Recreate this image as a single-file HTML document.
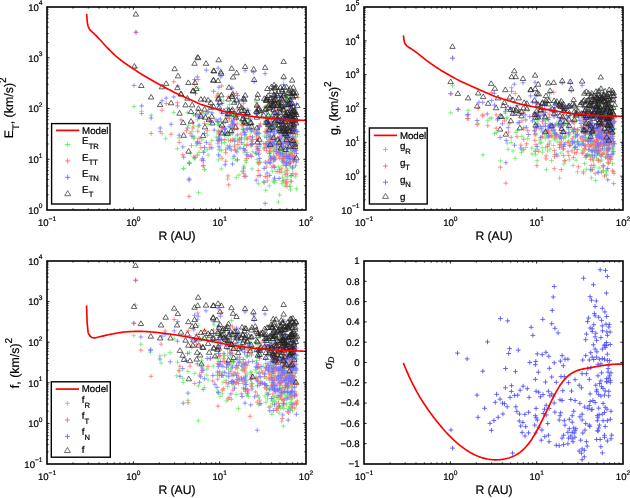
<!DOCTYPE html><html><head><meta charset="utf-8"><style>html,body{margin:0;padding:0;background:#fff;width:630px;height:498px;overflow:hidden}svg{display:block;will-change:transform}text{font-family:"Liberation Sans", sans-serif;fill:#000;stroke:#000;stroke-width:0.22px;text-rendering:geometricPrecision}</style></head><body>
<svg width="630" height="498" viewBox="0 0 630 498">
<path d="M133.2 67.4h4.7M135.5 65.1v4.7M195.8 88.5h4.7M198.2 86.2v4.7M131.7 106.6h4.7M134.0 104.2v4.7M139.2 111.3h4.7M141.6 109.0v4.7M148.8 115.3h4.7M151.2 113.0v4.7M171.5 112.6h4.7M173.8 110.2v4.7M159.7 133.4h4.7M162.0 131.1v4.7M163.3 138.8h4.7M165.7 136.5v4.7M175.1 148.7h4.7M177.4 146.3v4.7M176.8 137.9h4.7M179.2 135.6v4.7M186.8 163.2h4.7M189.2 160.8v4.7M181.3 168.6h4.7M183.7 166.2v4.7M192.2 158.7h4.7M194.6 156.3v4.7M187.8 153.3h4.7M190.1 151.0v4.7M202.2 169.5h4.7M204.5 167.2v4.7M191.3 126.1h4.7M193.7 123.8v4.7M205.8 124.3h4.7M208.1 122.0v4.7M195.0 119.8h4.7M197.3 117.5v4.7M185.1 112.6h4.7M187.4 110.2v4.7M191.3 138.4h4.7M193.7 136.1v4.7M199.5 139.7h4.7M201.8 137.3v4.7M209.5 140.6h4.7M211.8 138.2v4.7M204.8 149.6h4.7M207.2 147.2v4.7M194.1 145.1h4.7M196.4 142.8v4.7M189.6 131.6h4.7M191.9 129.2v4.7M204.8 135.2h4.7M207.2 132.8v4.7M196.8 152.4h4.7M199.1 150.1v4.7M205.8 155.1h4.7M208.1 152.8v4.7M186.7 162.6h4.7M189.0 160.2v4.7M181.2 168.6h4.7M183.6 166.2v4.7M202.3 169.7h4.7M204.7 167.3v4.7M196.2 192.6h4.7M198.6 190.2v4.7M215.8 93.5h4.7M218.1 91.2v4.7M229.3 87.2h4.7M231.7 84.9v4.7M281.3 79.4h4.7M283.7 77.1v4.7M190.9 136.5h4.7M193.2 134.2v4.7M205.7 112.4h4.7M208.1 110.1v4.7M200.4 113.1h4.7M202.8 110.8v4.7M191.3 114.4h4.7M193.7 112.0v4.7M201.9 151.1h4.7M204.2 148.7v4.7M192.1 137.7h4.7M194.4 135.3v4.7M195.9 126.8h4.7M198.2 124.4v4.7M186.2 125.1h4.7M188.6 122.7v4.7M233.9 177.6h4.7M236.3 175.3v4.7M233.3 116.6h4.7M235.6 114.2v4.7M232.8 138.3h4.7M235.1 135.9v4.7M223.5 121.0h4.7M225.9 118.6v4.7M231.7 115.3h4.7M234.0 112.9v4.7M235.5 149.0h4.7M237.8 146.6v4.7M239.4 122.5h4.7M241.7 120.2v4.7M213.9 137.1h4.7M216.3 134.8v4.7M217.4 156.1h4.7M219.8 153.7v4.7M221.9 134.7h4.7M224.3 132.3v4.7M226.6 112.3h4.7M228.9 110.0v4.7M230.0 128.2h4.7M232.4 125.9v4.7M242.6 110.5h4.7M244.9 108.1v4.7M246.1 119.4h4.7M248.5 117.1v4.7M248.7 125.2h4.7M251.1 122.9v4.7M216.9 149.8h4.7M219.2 147.5v4.7M215.3 143.6h4.7M217.7 141.2v4.7M235.2 116.3h4.7M237.6 114.0v4.7M241.7 144.5h4.7M244.1 142.2v4.7M243.5 115.8h4.7M245.8 113.4v4.7M219.1 150.3h4.7M221.4 147.9v4.7M232.5 149.4h4.7M234.9 147.1v4.7M241.8 131.8h4.7M244.2 129.5v4.7M244.2 137.5h4.7M246.6 135.1v4.7M216.1 159.9h4.7M218.4 157.6v4.7M225.3 145.8h4.7M227.7 143.5v4.7M236.6 175.1h4.7M238.9 172.8v4.7M248.7 145.8h4.7M251.1 143.5v4.7M256.9 153.1h4.7M259.3 150.8v4.7M216.2 133.9h4.7M218.5 131.5v4.7M219.2 143.2h4.7M221.5 140.9v4.7M229.9 114.7h4.7M232.2 112.3v4.7M243.3 160.4h4.7M245.7 158.1v4.7M253.9 134.3h4.7M256.3 131.9v4.7M223.7 135.4h4.7M226.1 133.0v4.7M232.3 145.0h4.7M234.7 142.7v4.7M221.3 100.7h4.7M223.7 98.4v4.7M230.3 129.9h4.7M232.7 127.5v4.7M233.6 160.2h4.7M236.0 157.8v4.7M241.0 128.2h4.7M243.3 125.9v4.7M242.1 135.3h4.7M244.5 132.9v4.7M254.5 147.0h4.7M256.9 144.7v4.7M257.7 146.2h4.7M260.1 143.9v4.7M226.1 134.5h4.7M228.5 132.2v4.7M236.5 101.6h4.7M238.9 99.2v4.7M216.1 124.4h4.7M218.4 122.0v4.7M230.6 158.2h4.7M233.0 155.9v4.7M225.3 179.0h4.7M227.6 176.7v4.7M226.1 140.3h4.7M228.5 137.9v4.7M235.1 141.0h4.7M237.5 138.6v4.7M241.6 166.1h4.7M244.0 163.7v4.7M241.6 152.2h4.7M244.0 149.8v4.7M256.3 163.9h4.7M258.7 161.5v4.7M215.8 122.5h4.7M218.2 120.1v4.7M217.4 149.8h4.7M219.8 147.4v4.7M254.1 153.5h4.7M256.4 151.1v4.7M218.9 168.9h4.7M221.3 166.5v4.7M239.8 171.4h4.7M242.1 169.0v4.7M244.8 155.9h4.7M247.2 153.6v4.7M249.6 141.3h4.7M252.0 138.9v4.7M229.0 116.5h4.7M231.4 114.1v4.7M255.0 139.2h4.7M257.4 136.9v4.7M216.2 131.2h4.7M218.6 128.8v4.7M244.8 152.6h4.7M247.1 150.3v4.7M250.5 151.8h4.7M252.9 149.4v4.7M255.5 162.4h4.7M257.9 160.1v4.7M259.1 116.0h4.7M261.5 113.6v4.7M223.3 116.1h4.7M225.7 113.8v4.7M248.6 132.0h4.7M250.9 129.6v4.7M254.8 159.6h4.7M257.1 157.2v4.7M257.2 133.0h4.7M259.6 130.7v4.7M216.1 132.8h4.7M218.4 130.5v4.7M243.9 162.2h4.7M246.3 159.8v4.7M253.9 102.2h4.7M256.2 99.8v4.7M224.9 147.8h4.7M227.3 145.5v4.7M227.3 104.6h4.7M229.7 102.2v4.7M242.2 139.3h4.7M244.6 136.9v4.7M249.7 168.9h4.7M252.1 166.5v4.7M254.5 133.4h4.7M256.9 131.1v4.7M222.0 142.4h4.7M224.3 140.0v4.7M229.8 133.8h4.7M232.2 131.5v4.7M254.9 114.0h4.7M257.2 111.7v4.7M236.8 138.4h4.7M239.1 136.1v4.7M240.1 129.2h4.7M242.5 126.9v4.7M244.6 139.2h4.7M247.0 136.9v4.7M248.9 141.2h4.7M251.2 138.8v4.7M283.2 154.4h4.7M285.5 152.0v4.7M288.0 129.7h4.7M290.3 127.4v4.7M290.4 158.9h4.7M292.8 156.5v4.7M266.0 139.1h4.7M268.4 136.8v4.7M276.5 144.5h4.7M278.9 142.1v4.7M289.5 128.3h4.7M291.9 125.9v4.7M272.7 139.2h4.7M275.1 136.8v4.7M279.5 138.7h4.7M281.8 136.3v4.7M276.7 153.0h4.7M279.1 150.7v4.7M284.5 135.3h4.7M286.8 132.9v4.7M286.4 144.8h4.7M288.8 142.5v4.7M276.8 103.2h4.7M279.1 100.8v4.7M277.4 148.8h4.7M279.8 146.4v4.7M280.9 146.3h4.7M283.3 144.0v4.7M290.2 168.6h4.7M292.6 166.3v4.7M271.8 124.3h4.7M274.1 122.0v4.7M271.4 160.9h4.7M273.7 158.5v4.7M284.9 133.9h4.7M287.2 131.5v4.7M277.4 150.6h4.7M279.8 148.2v4.7M286.6 105.8h4.7M288.9 103.5v4.7M288.3 175.7h4.7M290.6 173.3v4.7M292.1 125.8h4.7M294.4 123.5v4.7M274.9 122.6h4.7M277.2 120.2v4.7M274.8 124.4h4.7M277.2 122.0v4.7M274.1 114.5h4.7M276.4 112.2v4.7M268.0 116.5h4.7M270.4 114.2v4.7M277.3 194.9h4.7M279.6 192.6v4.7M290.1 140.0h4.7M292.4 137.7v4.7M277.7 148.8h4.7M280.0 146.4v4.7M282.6 171.9h4.7M284.9 169.5v4.7M269.3 129.7h4.7M271.6 127.3v4.7M280.5 161.8h4.7M282.9 159.4v4.7M276.4 166.8h4.7M278.7 164.4v4.7M288.0 152.2h4.7M290.4 149.8v4.7M292.8 137.0h4.7M295.2 134.7v4.7M278.6 133.1h4.7M281.0 130.7v4.7M284.3 131.0h4.7M286.7 128.7v4.7M286.8 149.0h4.7M289.2 146.6v4.7M272.8 159.7h4.7M275.1 157.4v4.7M289.8 137.1h4.7M292.2 134.7v4.7M268.8 117.5h4.7M271.1 115.2v4.7M275.9 148.3h4.7M278.3 145.9v4.7M279.3 172.1h4.7M281.7 169.8v4.7M265.7 145.9h4.7M268.0 143.5v4.7M272.2 182.4h4.7M274.5 180.1v4.7M276.0 202.1h4.7M278.4 199.7v4.7M282.6 186.0h4.7M285.0 183.6v4.7M286.1 109.1h4.7M288.4 106.7v4.7M290.9 126.1h4.7M293.3 123.7v4.7M291.9 143.1h4.7M294.3 140.7v4.7M280.5 149.0h4.7M282.9 146.7v4.7M283.9 161.2h4.7M286.2 158.9v4.7M290.7 149.6h4.7M293.1 147.3v4.7M273.8 147.7h4.7M276.1 145.3v4.7M270.9 142.7h4.7M273.3 140.3v4.7M290.8 142.4h4.7M293.1 140.1v4.7M264.8 163.6h4.7M267.2 161.2v4.7M269.7 124.2h4.7M272.1 121.9v4.7M283.4 183.9h4.7M285.7 181.5v4.7M290.6 151.1h4.7M293.0 148.8v4.7M294.1 188.8h4.7M296.4 186.5v4.7M292.3 146.2h4.7M294.7 143.9v4.7M280.1 177.4h4.7M282.5 175.0v4.7M269.7 148.0h4.7M272.1 145.6v4.7M288.2 189.9h4.7M290.6 187.5v4.7M283.0 145.9h4.7M285.4 143.5v4.7M290.4 159.8h4.7M292.7 157.5v4.7M292.9 176.8h4.7M295.3 174.5v4.7M263.2 190.3h4.7M265.6 188.0v4.7M279.5 183.7h4.7M281.9 181.3v4.7M263.6 124.7h4.7M265.9 122.4v4.7M284.6 168.8h4.7M286.9 166.5v4.7M287.9 148.2h4.7M290.2 145.9v4.7M291.2 111.4h4.7M293.6 109.0v4.7M280.9 161.2h4.7M283.2 158.8v4.7M271.3 180.1h4.7M273.6 177.7v4.7M279.5 133.6h4.7M281.9 131.3v4.7M284.2 96.5h4.7M286.6 94.1v4.7M261.9 182.6h4.7M264.3 180.3v4.7M273.0 120.5h4.7M275.3 118.2v4.7M276.1 142.7h4.7M278.5 140.3v4.7M277.3 126.2h4.7M279.6 123.8v4.7M286.4 129.5h4.7M288.8 127.1v4.7M271.7 147.6h4.7M274.0 145.3v4.7M267.4 137.1h4.7M269.7 134.7v4.7M270.0 171.1h4.7M272.3 168.7v4.7M280.2 180.9h4.7M282.6 178.6v4.7M287.9 166.1h4.7M290.3 163.7v4.7M293.4 137.1h4.7M295.8 134.7v4.7M286.7 136.3h4.7M289.1 133.9v4.7M283.9 134.7h4.7M286.2 132.3v4.7M263.8 110.5h4.7M266.1 108.1v4.7M262.3 107.3h4.7M264.6 105.0v4.7M280.4 159.1h4.7M282.8 156.7v4.7M280.7 165.6h4.7M283.0 163.3v4.7M292.5 140.2h4.7M294.9 137.9v4.7M264.4 143.6h4.7M266.8 141.3v4.7M278.5 152.9h4.7M280.8 150.5v4.7M285.8 143.9h4.7M288.2 141.6v4.7M290.4 167.9h4.7M292.8 165.5v4.7M267.8 152.7h4.7M270.2 150.4v4.7M272.2 131.4h4.7M274.5 129.0v4.7M280.9 148.8h4.7M283.3 146.5v4.7M289.2 142.4h4.7M291.5 140.0v4.7M281.2 128.0h4.7M283.6 125.7v4.7M281.3 116.4h4.7M283.7 114.1v4.7M268.0 136.5h4.7M270.3 134.1v4.7M265.9 135.2h4.7M268.3 132.9v4.7M255.9 183.7h4.7M258.3 181.3v4.7M287.6 137.1h4.7M290.0 134.8v4.7M293.9 143.6h4.7M296.2 141.2v4.7M257.8 162.1h4.7M260.1 159.8v4.7M279.7 123.5h4.7M282.0 121.1v4.7M283.6 136.3h4.7M285.9 134.0v4.7M286.7 114.4h4.7M289.1 112.0v4.7M290.5 115.2h4.7M292.8 112.9v4.7M294.7 143.0h4.7M297.1 140.6v4.7M263.7 120.5h4.7M266.0 118.2v4.7M269.3 167.3h4.7M271.7 164.9v4.7M271.5 138.8h4.7M273.8 136.4v4.7M284.3 132.9h4.7M286.6 130.6v4.7M266.1 127.4h4.7M268.4 125.0v4.7M261.4 148.9h4.7M263.7 146.5v4.7M268.0 128.3h4.7M270.3 126.0v4.7M264.1 106.1h4.7M266.5 103.7v4.7M284.6 179.4h4.7M287.0 177.0v4.7M267.6 151.0h4.7M269.9 148.6v4.7M264.8 141.8h4.7M267.1 139.4v4.7M283.0 153.0h4.7M285.3 150.7v4.7M287.4 186.5h4.7M289.7 184.1v4.7M289.8 119.2h4.7M292.1 116.8v4.7M279.4 113.8h4.7M281.7 111.4v4.7M276.6 113.2h4.7M278.9 110.8v4.7M292.6 131.6h4.7M294.9 129.3v4.7M269.1 159.3h4.7M271.4 156.9v4.7M287.4 100.4h4.7M289.7 98.0v4.7M267.4 139.2h4.7M269.8 136.9v4.7M276.8 144.4h4.7M279.2 142.1v4.7M288.2 181.3h4.7M290.6 178.9v4.7M292.9 143.9h4.7M295.2 141.6v4.7M267.6 124.9h4.7M269.9 122.5v4.7M292.3 145.0h4.7M294.6 142.7v4.7M282.8 108.2h4.7M285.1 105.8v4.7M281.4 125.9h4.7M283.7 123.6v4.7M289.4 110.6h4.7M291.8 108.3v4.7M281.0 150.4h4.7M283.3 148.0v4.7M284.2 152.1h4.7M286.6 149.7v4.7M290.6 151.9h4.7M292.9 149.6v4.7M273.0 180.5h4.7M275.4 178.1v4.7M271.3 143.2h4.7M273.7 140.9v4.7M277.7 157.0h4.7M280.0 154.6v4.7M288.1 133.8h4.7M290.5 131.5v4.7M277.5 128.3h4.7M279.9 126.0v4.7M292.1 121.9h4.7M294.5 119.5v4.7M269.9 126.5h4.7M272.2 124.2v4.7M266.9 185.9h4.7M269.3 183.5v4.7M287.9 186.1h4.7M290.3 183.7v4.7M290.5 151.0h4.7M292.9 148.7v4.7M271.6 150.4h4.7M274.0 148.1v4.7M284.2 121.8h4.7M286.5 119.4v4.7M289.2 124.5h4.7M291.5 122.2v4.7M283.7 138.4h4.7M286.0 136.0v4.7M295.0 134.4h4.7M297.3 132.1v4.7M271.3 181.6h4.7M273.6 179.3v4.7M279.4 151.0h4.7M281.8 148.6v4.7M271.1 146.1h4.7M273.4 143.7v4.7M285.7 134.5h4.7M288.0 132.2v4.7M267.7 156.1h4.7M270.1 153.7v4.7M287.9 136.6h4.7M290.2 134.2v4.7M286.3 155.6h4.7M288.7 153.3v4.7M282.2 157.2h4.7M284.6 154.8v4.7M291.2 158.0h4.7M293.6 155.6v4.7M285.0 176.4h4.7M287.4 174.1v4.7M266.7 137.1h4.7M269.0 134.7v4.7M287.8 161.7h4.7M290.1 159.4v4.7M273.5 171.5h4.7M275.9 169.1v4.7M262.3 136.1h4.7M264.7 133.7v4.7M293.7 142.9h4.7M296.1 140.5v4.7M282.2 118.7h4.7M284.6 116.4v4.7M288.8 160.0h4.7M291.1 157.7v4.7M265.7 114.6h4.7M268.1 112.2v4.7M282.8 179.9h4.7M285.2 177.6v4.7" stroke="#6ae86a" stroke-width="0.78" fill="none"/>
<path d="M133.8 32.5h4.7M136.2 30.1v4.7M195.8 79.5h4.7M198.2 77.2v4.7M192.2 84.2h4.7M194.6 81.9v4.7M171.5 81.8h4.7M173.8 79.5v4.7M139.2 113.5h4.7M141.6 111.2v4.7M159.7 110.2h4.7M162.0 107.9v4.7M163.8 103.6h4.7M166.2 101.2v4.7M175.1 102.7h4.7M177.4 100.4v4.7M157.8 131.6h4.7M160.2 129.2v4.7M148.8 133.4h4.7M151.2 131.1v4.7M168.8 134.3h4.7M171.1 132.0v4.7M176.8 142.4h4.7M179.2 140.1v4.7M180.5 154.7h4.7M182.8 152.3v4.7M191.3 156.9h4.7M193.7 154.6v4.7M200.8 165.5h4.7M203.1 163.2v4.7M190.5 128.0h4.7M192.8 125.7v4.7M202.2 123.4h4.7M204.5 121.1v4.7M207.6 119.8h4.7M209.9 117.5v4.7M178.7 119.8h4.7M181.0 117.5v4.7M187.8 133.4h4.7M190.1 131.1v4.7M196.8 138.4h4.7M199.1 136.1v4.7M207.6 144.2h4.7M209.9 141.8v4.7M198.6 147.8h4.7M200.9 145.5v4.7M207.6 147.8h4.7M209.9 145.5v4.7M184.1 130.7h4.7M186.4 128.3v4.7M204.8 130.7h4.7M207.2 128.3v4.7M195.0 155.1h4.7M197.3 152.8v4.7M201.0 166.0h4.7M203.3 163.7v4.7M186.7 196.4h4.7M189.0 194.1v4.7M219.3 85.9h4.7M221.7 83.6v4.7M231.2 93.1h4.7M233.5 90.8v4.7M234.3 93.5h4.7M236.7 91.2v4.7M195.1 141.5h4.7M197.5 139.1v4.7M195.5 131.3h4.7M197.8 128.9v4.7M190.7 122.7h4.7M193.0 120.3v4.7M189.1 145.6h4.7M191.5 143.2v4.7M195.2 142.7h4.7M197.6 140.4v4.7M199.2 112.6h4.7M201.6 110.3v4.7M207.2 120.5h4.7M209.6 118.1v4.7M199.4 160.1h4.7M201.7 157.8v4.7M234.8 124.0h4.7M237.1 121.6v4.7M232.9 113.5h4.7M235.2 111.1v4.7M233.2 150.5h4.7M235.6 148.1v4.7M223.0 133.7h4.7M225.4 131.4v4.7M231.2 124.1h4.7M233.6 121.8v4.7M235.6 144.4h4.7M238.0 142.1v4.7M239.6 124.7h4.7M242.0 122.4v4.7M214.0 97.2h4.7M216.3 94.8v4.7M217.7 110.5h4.7M220.0 108.2v4.7M223.4 149.7h4.7M225.8 147.4v4.7M226.6 118.2h4.7M228.9 115.9v4.7M230.7 121.8h4.7M233.1 119.4v4.7M242.8 132.7h4.7M245.2 130.4v4.7M246.4 156.6h4.7M248.8 154.2v4.7M249.8 139.9h4.7M252.1 137.6v4.7M216.7 134.2h4.7M219.0 131.9v4.7M215.2 121.5h4.7M217.6 119.2v4.7M234.2 118.9h4.7M236.6 116.6v4.7M241.1 108.4h4.7M243.5 106.0v4.7M244.0 145.6h4.7M246.4 143.3v4.7M228.1 140.6h4.7M230.5 138.2v4.7M220.4 128.1h4.7M222.7 125.8v4.7M232.1 146.9h4.7M234.5 144.6v4.7M241.5 173.7h4.7M243.9 171.4v4.7M245.5 144.4h4.7M247.8 142.0v4.7M215.5 95.0h4.7M217.8 92.7v4.7M225.7 96.7h4.7M228.1 94.4v4.7M237.5 139.4h4.7M239.8 137.1v4.7M249.4 144.3h4.7M251.8 141.9v4.7M257.1 127.0h4.7M259.5 124.6v4.7M216.4 140.9h4.7M218.8 138.6v4.7M219.5 127.8h4.7M221.9 125.4v4.7M229.3 121.5h4.7M231.6 119.1v4.7M242.7 150.6h4.7M245.0 148.2v4.7M254.8 149.3h4.7M257.2 146.9v4.7M223.4 161.2h4.7M225.8 158.9v4.7M232.3 128.8h4.7M234.6 126.5v4.7M221.4 123.1h4.7M223.7 120.8v4.7M230.8 139.8h4.7M233.1 137.4v4.7M234.8 108.9h4.7M237.2 106.5v4.7M241.5 124.6h4.7M243.9 122.2v4.7M242.6 117.3h4.7M244.9 115.0v4.7M254.0 139.4h4.7M256.3 137.1v4.7M256.7 150.7h4.7M259.1 148.4v4.7M227.0 118.3h4.7M229.4 116.0v4.7M216.6 139.3h4.7M219.0 136.9v4.7M224.5 118.0h4.7M226.8 115.6v4.7M229.9 140.1h4.7M232.2 137.8v4.7M225.0 132.7h4.7M227.4 130.4v4.7M226.3 184.8h4.7M228.7 182.5v4.7M234.8 128.4h4.7M237.1 126.0v4.7M241.1 171.2h4.7M243.4 168.8v4.7M241.3 103.2h4.7M243.7 100.9v4.7M256.4 163.0h4.7M258.8 160.6v4.7M216.1 140.0h4.7M218.4 137.7v4.7M217.3 132.0h4.7M219.7 129.7v4.7M254.4 136.0h4.7M256.7 133.6v4.7M219.2 121.8h4.7M221.6 119.4v4.7M238.7 134.0h4.7M241.0 131.6v4.7M245.0 109.3h4.7M247.3 107.0v4.7M249.7 139.6h4.7M252.1 137.2v4.7M229.6 124.5h4.7M232.0 122.2v4.7M255.7 150.0h4.7M258.1 147.6v4.7M217.2 140.0h4.7M219.5 137.7v4.7M245.4 138.6h4.7M247.7 136.2v4.7M219.6 158.3h4.7M222.0 156.0v4.7M251.6 131.7h4.7M254.0 129.4v4.7M256.2 138.7h4.7M258.6 136.3v4.7M258.2 123.9h4.7M260.5 121.6v4.7M223.4 152.7h4.7M225.7 150.4v4.7M247.7 136.6h4.7M250.1 134.2v4.7M254.6 106.4h4.7M256.9 104.0v4.7M256.9 125.5h4.7M259.2 123.2v4.7M215.8 131.0h4.7M218.2 128.6v4.7M243.2 112.4h4.7M245.6 110.1v4.7M254.4 107.2h4.7M256.8 104.8v4.7M225.6 175.9h4.7M228.0 173.6v4.7M227.2 133.2h4.7M229.6 130.8v4.7M242.0 176.5h4.7M244.3 174.2v4.7M249.3 156.5h4.7M251.7 154.2v4.7M254.8 146.4h4.7M257.1 144.0v4.7M222.4 139.5h4.7M224.8 137.2v4.7M255.8 170.6h4.7M258.2 168.2v4.7M237.0 140.1h4.7M239.3 137.7v4.7M239.6 125.0h4.7M242.0 122.6v4.7M244.3 158.6h4.7M246.7 156.2v4.7M248.3 145.0h4.7M250.7 142.7v4.7M283.1 105.3h4.7M285.4 103.0v4.7M288.1 162.7h4.7M290.5 160.4v4.7M290.8 122.4h4.7M293.1 120.0v4.7M265.9 124.2h4.7M268.2 121.8v4.7M276.8 138.5h4.7M279.1 136.1v4.7M288.9 181.3h4.7M291.3 179.0v4.7M272.1 137.2h4.7M274.4 134.8v4.7M273.8 121.1h4.7M276.1 118.7v4.7M279.4 144.2h4.7M281.7 141.9v4.7M277.1 136.2h4.7M279.4 133.8v4.7M284.5 182.9h4.7M286.9 180.5v4.7M287.4 129.4h4.7M289.7 127.0v4.7M276.1 131.0h4.7M278.5 128.6v4.7M281.1 146.4h4.7M283.4 144.0v4.7M291.0 118.4h4.7M293.4 116.0v4.7M271.5 102.0h4.7M273.9 99.6v4.7M271.6 159.1h4.7M273.9 156.7v4.7M285.4 128.5h4.7M287.8 126.1v4.7M277.3 158.4h4.7M279.7 156.0v4.7M286.1 117.5h4.7M288.5 115.2v4.7M288.6 137.7h4.7M291.0 135.3v4.7M291.4 147.1h4.7M293.8 144.7v4.7M275.4 171.5h4.7M277.8 169.1v4.7M274.6 111.0h4.7M277.0 108.6v4.7M290.7 158.3h4.7M293.0 155.9v4.7M274.4 153.7h4.7M276.7 151.4v4.7M267.9 148.6h4.7M270.2 146.2v4.7M277.6 172.0h4.7M279.9 169.6v4.7M290.2 127.3h4.7M292.5 125.0v4.7M277.6 140.3h4.7M279.9 137.9v4.7M283.9 156.2h4.7M286.3 153.9v4.7M268.1 139.3h4.7M270.5 136.9v4.7M279.3 158.9h4.7M281.6 156.5v4.7M275.7 117.5h4.7M278.0 115.2v4.7M288.3 143.7h4.7M290.6 141.4v4.7M292.7 114.4h4.7M295.0 112.1v4.7M277.3 101.3h4.7M279.7 98.9v4.7M284.3 139.3h4.7M286.6 137.0v4.7M287.4 115.9h4.7M289.7 113.6v4.7M273.0 121.7h4.7M275.3 119.4v4.7M290.0 121.0h4.7M292.4 118.7v4.7M268.3 141.8h4.7M270.6 139.5v4.7M275.7 143.6h4.7M278.1 141.3v4.7M279.1 143.9h4.7M281.5 141.5v4.7M266.0 161.0h4.7M268.4 158.7v4.7M273.1 158.9h4.7M275.4 156.5v4.7M276.5 155.8h4.7M278.8 153.5v4.7M282.6 158.9h4.7M285.0 156.5v4.7M287.7 112.1h4.7M290.0 109.7v4.7M290.5 173.7h4.7M292.8 171.3v4.7M292.4 160.0h4.7M294.8 157.6v4.7M280.7 122.2h4.7M283.1 119.9v4.7M290.1 155.6h4.7M292.4 153.3v4.7M274.7 153.9h4.7M277.0 151.6v4.7M271.6 158.1h4.7M274.0 155.7v4.7M291.5 145.6h4.7M293.8 143.2v4.7M265.0 118.3h4.7M267.4 116.0v4.7M268.7 145.6h4.7M271.1 143.3v4.7M283.2 165.3h4.7M285.5 163.0v4.7M290.5 130.8h4.7M292.9 128.5v4.7M293.1 134.6h4.7M295.5 132.3v4.7M293.6 174.1h4.7M296.0 171.7v4.7M280.4 155.9h4.7M282.7 153.6v4.7M269.6 131.1h4.7M271.9 128.7v4.7M288.1 148.0h4.7M290.5 145.7v4.7M283.1 139.5h4.7M285.4 137.1v4.7M290.2 139.4h4.7M292.5 137.0v4.7M292.2 127.3h4.7M294.5 125.0v4.7M262.9 176.5h4.7M265.3 174.1v4.7M278.4 137.7h4.7M280.8 135.4v4.7M263.8 167.1h4.7M266.2 164.7v4.7M284.8 173.8h4.7M287.2 171.5v4.7M287.8 133.1h4.7M290.2 130.7v4.7M290.8 146.7h4.7M293.1 144.3v4.7M279.6 136.0h4.7M281.9 133.6v4.7M271.4 151.2h4.7M273.8 148.9v4.7M281.2 116.5h4.7M283.6 114.2v4.7M284.2 105.3h4.7M286.6 103.0v4.7M262.1 147.9h4.7M264.4 145.6v4.7M272.3 116.3h4.7M274.7 114.0v4.7M274.4 146.0h4.7M276.8 143.7v4.7M277.3 169.4h4.7M279.6 167.0v4.7M285.8 139.6h4.7M288.2 137.2v4.7M271.1 156.1h4.7M273.4 153.7v4.7M267.5 109.1h4.7M269.9 106.7v4.7M270.8 166.1h4.7M273.1 163.7v4.7M280.7 124.1h4.7M283.1 121.8v4.7M287.5 153.8h4.7M289.9 151.4v4.7M293.1 165.7h4.7M295.5 163.4v4.7M287.0 133.8h4.7M289.3 131.5v4.7M283.7 120.5h4.7M286.1 118.2v4.7M264.0 150.7h4.7M266.4 148.4v4.7M263.1 144.7h4.7M265.4 142.4v4.7M281.0 163.0h4.7M283.4 160.6v4.7M281.0 116.2h4.7M283.3 113.8v4.7M293.6 140.9h4.7M295.9 138.6v4.7M264.2 131.3h4.7M266.6 129.0v4.7M279.1 147.1h4.7M281.5 144.8v4.7M286.0 140.9h4.7M288.3 138.6v4.7M290.7 156.9h4.7M293.1 154.6v4.7M268.3 141.4h4.7M270.7 139.0v4.7M272.0 108.6h4.7M274.4 106.3v4.7M281.9 153.3h4.7M284.2 151.0v4.7M289.3 154.3h4.7M291.6 151.9v4.7M280.9 158.4h4.7M283.2 156.0v4.7M281.2 180.9h4.7M283.5 178.5v4.7M267.5 151.1h4.7M269.9 148.8v4.7M265.7 141.7h4.7M268.1 139.4v4.7M255.6 175.8h4.7M258.0 173.5v4.7M286.7 128.2h4.7M289.1 125.8v4.7M293.7 123.7h4.7M296.1 121.3v4.7M257.2 162.2h4.7M259.6 159.9v4.7M278.9 147.3h4.7M281.2 144.9v4.7M282.8 135.4h4.7M285.1 133.0v4.7M286.4 110.2h4.7M288.8 107.9v4.7M290.4 119.4h4.7M292.7 117.0v4.7M294.4 121.1h4.7M296.7 118.8v4.7M263.2 106.8h4.7M265.6 104.5v4.7M269.1 137.8h4.7M271.4 135.5v4.7M271.7 166.2h4.7M274.1 163.8v4.7M283.9 182.0h4.7M286.3 179.6v4.7M264.8 176.8h4.7M267.2 174.5v4.7M261.5 143.6h4.7M263.9 141.3v4.7M268.2 159.3h4.7M270.6 156.9v4.7M263.6 132.4h4.7M265.9 130.0v4.7M285.2 143.3h4.7M287.5 141.0v4.7M266.4 145.7h4.7M268.8 143.4v4.7M264.9 180.9h4.7M267.3 178.5v4.7M282.8 174.7h4.7M285.2 172.4v4.7M287.4 154.6h4.7M289.7 152.2v4.7M290.1 123.8h4.7M292.5 121.4v4.7M278.8 144.3h4.7M281.2 141.9v4.7M276.5 151.8h4.7M278.8 149.5v4.7M292.7 121.1h4.7M295.1 118.7v4.7M269.2 109.3h4.7M271.5 107.0v4.7M287.8 116.9h4.7M290.2 114.6v4.7M267.7 106.8h4.7M270.0 104.4v4.7M276.9 150.0h4.7M279.2 147.6v4.7M287.6 123.6h4.7M290.0 121.2v4.7M264.3 128.9h4.7M266.7 126.5v4.7M291.9 151.4h4.7M294.3 149.1v4.7M267.8 105.0h4.7M270.2 102.7v4.7M293.1 145.8h4.7M295.5 143.4v4.7M284.0 142.6h4.7M286.3 140.3v4.7M282.0 162.1h4.7M284.3 159.8v4.7M288.9 132.2h4.7M291.3 129.9v4.7M281.4 124.0h4.7M283.8 121.7v4.7M284.0 165.2h4.7M286.3 162.8v4.7M291.7 139.0h4.7M294.1 136.6v4.7M273.1 96.1h4.7M275.4 93.8v4.7M271.6 144.5h4.7M273.9 142.1v4.7M277.3 121.7h4.7M279.6 119.4v4.7M288.4 107.4h4.7M290.7 105.0v4.7M277.7 123.9h4.7M280.0 121.6v4.7M292.1 156.2h4.7M294.5 153.9v4.7M270.5 139.2h4.7M272.8 136.8v4.7M267.2 135.6h4.7M269.5 133.2v4.7M288.4 147.0h4.7M290.8 144.6v4.7M289.7 143.4h4.7M292.0 141.1v4.7M271.4 125.9h4.7M273.8 123.5v4.7M285.0 130.4h4.7M287.4 128.0v4.7M289.0 127.4h4.7M291.3 125.1v4.7M284.8 170.5h4.7M287.1 168.2v4.7M295.7 97.3h4.7M298.1 94.9v4.7M271.5 159.7h4.7M273.9 157.4v4.7M278.9 168.9h4.7M281.3 166.6v4.7M271.5 143.4h4.7M273.9 141.1v4.7M284.6 122.1h4.7M286.9 119.8v4.7M267.6 140.2h4.7M270.0 137.8v4.7M288.0 105.1h4.7M290.4 102.7v4.7M286.4 158.3h4.7M288.8 155.9v4.7M282.8 110.6h4.7M285.1 108.2v4.7M291.6 120.9h4.7M293.9 118.5v4.7M284.7 186.3h4.7M287.0 184.0v4.7M265.7 132.8h4.7M268.0 130.4v4.7M287.8 121.0h4.7M290.2 118.6v4.7M273.1 106.4h4.7M275.5 104.0v4.7M262.8 131.5h4.7M265.2 129.2v4.7M293.8 144.6h4.7M296.2 142.2v4.7M283.0 105.4h4.7M285.4 103.1v4.7M289.3 142.1h4.7M291.7 139.8v4.7M266.0 120.4h4.7M268.4 118.1v4.7" stroke="#ff7070" stroke-width="0.78" fill="none"/>
<path d="M133.5 32.1h4.7M135.8 29.8v4.7M131.7 85.4h4.7M134.0 83.1v4.7M204.0 70.1h4.7M206.3 67.8v4.7M195.0 76.9h4.7M197.3 74.6v4.7M192.2 79.5h4.7M194.6 77.2v4.7M175.5 86.0h4.7M177.8 83.7v4.7M193.2 93.6h4.7M195.5 91.2v4.7M139.2 105.9h4.7M141.6 103.6v4.7M148.8 118.0h4.7M151.2 115.7v4.7M163.8 98.1h4.7M166.2 95.8v4.7M159.7 100.8h4.7M162.0 98.5v4.7M171.5 96.9h4.7M173.8 94.6v4.7M175.1 105.9h4.7M177.4 103.6v4.7M168.8 124.3h4.7M171.1 122.0v4.7M157.8 128.0h4.7M160.2 125.7v4.7M180.5 146.9h4.7M182.8 144.6v4.7M176.8 135.2h4.7M179.2 132.8v4.7M181.3 157.2h4.7M183.7 154.8v4.7M186.8 178.9h4.7M189.2 176.6v4.7M200.3 158.7h4.7M202.7 156.3v4.7M185.1 128.0h4.7M187.4 125.7v4.7M196.8 125.2h4.7M199.1 122.9v4.7M209.5 122.5h4.7M211.8 120.2v4.7M200.3 117.1h4.7M202.7 114.8v4.7M193.2 115.3h4.7M195.5 113.0v4.7M205.8 111.7h4.7M208.1 109.4v4.7M189.6 136.1h4.7M191.9 133.8v4.7M204.0 142.4h4.7M206.3 140.1v4.7M197.7 143.3h4.7M200.0 141.0v4.7M202.2 147.5h4.7M204.5 145.2v4.7M209.5 147.8h4.7M211.8 145.5v4.7M202.2 133.4h4.7M204.5 131.1v4.7M201.2 152.4h4.7M203.6 150.1v4.7M201.0 160.7h4.7M203.3 158.3v4.7M186.7 180.0h4.7M189.0 177.7v4.7M215.8 68.2h4.7M218.1 65.9v4.7M218.5 76.9h4.7M220.8 74.6v4.7M216.7 87.2h4.7M219.0 84.9v4.7M211.2 91.3h4.7M213.6 89.0v4.7M229.7 88.4h4.7M232.0 86.1v4.7M242.8 70.4h4.7M245.2 68.1v4.7M251.0 72.2h4.7M253.3 69.9v4.7M251.8 81.8h4.7M254.2 79.5v4.7M262.8 73.6h4.7M265.1 71.2v4.7M281.3 84.5h4.7M283.7 82.2v4.7M211.9 130.1h4.7M214.2 127.8v4.7M203.5 113.9h4.7M205.8 111.6v4.7M192.7 157.4h4.7M195.1 155.1v4.7M197.0 116.9h4.7M199.4 114.6v4.7M187.2 163.3h4.7M189.5 160.9v4.7M209.7 112.8h4.7M212.0 110.4v4.7M196.1 116.9h4.7M198.4 114.5v4.7M194.7 143.1h4.7M197.0 140.7v4.7M232.4 141.0h4.7M234.8 138.7v4.7M222.2 128.1h4.7M224.5 125.7v4.7M231.7 156.2h4.7M234.0 153.9v4.7M235.3 95.6h4.7M237.6 93.2v4.7M239.2 142.7h4.7M241.6 140.3v4.7M213.7 119.9h4.7M216.1 117.5v4.7M217.9 119.0h4.7M220.3 116.6v4.7M222.6 132.4h4.7M224.9 130.1v4.7M226.8 148.2h4.7M229.1 145.8v4.7M230.8 120.4h4.7M233.1 118.1v4.7M242.0 132.4h4.7M244.3 130.1v4.7M246.0 110.7h4.7M248.3 108.4v4.7M250.1 137.1h4.7M252.5 134.8v4.7M216.9 125.8h4.7M219.3 123.4v4.7M215.7 121.5h4.7M218.0 119.1v4.7M235.1 159.8h4.7M237.5 157.4v4.7M241.2 129.8h4.7M243.5 127.5v4.7M243.5 176.2h4.7M245.8 173.9v4.7M228.4 127.4h4.7M230.7 125.0v4.7M219.6 113.4h4.7M222.0 111.0v4.7M232.5 101.7h4.7M234.9 99.4v4.7M241.0 99.4h4.7M243.3 97.1v4.7M245.5 125.5h4.7M247.9 123.1v4.7M215.7 140.7h4.7M218.0 138.4v4.7M225.5 116.0h4.7M227.8 113.6v4.7M237.6 148.0h4.7M240.0 145.6v4.7M248.6 129.5h4.7M251.0 127.1v4.7M257.5 126.2h4.7M259.8 123.8v4.7M216.0 104.6h4.7M218.4 102.3v4.7M219.5 103.5h4.7M221.9 101.1v4.7M229.7 132.3h4.7M232.1 130.0v4.7M242.7 134.6h4.7M245.0 132.2v4.7M254.5 111.1h4.7M256.8 108.7v4.7M222.7 164.7h4.7M225.1 162.3v4.7M231.8 124.1h4.7M234.2 121.8v4.7M222.1 129.4h4.7M224.5 127.1v4.7M230.4 125.1h4.7M232.8 122.8v4.7M234.5 151.9h4.7M236.8 149.6v4.7M241.3 148.5h4.7M243.6 146.1v4.7M253.9 180.2h4.7M256.2 177.8v4.7M257.7 175.4h4.7M260.1 173.0v4.7M226.8 126.4h4.7M229.1 124.0v4.7M236.5 114.6h4.7M238.8 112.2v4.7M216.7 138.8h4.7M219.1 136.5v4.7M230.0 123.0h4.7M232.4 120.7v4.7M224.8 114.8h4.7M227.2 112.5v4.7M227.1 109.8h4.7M229.4 107.4v4.7M235.0 135.0h4.7M237.3 132.6v4.7M242.4 149.8h4.7M244.8 147.5v4.7M241.4 168.1h4.7M243.7 165.8v4.7M256.0 154.4h4.7M258.4 152.0v4.7M216.6 136.9h4.7M219.0 134.5v4.7M216.9 108.9h4.7M219.3 106.6v4.7M254.6 133.8h4.7M257.0 131.4v4.7M218.8 131.3h4.7M221.2 128.9v4.7M239.2 115.8h4.7M241.5 113.5v4.7M244.4 154.7h4.7M246.8 152.4v4.7M249.8 144.5h4.7M252.2 142.2v4.7M228.9 150.0h4.7M231.2 147.6v4.7M255.6 148.4h4.7M257.9 146.1v4.7M216.1 154.8h4.7M218.4 152.4v4.7M245.3 129.5h4.7M247.6 127.2v4.7M219.3 140.0h4.7M221.7 137.6v4.7M249.7 143.6h4.7M252.1 141.3v4.7M256.5 133.7h4.7M258.9 131.4v4.7M259.3 112.8h4.7M261.7 110.4v4.7M223.2 128.9h4.7M225.6 126.5v4.7M248.0 119.2h4.7M250.4 116.9v4.7M255.5 105.7h4.7M257.9 103.4v4.7M257.4 144.5h4.7M259.8 142.1v4.7M216.7 146.8h4.7M219.0 144.5v4.7M243.9 113.8h4.7M246.2 111.4v4.7M253.4 153.0h4.7M255.8 150.6v4.7M225.1 108.3h4.7M227.4 105.9v4.7M227.6 146.3h4.7M229.9 143.9v4.7M241.5 114.3h4.7M243.9 112.0v4.7M249.2 130.2h4.7M251.6 127.8v4.7M254.3 114.2h4.7M256.7 111.8v4.7M222.1 133.9h4.7M224.5 131.6v4.7M230.2 164.0h4.7M232.5 161.7v4.7M255.5 128.8h4.7M257.8 126.4v4.7M236.7 100.1h4.7M239.0 97.8v4.7M239.1 137.9h4.7M241.5 135.5v4.7M244.3 128.7h4.7M246.7 126.3v4.7M248.4 155.2h4.7M250.7 152.9v4.7M287.5 142.1h4.7M289.9 139.7v4.7M290.4 143.3h4.7M292.7 141.0v4.7M265.7 131.1h4.7M268.0 128.8v4.7M276.7 178.5h4.7M279.1 176.1v4.7M289.5 125.8h4.7M291.8 123.5v4.7M272.4 167.6h4.7M274.7 165.2v4.7M273.8 151.6h4.7M276.1 149.3v4.7M279.4 128.5h4.7M281.7 126.1v4.7M277.8 96.4h4.7M280.1 94.1v4.7M285.1 137.4h4.7M287.4 135.0v4.7M287.0 127.5h4.7M289.3 125.1v4.7M275.6 112.6h4.7M277.9 110.3v4.7M277.7 130.4h4.7M280.1 128.1v4.7M280.4 121.0h4.7M282.8 118.7v4.7M290.1 104.9h4.7M292.5 102.6v4.7M271.5 112.3h4.7M273.9 109.9v4.7M271.9 129.8h4.7M274.3 127.4v4.7M286.0 137.4h4.7M288.3 135.0v4.7M277.1 120.7h4.7M279.5 118.3v4.7M285.8 155.8h4.7M288.1 153.5v4.7M288.5 104.4h4.7M290.9 102.0v4.7M291.3 161.6h4.7M293.6 159.3v4.7M274.1 120.2h4.7M276.5 117.9v4.7M274.9 118.4h4.7M277.3 116.1v4.7M292.1 130.2h4.7M294.5 127.8v4.7M274.1 149.1h4.7M276.4 146.7v4.7M268.1 136.6h4.7M270.4 134.2v4.7M278.5 120.5h4.7M280.9 118.2v4.7M290.1 167.1h4.7M292.4 164.8v4.7M277.0 138.6h4.7M279.4 136.3v4.7M283.8 139.2h4.7M286.1 136.9v4.7M269.0 129.9h4.7M271.3 127.5v4.7M280.8 118.2h4.7M283.1 115.8v4.7M276.8 152.5h4.7M279.1 150.1v4.7M287.9 159.3h4.7M290.2 156.9v4.7M293.2 149.6h4.7M295.6 147.3v4.7M277.4 146.1h4.7M279.8 143.8v4.7M283.5 132.2h4.7M285.9 129.9v4.7M287.3 156.7h4.7M289.6 154.4v4.7M273.3 127.0h4.7M275.6 124.7v4.7M290.3 143.2h4.7M292.6 140.8v4.7M267.6 124.2h4.7M270.0 121.8v4.7M275.7 131.1h4.7M278.0 128.8v4.7M279.2 124.3h4.7M281.5 122.0v4.7M266.1 145.9h4.7M268.5 143.6v4.7M272.2 178.1h4.7M274.5 175.7v4.7M276.0 113.3h4.7M278.3 111.0v4.7M283.5 102.9h4.7M285.8 100.5v4.7M287.1 142.7h4.7M289.4 140.3v4.7M290.6 150.2h4.7M292.9 147.8v4.7M292.2 125.0h4.7M294.6 122.6v4.7M280.6 161.1h4.7M282.9 158.7v4.7M284.3 149.6h4.7M286.6 147.2v4.7M290.7 113.3h4.7M293.1 111.0v4.7M274.2 145.0h4.7M276.6 142.6v4.7M271.5 135.1h4.7M273.9 132.7v4.7M290.7 111.3h4.7M293.0 109.0v4.7M264.7 173.1h4.7M267.0 170.8v4.7M269.6 126.0h4.7M271.9 123.7v4.7M284.0 165.1h4.7M286.4 162.8v4.7M290.7 126.4h4.7M293.0 124.1v4.7M294.3 161.9h4.7M296.6 159.6v4.7M292.8 109.1h4.7M295.2 106.7v4.7M280.1 118.3h4.7M282.4 116.0v4.7M269.7 123.8h4.7M272.1 121.4v4.7M288.5 147.8h4.7M290.8 145.5v4.7M290.5 129.3h4.7M292.9 127.0v4.7M292.8 150.4h4.7M295.2 148.0v4.7M262.9 203.4h4.7M265.2 201.1v4.7M278.5 154.3h4.7M280.8 151.9v4.7M264.5 121.5h4.7M266.9 119.1v4.7M285.3 116.2h4.7M287.6 113.8v4.7M287.3 163.7h4.7M289.6 161.4v4.7M290.7 121.8h4.7M293.0 119.4v4.7M279.5 131.1h4.7M281.9 128.8v4.7M271.7 96.3h4.7M274.1 94.0v4.7M280.8 146.3h4.7M283.2 144.0v4.7M284.0 133.0h4.7M286.4 130.6v4.7M261.8 168.4h4.7M264.2 166.0v4.7M272.4 157.3h4.7M274.7 154.9v4.7M275.4 115.3h4.7M277.7 113.0v4.7M276.8 132.1h4.7M279.2 129.7v4.7M285.8 144.2h4.7M288.1 141.8v4.7M272.6 125.0h4.7M275.0 122.6v4.7M267.7 163.0h4.7M270.0 160.7v4.7M270.4 108.0h4.7M272.8 105.7v4.7M280.4 142.9h4.7M282.8 140.6v4.7M288.2 144.4h4.7M290.5 142.0v4.7M294.2 131.7h4.7M296.5 129.3v4.7M286.8 139.4h4.7M289.1 137.0v4.7M283.9 156.7h4.7M286.3 154.4v4.7M264.1 111.7h4.7M266.4 109.3v4.7M263.0 162.3h4.7M265.3 159.9v4.7M280.9 148.8h4.7M283.3 146.4v4.7M280.7 135.9h4.7M283.1 133.5v4.7M292.4 157.8h4.7M294.8 155.4v4.7M264.7 132.9h4.7M267.1 130.6v4.7M280.0 153.6h4.7M282.4 151.3v4.7M285.7 163.0h4.7M288.1 160.6v4.7M290.9 133.6h4.7M293.2 131.3v4.7M268.2 132.5h4.7M270.6 130.2v4.7M272.1 141.2h4.7M274.5 138.9v4.7M281.3 156.2h4.7M283.6 153.8v4.7M289.7 128.0h4.7M292.1 125.7v4.7M281.0 119.7h4.7M283.3 117.4v4.7M280.8 133.8h4.7M283.2 131.4v4.7M267.9 162.4h4.7M270.2 160.0v4.7M265.4 125.6h4.7M267.8 123.3v4.7M254.6 132.2h4.7M257.0 129.8v4.7M286.8 110.1h4.7M289.1 107.8v4.7M294.0 153.5h4.7M296.4 151.2v4.7M257.3 158.5h4.7M259.7 156.1v4.7M278.8 144.0h4.7M281.2 141.6v4.7M283.0 133.1h4.7M285.4 130.8v4.7M286.2 116.5h4.7M288.6 114.1v4.7M290.7 158.8h4.7M293.0 156.4v4.7M294.1 104.0h4.7M296.4 101.7v4.7M263.7 143.5h4.7M266.1 141.1v4.7M269.4 116.6h4.7M271.7 114.2v4.7M284.6 156.7h4.7M286.9 154.4v4.7M265.8 125.4h4.7M268.1 123.0v4.7M261.5 181.9h4.7M263.9 179.6v4.7M264.0 137.3h4.7M266.3 135.0v4.7M284.3 104.5h4.7M286.7 102.1v4.7M267.0 153.4h4.7M269.4 151.1v4.7M264.5 147.5h4.7M266.9 145.1v4.7M282.9 143.4h4.7M285.2 141.0v4.7M287.6 98.8h4.7M290.0 96.4v4.7M290.2 136.8h4.7M292.6 134.5v4.7M279.1 143.6h4.7M281.5 141.2v4.7M276.5 132.3h4.7M278.9 130.0v4.7M292.1 129.5h4.7M294.4 127.2v4.7M268.9 158.5h4.7M271.2 156.2v4.7M287.4 158.3h4.7M289.7 155.9v4.7M268.1 145.2h4.7M270.4 142.9v4.7M277.4 119.4h4.7M279.8 117.0v4.7M288.2 102.2h4.7M290.6 99.8v4.7M263.9 121.2h4.7M266.3 118.9v4.7M292.7 145.0h4.7M295.0 142.7v4.7M267.4 175.4h4.7M269.7 173.1v4.7M293.6 150.4h4.7M296.0 148.0v4.7M284.1 162.4h4.7M286.4 160.0v4.7M289.6 119.7h4.7M291.9 117.4v4.7M280.8 125.2h4.7M283.2 122.8v4.7M284.2 151.6h4.7M286.5 149.3v4.7M291.2 127.9h4.7M293.6 125.6v4.7M273.7 120.6h4.7M276.1 118.3v4.7M271.5 113.0h4.7M273.8 110.6v4.7M289.3 175.5h4.7M291.7 173.1v4.7M277.8 139.5h4.7M280.1 137.2v4.7M291.3 148.0h4.7M293.7 145.6v4.7M271.0 131.0h4.7M273.4 128.6v4.7M266.4 144.9h4.7M268.8 142.5v4.7M287.5 99.6h4.7M289.8 97.3v4.7M290.7 121.9h4.7M293.0 119.6v4.7M271.7 159.8h4.7M274.0 157.5v4.7M285.3 158.6h4.7M287.6 156.3v4.7M289.4 108.3h4.7M291.8 105.9v4.7M284.8 147.4h4.7M287.1 145.1v4.7M295.0 131.6h4.7M297.3 129.3v4.7M271.0 144.5h4.7M273.4 142.1v4.7M280.3 134.9h4.7M282.6 132.5v4.7M270.3 142.9h4.7M272.7 140.6v4.7M284.2 114.7h4.7M286.6 112.4v4.7M268.3 157.1h4.7M270.6 154.8v4.7M288.0 143.6h4.7M290.3 141.3v4.7M286.0 134.6h4.7M288.4 132.3v4.7M281.7 106.8h4.7M284.1 104.5v4.7M290.8 128.6h4.7M293.1 126.3v4.7M285.2 143.3h4.7M287.5 140.9v4.7M265.7 123.3h4.7M268.1 121.0v4.7M286.5 106.2h4.7M288.9 103.8v4.7M272.3 133.3h4.7M274.7 131.0v4.7M263.1 121.8h4.7M265.4 119.5v4.7M293.7 130.0h4.7M296.1 127.6v4.7M282.1 141.8h4.7M284.5 139.4v4.7M289.3 121.1h4.7M291.6 118.7v4.7M266.4 143.7h4.7M268.8 141.4v4.7M282.8 118.4h4.7M285.2 116.1v4.7" stroke="#7474ff" stroke-width="0.78" fill="none"/>
<path d="M133.1 16.1L135.8 11.4L138.6 16.1ZM131.7 68.2L134.4 63.5L137.2 68.2ZM138.6 87.5L141.3 82.9L144.1 87.5ZM194.9 59.1L197.7 54.5L200.4 59.1ZM195.4 59.7L198.2 55.1L200.9 59.7ZM191.8 65.3L194.6 60.7L197.3 65.3ZM203.2 65.3L206.0 60.7L208.8 65.3ZM171.9 70.7L174.7 66.0L177.4 70.7ZM175.2 77.9L178.0 73.2L180.8 77.9ZM210.8 72.5L213.6 67.9L216.3 72.5ZM210.8 82.1L213.6 77.5L216.3 82.1ZM185.6 84.5L188.3 79.9L191.1 84.5ZM192.3 84.5L195.1 79.9L197.8 84.5ZM163.4 85.4L166.2 80.8L168.9 85.4ZM159.2 88.8L162.0 84.2L164.8 88.8ZM174.7 89.7L177.4 85.0L180.2 89.7ZM190.6 92.4L193.3 87.8L196.1 92.4ZM193.7 90.6L196.4 86.0L199.2 90.6ZM178.2 95.7L181.0 91.0L183.8 95.7ZM148.4 99.0L151.2 94.4L153.9 99.0ZM157.4 106.6L160.2 102.0L162.9 106.6ZM168.3 104.8L171.1 100.2L173.8 104.8ZM178.2 96.1L181.0 91.5L183.8 96.1ZM184.7 100.2L187.4 95.5L190.2 100.2ZM190.1 93.0L192.8 88.4L195.6 93.0ZM182.8 106.9L185.5 102.2L188.2 106.9ZM189.4 106.9L192.2 102.2L194.9 106.9ZM176.8 115.2L179.6 110.5L182.3 115.2ZM188.2 113.4L191.0 108.8L193.8 113.4ZM195.4 114.1L198.2 109.5L200.9 114.1ZM201.8 111.1L204.5 106.5L207.2 111.1ZM198.2 101.1L200.9 96.5L203.7 101.1ZM201.8 101.1L204.5 96.5L207.2 101.1ZM205.3 102.0L208.1 97.4L210.8 102.0ZM208.1 104.4L210.8 99.8L213.6 104.4ZM210.8 108.4L213.6 103.8L216.3 108.4ZM180.4 124.6L183.2 120.0L185.9 124.6ZM188.2 123.2L191.0 118.5L193.8 123.2ZM198.2 118.3L200.9 113.7L203.7 118.3ZM202.7 119.2L205.4 114.5L208.2 119.2ZM209.1 118.3L211.8 113.7L214.6 118.3ZM180.9 137.3L183.7 132.6L186.4 137.3ZM200.3 137.6L203.1 132.9L205.8 137.6ZM185.8 153.2L188.6 148.5L191.3 153.2ZM215.9 61.8L218.7 57.2L221.4 61.8ZM211.2 73.0L214.0 68.4L216.8 73.0ZM218.1 73.9L220.8 69.2L223.6 73.9ZM218.4 75.4L221.2 70.8L223.9 75.4ZM210.6 82.1L213.3 77.5L216.1 82.1ZM215.3 82.6L218.1 78.0L220.8 82.6ZM228.9 70.3L231.7 65.7L234.4 70.3ZM233.9 74.8L236.7 70.2L239.4 74.8ZM230.3 79.0L233.1 74.4L235.8 79.0ZM226.2 89.3L229.0 84.7L231.8 89.3ZM242.4 68.5L245.2 63.9L247.9 68.5ZM250.9 71.2L253.7 66.5L256.4 71.2ZM251.4 81.5L254.2 76.9L256.9 81.5ZM262.4 69.4L265.1 64.8L267.9 69.4ZM280.9 63.4L283.7 58.8L286.4 63.4ZM280.9 78.4L283.7 73.8L286.4 78.4ZM289.4 82.1L292.2 77.5L294.9 82.1ZM264.6 90.5L267.4 85.9L270.1 90.5ZM268.6 88.7L271.4 84.0L274.1 88.7ZM271.4 86.9L274.1 82.2L276.9 86.9ZM275.9 93.4L278.6 88.8L281.4 93.4ZM279.4 91.6L282.2 87.0L284.9 91.6ZM281.2 89.3L284.0 84.7L286.8 89.3ZM287.6 90.2L290.4 85.5L293.1 90.2ZM290.6 89.3L293.4 84.7L296.1 89.3ZM281.2 95.6L284.0 91.0L286.8 95.6ZM288.6 95.6L291.3 91.0L294.1 95.6ZM274.1 95.6L276.8 91.0L279.6 95.6ZM208.4 109.3L211.2 104.6L213.9 109.3ZM209.6 125.0L212.3 120.3L215.1 125.0ZM202.2 128.9L204.9 124.3L207.7 128.9ZM195.7 110.3L198.4 105.7L201.2 110.3ZM206.0 121.4L208.7 116.8L211.5 121.4ZM233.9 102.0L236.7 97.4L239.4 102.0ZM232.8 129.2L235.5 124.5L238.3 129.2ZM232.4 117.0L235.2 112.4L237.9 117.0ZM239.0 112.7L241.8 108.1L244.5 112.7ZM217.1 104.0L219.8 99.4L222.6 104.0ZM226.2 115.7L229.0 111.0L231.7 115.7ZM242.1 123.9L244.9 119.3L247.6 123.9ZM240.7 120.7L243.5 116.1L246.2 120.7ZM243.4 125.1L246.1 120.5L248.9 125.1ZM228.3 132.7L231.0 128.0L233.8 132.7ZM219.2 127.0L222.0 122.4L224.7 127.0ZM241.5 112.4L244.2 107.8L247.0 112.4ZM244.8 114.5L247.5 109.8L250.3 114.5ZM215.4 101.1L218.1 96.4L220.9 101.1ZM236.8 107.4L239.5 102.7L242.3 107.4ZM248.5 124.7L251.3 120.0L254.0 124.7ZM256.6 110.8L259.4 106.2L262.1 110.8ZM228.9 98.2L231.7 93.6L234.4 98.2ZM242.5 97.1L245.2 92.5L248.0 97.1ZM254.1 129.9L256.9 125.3L259.6 129.9ZM222.7 122.3L225.5 117.6L228.2 122.3ZM231.5 104.3L234.3 99.7L237.0 104.3ZM221.1 113.1L223.9 108.5L226.6 113.1ZM229.8 96.2L232.6 91.5L235.3 96.2ZM233.3 119.2L236.1 114.6L238.8 119.2ZM240.8 100.3L243.6 95.7L246.3 100.3ZM253.5 113.2L256.3 108.6L259.0 113.2ZM256.7 141.3L259.5 136.6L262.2 141.3ZM225.9 101.0L228.7 96.4L231.4 101.0ZM235.8 113.9L238.6 109.2L241.3 113.9ZM216.4 109.2L219.2 104.6L221.9 109.2ZM229.8 111.5L232.6 106.8L235.3 111.5ZM224.9 135.4L227.6 130.8L230.4 135.4ZM226.0 112.2L228.8 107.6L231.5 112.2ZM241.6 101.3L244.3 96.7L247.1 101.3ZM255.6 111.3L258.3 106.7L261.1 111.3ZM254.1 119.2L256.8 114.5L259.6 119.2ZM218.6 96.9L221.3 92.3L224.1 96.9ZM238.7 109.3L241.5 104.7L244.2 109.3ZM228.8 112.4L231.6 107.8L234.3 112.4ZM254.4 100.1L257.2 95.4L259.9 100.1ZM216.0 100.1L218.8 95.5L221.5 100.1ZM244.7 114.6L247.5 109.9L250.2 114.6ZM219.2 135.1L222.0 130.5L224.7 135.1ZM247.5 124.3L250.3 119.6L253.0 124.3ZM254.3 113.7L257.1 109.0L259.8 113.7ZM225.0 115.3L227.8 110.7L230.5 115.3ZM241.7 123.2L244.4 118.6L247.2 123.2ZM254.1 107.1L256.9 102.5L259.6 107.1ZM229.5 98.6L232.2 93.9L235.0 98.6ZM254.7 143.9L257.4 139.3L260.2 143.9ZM239.6 120.9L242.3 116.3L245.1 120.9ZM244.0 118.4L246.8 113.8L249.5 118.4ZM248.8 128.3L251.6 123.6L254.3 128.3ZM287.5 132.8L290.3 128.1L293.0 132.8ZM276.2 118.7L278.9 114.0L281.7 118.7ZM288.8 118.2L291.6 113.6L294.3 118.2ZM271.8 97.3L274.5 92.7L277.3 97.3ZM273.9 107.4L276.7 102.8L279.4 107.4ZM278.9 100.8L281.6 96.1L284.4 100.8ZM277.2 132.8L280.0 128.2L282.7 132.8ZM284.6 114.4L287.3 109.7L290.1 114.4ZM286.4 92.2L289.1 87.5L291.9 92.2ZM276.0 127.7L278.7 123.1L281.5 127.7ZM277.2 114.4L280.0 109.7L282.7 114.4ZM290.2 130.9L292.9 126.2L295.7 130.9ZM271.4 101.8L274.2 97.1L276.9 101.8ZM271.2 96.5L273.9 91.9L276.7 96.5ZM285.0 102.2L287.7 97.5L290.5 102.2ZM276.8 110.5L279.5 105.9L282.3 110.5ZM285.4 94.8L288.1 90.2L290.9 94.8ZM291.1 126.3L293.8 121.6L296.6 126.3ZM274.1 102.3L276.8 97.7L279.6 102.3ZM274.7 97.5L277.5 92.9L280.2 97.5ZM291.1 95.2L293.9 90.6L296.6 95.2ZM273.7 88.9L276.5 84.3L279.2 88.9ZM267.5 146.5L270.3 141.8L273.0 146.5ZM277.8 89.4L280.5 84.7L283.3 89.4ZM289.6 133.3L292.4 128.7L295.1 133.3ZM283.0 127.4L285.7 122.8L288.5 127.4ZM268.3 129.0L271.0 124.4L273.8 129.0ZM279.6 93.2L282.4 88.6L285.1 93.2ZM276.0 122.5L278.8 117.8L281.5 122.5ZM288.0 126.9L290.8 122.2L293.5 126.9ZM292.3 146.2L295.0 141.5L297.8 146.2ZM277.3 107.5L280.1 102.8L282.8 107.5ZM283.9 89.0L286.6 84.3L289.4 89.0ZM272.4 89.9L275.2 85.2L277.9 89.9ZM289.7 98.2L292.5 93.6L295.2 98.2ZM267.9 99.8L270.7 95.1L273.4 99.8ZM275.0 141.2L277.8 136.6L280.5 141.2ZM278.8 99.9L281.6 95.3L284.3 99.9ZM265.3 97.5L268.1 92.9L270.8 97.5ZM271.8 104.2L274.6 99.5L277.3 104.2ZM276.1 126.7L278.9 122.1L281.6 126.7ZM282.5 133.4L285.2 128.8L288.0 133.4ZM286.3 132.7L289.0 128.0L291.8 132.7ZM290.2 120.1L293.0 115.4L295.7 120.1ZM291.5 113.6L294.3 108.9L297.0 113.6ZM283.6 116.3L286.4 111.7L289.1 116.3ZM290.4 142.4L293.2 137.8L295.9 142.4ZM273.7 117.8L276.5 113.1L279.2 117.8ZM271.0 107.5L273.8 102.9L276.5 107.5ZM290.8 128.1L293.5 123.4L296.3 128.1ZM264.8 123.8L267.5 119.2L270.3 123.8ZM269.0 93.3L271.7 88.6L274.5 93.3ZM290.1 94.5L292.9 89.9L295.6 94.5ZM293.4 125.0L296.2 120.3L298.9 125.0ZM292.4 120.0L295.2 115.3L297.9 120.0ZM279.7 102.1L282.5 97.5L285.2 102.1ZM269.8 129.2L272.6 124.6L275.3 129.2ZM282.8 117.2L285.6 112.5L288.3 117.2ZM289.7 105.4L292.5 100.7L295.2 105.4ZM292.3 97.5L295.1 92.8L297.8 97.5ZM278.1 150.0L280.8 145.4L283.6 150.0ZM263.3 124.4L266.0 119.7L268.8 124.4ZM284.3 137.8L287.0 133.1L289.8 137.8ZM287.2 117.8L290.0 113.2L292.7 117.8ZM290.5 99.1L293.3 94.4L296.0 99.1ZM279.5 108.5L282.2 103.9L285.0 108.5ZM271.2 102.3L273.9 97.7L276.7 102.3ZM280.4 97.9L283.2 93.3L285.9 97.9ZM283.6 141.6L286.3 137.0L289.1 141.6ZM261.6 100.5L264.3 95.8L267.1 100.5ZM272.2 118.2L274.9 113.6L277.7 118.2ZM275.4 105.1L278.1 100.5L280.9 105.1ZM276.6 130.6L279.4 126.0L282.1 130.6ZM285.9 106.6L288.6 102.0L291.4 106.6ZM271.7 124.2L274.4 119.5L277.2 124.2ZM267.2 122.0L270.0 117.4L272.7 122.0ZM269.9 107.5L272.7 102.8L275.4 107.5ZM280.0 130.4L282.8 125.7L285.5 130.4ZM287.1 148.3L289.8 143.6L292.6 148.3ZM293.0 114.4L295.8 109.7L298.5 114.4ZM283.4 135.9L286.1 131.3L288.9 135.9ZM263.6 102.2L266.4 97.5L269.1 102.2ZM262.4 111.4L265.1 106.7L267.9 111.4ZM280.3 111.5L283.1 106.9L285.8 111.5ZM292.3 118.9L295.0 114.2L297.8 118.9ZM264.0 101.6L266.8 96.9L269.5 101.6ZM279.1 123.5L281.8 118.9L284.6 123.5ZM285.4 106.5L288.2 101.9L290.9 106.5ZM290.2 108.3L293.0 103.6L295.7 108.3ZM267.7 101.1L270.5 96.5L273.2 101.1ZM271.6 114.3L274.4 109.7L277.1 114.3ZM280.8 96.9L283.6 92.3L286.3 96.9ZM280.9 132.4L283.6 127.7L286.4 132.4ZM280.5 119.1L283.2 114.5L286.0 119.1ZM265.6 117.2L268.3 112.5L271.1 117.2ZM255.1 96.4L257.8 91.8L260.6 96.4ZM286.7 123.8L289.4 119.2L292.2 123.8ZM293.7 116.5L296.4 111.8L299.2 116.5ZM257.5 112.5L260.2 107.9L263.0 112.5ZM278.4 107.1L281.1 102.5L283.9 107.1ZM282.8 151.5L285.5 146.8L288.3 151.5ZM286.1 116.4L288.8 111.8L291.6 116.4ZM289.9 113.2L292.6 108.6L295.4 113.2ZM293.7 159.9L296.4 155.2L299.2 159.9ZM263.2 102.4L265.9 97.8L268.7 102.4ZM268.6 107.0L271.4 102.3L274.1 107.0ZM271.3 89.9L274.0 85.2L276.8 89.9ZM283.7 131.1L286.5 126.4L289.2 131.1ZM261.0 117.0L263.7 112.3L266.5 117.0ZM267.4 105.9L270.1 101.2L272.9 105.9ZM263.4 110.7L266.2 106.1L268.9 110.7ZM266.4 110.1L269.2 105.5L271.9 110.1ZM282.4 123.9L285.2 119.2L287.9 123.9ZM287.4 105.3L290.1 100.7L292.9 105.3ZM289.3 122.6L292.0 117.9L294.8 122.6ZM278.6 104.7L281.4 100.1L284.1 104.7ZM275.7 107.5L278.5 102.8L281.2 107.5ZM292.1 122.2L294.8 117.5L297.6 122.2ZM268.8 103.3L271.6 98.6L274.3 103.3ZM287.1 95.2L289.9 90.6L292.6 95.2ZM267.3 109.3L270.1 104.6L272.8 109.3ZM276.4 144.2L279.2 139.5L281.9 144.2ZM264.1 99.6L266.8 94.9L269.6 99.6ZM291.5 113.0L294.3 108.4L297.0 113.0ZM292.4 148.5L295.1 143.8L297.9 148.5ZM283.3 121.1L286.0 116.4L288.8 121.1ZM281.2 112.3L284.0 107.6L286.7 112.3ZM288.8 110.4L291.5 105.8L294.3 110.4ZM280.6 126.1L283.3 121.4L286.1 126.1ZM283.8 117.8L286.6 113.2L289.3 117.8ZM290.6 112.4L293.3 107.8L296.1 112.4ZM272.6 122.7L275.3 118.0L278.1 122.7ZM270.8 139.4L273.6 134.8L276.3 139.4ZM277.9 123.0L280.6 118.3L283.4 123.0ZM277.4 109.5L280.1 104.9L282.9 109.5ZM291.6 116.6L294.3 111.9L297.1 116.6ZM266.6 131.3L269.3 126.6L272.1 131.3ZM287.6 125.3L290.3 120.7L293.1 125.3ZM290.1 120.3L292.8 115.7L295.6 120.3ZM270.8 111.6L273.6 107.0L276.3 111.6ZM284.5 114.6L287.3 109.9L290.0 114.6ZM289.0 114.2L291.8 109.5L294.5 114.2ZM283.9 106.7L286.7 102.0L289.4 106.7ZM294.6 107.6L297.4 103.0L300.1 107.6ZM270.7 106.0L273.5 101.3L276.2 106.0ZM279.4 133.1L282.2 128.5L284.9 133.1ZM284.4 101.1L287.1 96.4L289.9 101.1ZM287.6 118.2L290.3 113.5L293.1 118.2ZM286.1 115.6L288.8 110.9L291.6 115.6ZM282.1 130.8L284.9 126.1L287.6 130.8ZM291.1 94.2L293.8 89.6L296.6 94.2ZM284.7 129.9L287.5 125.3L290.2 129.9ZM265.5 126.3L268.2 121.6L271.0 126.3ZM287.0 101.4L289.8 96.8L292.5 101.4ZM272.6 101.6L275.4 96.9L278.1 101.6ZM293.3 94.8L296.1 90.2L298.8 94.8ZM281.7 129.0L284.4 124.3L287.2 129.0ZM288.9 142.8L291.7 138.1L294.4 142.8ZM265.7 107.3L268.4 102.6L271.2 107.3ZM282.4 135.7L285.1 131.0L287.9 135.7Z" stroke="#222" stroke-width="0.7" fill="none"/>
<path d="M450.1 85.7h4.7M452.5 83.4v4.7M448.3 112.8h4.7M450.7 110.5v4.7M465.8 110.4h4.7M468.2 108.1v4.7M502.9 113.1h4.7M505.3 110.8v4.7M487.5 118.6h4.7M489.9 116.2v4.7M504.8 117.7h4.7M507.1 115.4v4.7M475.6 123.8h4.7M478.0 121.5v4.7M485.4 120.8h4.7M487.8 118.5v4.7M489.3 117.9h4.7M491.7 115.6v4.7M492.2 133.5h4.7M494.6 131.2v4.7M493.8 132.5h4.7M496.2 130.2v4.7M503.9 118.9h4.7M506.3 116.6v4.7M504.9 143.2h4.7M507.3 140.8v4.7M508.8 142.3h4.7M511.2 140.0v4.7M513.6 132.5h4.7M516.0 130.2v4.7M510.8 151.0h4.7M513.1 148.7v4.7M521.4 127.7h4.7M523.8 125.4v4.7M519.5 136.4h4.7M521.9 134.1v4.7M525.4 138.4h4.7M527.7 136.1v4.7M519.1 152.4h4.7M521.5 150.1v4.7M512.8 158.3h4.7M515.1 156.0v4.7M480.5 154.9h4.7M482.9 152.6v4.7M498.0 160.8h4.7M500.4 158.5v4.7M547.2 98.0h4.7M549.6 95.7v4.7M598.6 89.3h4.7M601.0 87.0v4.7M515.1 130.6h4.7M517.5 128.2v4.7M523.5 147.4h4.7M525.8 145.0v4.7M525.8 109.4h4.7M528.2 107.1v4.7M505.7 149.3h4.7M508.0 146.9v4.7M529.6 148.1h4.7M531.9 145.7v4.7M519.7 150.0h4.7M522.1 147.6v4.7M551.6 132.9h4.7M554.0 130.5v4.7M552.5 126.4h4.7M554.8 124.0v4.7M550.4 135.5h4.7M552.8 133.2v4.7M540.0 152.2h4.7M542.4 149.9v4.7M548.8 131.2h4.7M551.2 128.9v4.7M551.1 145.5h4.7M553.5 143.2v4.7M555.4 142.1h4.7M557.8 139.7v4.7M529.7 153.9h4.7M532.0 151.6v4.7M535.3 123.6h4.7M537.6 121.3v4.7M539.7 137.3h4.7M542.0 134.9v4.7M544.2 169.7h4.7M546.5 167.4v4.7M547.5 141.2h4.7M549.9 138.8v4.7M559.2 145.2h4.7M561.6 142.9v4.7M563.0 143.0h4.7M565.3 140.7v4.7M566.3 141.9h4.7M568.6 139.6v4.7M533.1 150.2h4.7M535.5 147.9v4.7M533.1 154.5h4.7M535.4 152.1v4.7M552.8 139.9h4.7M555.1 137.6v4.7M557.1 178.1h4.7M559.5 175.7v4.7M561.2 114.2h4.7M563.5 111.8v4.7M546.6 126.0h4.7M548.9 123.7v4.7M535.6 120.9h4.7M538.0 118.5v4.7M549.2 160.5h4.7M551.5 158.2v4.7M557.6 138.4h4.7M559.9 136.0v4.7M560.9 145.3h4.7M563.2 143.0v4.7M533.5 116.9h4.7M535.8 114.5v4.7M543.4 147.6h4.7M545.7 145.3v4.7M554.3 123.1h4.7M556.6 120.7v4.7M566.5 141.2h4.7M568.8 138.9v4.7M575.1 143.7h4.7M577.4 141.4v4.7M534.9 149.2h4.7M537.2 146.9v4.7M536.8 128.9h4.7M539.1 126.5v4.7M545.2 150.9h4.7M547.5 148.6v4.7M561.3 138.6h4.7M563.6 136.3v4.7M571.4 136.7h4.7M573.7 134.4v4.7M541.8 134.2h4.7M544.2 131.9v4.7M550.5 131.1h4.7M552.9 128.7v4.7M538.7 142.4h4.7M541.1 140.0v4.7M547.8 149.1h4.7M550.1 146.8v4.7M552.2 154.7h4.7M554.5 152.4v4.7M558.2 136.7h4.7M560.6 134.4v4.7M558.6 153.1h4.7M560.9 150.7v4.7M570.3 129.4h4.7M572.6 127.1v4.7M575.7 141.7h4.7M578.1 139.4v4.7M544.2 135.2h4.7M546.5 132.8v4.7M552.2 138.7h4.7M554.6 136.4v4.7M533.2 133.5h4.7M535.5 131.2v4.7M543.3 120.6h4.7M545.6 118.2v4.7M547.0 136.3h4.7M549.3 134.0v4.7M539.8 147.8h4.7M542.2 145.5v4.7M543.2 130.2h4.7M545.6 127.9v4.7M553.0 133.1h4.7M555.4 130.8v4.7M558.4 137.3h4.7M560.7 134.9v4.7M557.1 121.8h4.7M559.5 119.4v4.7M570.7 165.5h4.7M573.1 163.2v4.7M533.6 133.7h4.7M536.0 131.3v4.7M533.6 135.1h4.7M535.9 132.7v4.7M569.7 129.7h4.7M572.1 127.3v4.7M534.8 160.7h4.7M537.1 158.4v4.7M557.3 125.5h4.7M559.7 123.2v4.7M561.6 163.8h4.7M564.0 161.5v4.7M566.8 134.6h4.7M569.1 132.3v4.7M544.8 118.0h4.7M547.1 115.6v4.7M571.7 120.1h4.7M574.1 117.8v4.7M532.2 121.3h4.7M534.6 118.9v4.7M562.1 136.7h4.7M564.4 134.4v4.7M536.8 118.1h4.7M539.2 115.8v4.7M567.0 159.8h4.7M569.3 157.4v4.7M573.7 160.2h4.7M576.1 157.8v4.7M575.1 171.8h4.7M577.5 169.4v4.7M537.8 143.3h4.7M540.2 140.9v4.7M566.0 129.1h4.7M568.3 126.8v4.7M572.4 133.2h4.7M574.7 130.8v4.7M575.5 130.4h4.7M577.8 128.0v4.7M533.0 128.2h4.7M535.3 125.9v4.7M562.2 124.0h4.7M564.6 121.6v4.7M570.1 143.9h4.7M572.5 141.6v4.7M543.0 138.2h4.7M545.3 135.9v4.7M545.3 144.8h4.7M547.7 142.4v4.7M559.9 133.6h4.7M562.3 131.2v4.7M566.2 135.8h4.7M568.6 133.5v4.7M572.1 148.8h4.7M574.5 146.4v4.7M537.5 140.1h4.7M539.9 137.8v4.7M546.4 119.9h4.7M548.7 117.5v4.7M572.4 142.1h4.7M574.8 139.7v4.7M553.6 135.2h4.7M556.0 132.9v4.7M557.1 138.3h4.7M559.5 135.9v4.7M562.0 161.1h4.7M564.3 158.7v4.7M565.1 124.6h4.7M567.4 122.2v4.7M599.2 130.7h4.7M601.5 128.4v4.7M604.4 127.8h4.7M606.8 125.4v4.7M606.5 143.6h4.7M608.8 141.3v4.7M584.0 122.3h4.7M586.4 120.0v4.7M592.5 152.6h4.7M594.9 150.3v4.7M605.7 143.2h4.7M608.0 140.9v4.7M589.7 143.0h4.7M592.1 140.6v4.7M591.8 167.2h4.7M594.1 164.9v4.7M595.5 129.3h4.7M597.9 126.9v4.7M595.4 146.4h4.7M597.7 144.0v4.7M602.4 132.4h4.7M604.8 130.1v4.7M604.3 170.1h4.7M606.6 167.7v4.7M594.1 117.9h4.7M596.4 115.6v4.7M594.1 157.9h4.7M596.4 155.6v4.7M598.3 134.4h4.7M600.7 132.0v4.7M606.2 126.8h4.7M608.6 124.4v4.7M588.2 114.1h4.7M590.5 111.8v4.7M588.2 143.9h4.7M590.5 141.5v4.7M601.0 170.5h4.7M603.4 168.2v4.7M593.3 134.6h4.7M595.6 132.3v4.7M601.4 130.9h4.7M603.7 128.5v4.7M605.5 125.2h4.7M607.9 122.9v4.7M610.1 110.6h4.7M612.4 108.3v4.7M588.9 151.1h4.7M591.2 148.8v4.7M592.3 151.5h4.7M594.7 149.2v4.7M607.3 110.3h4.7M609.6 108.0v4.7M591.9 129.8h4.7M594.3 127.5v4.7M586.6 150.2h4.7M588.9 147.9v4.7M596.3 130.7h4.7M598.7 128.4v4.7M608.0 139.5h4.7M610.3 137.1v4.7M593.4 150.8h4.7M595.7 148.5v4.7M601.2 133.7h4.7M603.6 131.4v4.7M583.0 157.5h4.7M585.3 155.1v4.7M596.5 149.6h4.7M598.8 147.3v4.7M593.9 131.8h4.7M596.2 129.5v4.7M606.4 142.0h4.7M608.7 139.7v4.7M609.8 151.1h4.7M612.2 148.7v4.7M593.8 129.2h4.7M596.2 126.8v4.7M601.8 107.5h4.7M604.2 105.1v4.7M604.1 175.4h4.7M606.5 173.1v4.7M590.0 157.6h4.7M592.4 155.2v4.7M606.0 139.2h4.7M608.3 136.9v4.7M585.9 134.5h4.7M588.2 132.2v4.7M591.2 147.0h4.7M593.5 144.7v4.7M596.3 160.2h4.7M598.6 157.9v4.7M581.5 103.4h4.7M583.8 101.1v4.7M589.5 141.9h4.7M591.8 139.6v4.7M593.9 155.2h4.7M596.3 152.9v4.7M598.1 161.2h4.7M600.4 158.9v4.7M604.9 131.1h4.7M607.3 128.8v4.7M606.3 128.6h4.7M608.7 126.2v4.7M597.3 110.8h4.7M599.7 108.5v4.7M601.0 143.1h4.7M603.4 140.8v4.7M608.5 159.5h4.7M610.8 157.1v4.7M589.6 123.1h4.7M591.9 120.8v4.7M588.5 125.2h4.7M590.9 122.8v4.7M609.1 118.7h4.7M611.4 116.3v4.7M581.5 151.1h4.7M583.9 148.8v4.7M588.0 128.5h4.7M590.3 126.2v4.7M601.8 116.2h4.7M604.1 113.9v4.7M606.8 113.0h4.7M609.1 110.6v4.7M611.4 120.9h4.7M613.7 118.5v4.7M609.5 118.9h4.7M611.8 116.6v4.7M596.6 133.6h4.7M598.9 131.3v4.7M588.2 156.3h4.7M590.6 153.9v4.7M606.8 134.7h4.7M609.2 132.4v4.7M600.3 146.1h4.7M602.7 143.7v4.7M607.3 102.3h4.7M609.7 100.0v4.7M610.0 134.4h4.7M612.3 132.0v4.7M579.0 142.7h4.7M581.3 140.4v4.7M595.7 153.7h4.7M598.0 151.3v4.7M581.6 135.5h4.7M583.9 133.2v4.7M601.2 136.6h4.7M603.6 134.2v4.7M605.2 143.0h4.7M607.5 140.7v4.7M609.1 131.0h4.7M611.5 128.7v4.7M596.0 128.4h4.7M598.3 126.0v4.7M589.0 135.6h4.7M591.3 133.2v4.7M597.9 125.3h4.7M600.2 122.9v4.7M601.3 124.1h4.7M603.7 121.7v4.7M579.0 145.5h4.7M581.4 143.1v4.7M589.1 177.9h4.7M591.4 175.6v4.7M593.6 143.4h4.7M595.9 141.0v4.7M594.6 115.5h4.7M596.9 113.1v4.7M604.4 171.1h4.7M606.8 168.8v4.7M588.7 134.8h4.7M591.1 132.4v4.7M584.2 128.2h4.7M586.6 125.8v4.7M588.6 170.5h4.7M590.9 168.1v4.7M599.4 114.5h4.7M601.8 112.2v4.7M604.0 148.2h4.7M606.4 145.9v4.7M610.4 149.0h4.7M612.7 146.7v4.7M604.1 121.6h4.7M606.5 119.2v4.7M600.9 145.0h4.7M603.2 142.7v4.7M581.0 140.0h4.7M583.3 137.7v4.7M579.1 116.4h4.7M581.5 114.1v4.7M597.1 152.2h4.7M599.4 149.8v4.7M596.8 146.9h4.7M599.2 144.5v4.7M609.7 130.4h4.7M612.0 128.0v4.7M581.3 116.9h4.7M583.7 114.6v4.7M597.0 132.8h4.7M599.4 130.4v4.7M603.8 133.0h4.7M606.2 130.7v4.7M606.2 136.6h4.7M608.5 134.3v4.7M585.3 154.6h4.7M587.6 152.2v4.7M589.0 117.0h4.7M591.3 114.7v4.7M598.8 144.2h4.7M601.2 141.9v4.7M606.0 142.7h4.7M608.4 140.4v4.7M598.4 155.3h4.7M600.7 153.0v4.7M596.8 108.2h4.7M599.1 105.8v4.7M583.9 157.2h4.7M586.2 154.9v4.7M582.7 149.7h4.7M585.1 147.4v4.7M573.8 120.9h4.7M576.2 118.6v4.7M604.0 156.5h4.7M606.3 154.1v4.7M610.7 153.2h4.7M613.0 150.9v4.7M575.2 109.5h4.7M577.6 107.1v4.7M595.7 172.2h4.7M598.0 169.9v4.7M600.7 171.2h4.7M603.0 168.9v4.7M604.7 136.7h4.7M607.1 134.3v4.7M607.8 158.1h4.7M610.1 155.7v4.7M610.8 133.0h4.7M613.1 130.7v4.7M580.7 150.3h4.7M583.0 147.9v4.7M586.1 127.7h4.7M588.4 125.4v4.7M587.0 139.0h4.7M589.4 136.6v4.7M601.9 149.3h4.7M604.3 146.9v4.7M582.2 163.6h4.7M584.5 161.3v4.7M577.5 145.3h4.7M579.8 142.9v4.7M583.9 169.2h4.7M586.3 166.9v4.7M581.1 171.2h4.7M583.4 168.9v4.7M601.9 153.0h4.7M604.3 150.6v4.7M581.1 116.7h4.7M583.4 114.3v4.7M609.2 132.0h4.7M611.5 129.7v4.7M610.6 116.7h4.7M612.9 114.3v4.7M595.8 150.9h4.7M598.1 148.6v4.7M595.1 115.1h4.7M597.4 112.8v4.7M604.5 147.9h4.7M606.8 145.5v4.7M596.7 168.0h4.7M599.0 165.7v4.7M608.8 122.6h4.7M611.1 120.3v4.7M589.5 129.6h4.7M591.9 127.3v4.7M595.0 139.0h4.7M597.3 136.6v4.7M606.2 142.5h4.7M608.6 140.2v4.7M587.2 113.1h4.7M589.5 110.8v4.7M606.2 114.7h4.7M608.5 112.4v4.7M584.0 120.1h4.7M586.3 117.8v4.7M606.1 112.7h4.7M608.5 110.3v4.7M597.2 154.0h4.7M599.5 151.7v4.7M595.8 138.9h4.7M598.1 136.5v4.7M608.5 119.5h4.7M610.9 117.2v4.7M598.9 144.9h4.7M601.2 142.6v4.7M605.5 162.7h4.7M607.8 160.3v4.7M602.8 114.6h4.7M605.2 112.2v4.7M591.1 160.8h4.7M593.4 158.4v4.7M590.2 132.8h4.7M592.5 130.4v4.7M591.8 133.5h4.7M594.1 131.1v4.7M610.8 136.5h4.7M613.2 134.2v4.7M600.6 123.8h4.7M603.0 121.4v4.7M606.7 131.4h4.7M609.0 129.1v4.7M584.3 139.0h4.7M586.7 136.7v4.7M580.9 128.7h4.7M583.3 126.4v4.7M607.0 147.2h4.7M609.3 144.9v4.7M610.1 163.4h4.7M612.5 161.1v4.7M594.1 147.8h4.7M596.4 145.4v4.7M599.2 134.6h4.7M601.6 132.3v4.7M610.2 148.7h4.7M612.6 146.3v4.7M599.2 160.0h4.7M601.6 157.7v4.7M608.4 157.2h4.7M610.7 154.8v4.7M590.1 118.2h4.7M592.4 115.8v4.7M595.6 116.9h4.7M598.0 114.5v4.7M593.3 180.6h4.7M595.7 178.3v4.7M603.6 174.3h4.7M606.0 171.9v4.7M585.3 124.8h4.7M587.7 122.4v4.7M605.2 156.4h4.7M607.5 154.1v4.7M594.5 135.1h4.7M596.9 132.7v4.7M612.3 128.8h4.7M614.7 126.4v4.7M599.9 106.5h4.7M602.3 104.1v4.7M583.1 132.1h4.7M585.5 129.8v4.7M596.9 128.6h4.7M599.2 126.2v4.7M602.7 117.6h4.7M605.1 115.2v4.7M585.4 110.6h4.7M587.8 108.2v4.7M611.1 171.6h4.7M613.5 169.3v4.7M604.3 131.2h4.7M606.7 128.8v4.7M608.6 138.2h4.7M610.9 135.9v4.7M588.3 129.4h4.7M590.6 127.0v4.7M600.4 144.1h4.7M602.8 141.8v4.7" stroke="#6ae86a" stroke-width="0.78" fill="none"/>
<path d="M450.4 58.3h4.7M452.8 55.9v4.7M448.6 93.9h4.7M451.0 91.6v4.7M455.9 109.5h4.7M458.3 107.2v4.7M465.8 118.6h4.7M468.2 116.2v4.7M509.2 87.8h4.7M511.6 85.5v4.7M512.9 93.3h4.7M515.2 91.0v4.7M489.3 92.4h4.7M491.7 90.1v4.7M475.8 108.6h4.7M478.1 106.2v4.7M480.3 114.9h4.7M482.7 112.6v4.7M493.8 114.9h4.7M496.2 112.6v4.7M464.9 118.5h4.7M467.3 116.2v4.7M474.8 124.4h4.7M477.1 122.1v4.7M480.5 116.0h4.7M482.9 113.7v4.7M485.4 125.7h4.7M487.8 123.4v4.7M493.8 128.2h4.7M496.2 125.8v4.7M501.9 120.8h4.7M504.3 118.5v4.7M506.8 123.8h4.7M509.2 121.5v4.7M508.8 137.4h4.7M511.2 135.1v4.7M514.6 136.4h4.7M517.0 134.1v4.7M519.5 120.8h4.7M521.9 118.5v4.7M525.4 130.6h4.7M527.7 128.2v4.7M521.4 139.4h4.7M523.8 137.1v4.7M518.5 145.2h4.7M520.9 142.8v4.7M498.0 167.2h4.7M500.4 164.8v4.7M503.5 183.2h4.7M505.9 180.8v4.7M551.4 92.2h4.7M553.7 89.9v4.7M521.1 129.0h4.7M523.5 126.6v4.7M524.2 143.8h4.7M526.6 141.5v4.7M516.5 111.4h4.7M518.8 109.0v4.7M521.4 149.7h4.7M523.7 147.3v4.7M506.1 132.1h4.7M508.5 129.8v4.7M520.8 112.7h4.7M523.2 110.3v4.7M552.2 156.7h4.7M554.5 154.3v4.7M551.8 114.8h4.7M554.2 112.4v4.7M550.3 126.3h4.7M552.6 123.9v4.7M540.2 121.7h4.7M542.5 119.4v4.7M548.4 135.9h4.7M550.8 133.5v4.7M551.9 168.7h4.7M554.2 166.4v4.7M555.3 155.9h4.7M557.7 153.6v4.7M530.0 116.5h4.7M532.4 114.2v4.7M535.9 115.7h4.7M538.2 113.4v4.7M540.8 126.1h4.7M543.1 123.8v4.7M543.8 158.9h4.7M546.1 156.5v4.7M547.8 125.5h4.7M550.2 123.2v4.7M559.6 104.2h4.7M561.9 101.8v4.7M563.0 137.2h4.7M565.3 134.8v4.7M565.7 151.8h4.7M568.0 149.4v4.7M532.9 114.7h4.7M535.3 112.3v4.7M532.5 140.4h4.7M534.9 138.0v4.7M552.6 137.3h4.7M554.9 135.0v4.7M557.7 107.3h4.7M560.1 104.9v4.7M560.5 118.0h4.7M562.9 115.6v4.7M546.9 114.1h4.7M549.2 111.7v4.7M535.1 103.9h4.7M537.4 101.5v4.7M549.3 128.6h4.7M551.6 126.3v4.7M557.9 144.4h4.7M560.3 142.1v4.7M561.5 111.4h4.7M563.8 109.1v4.7M533.6 144.7h4.7M536.0 142.4v4.7M542.9 123.5h4.7M545.3 121.1v4.7M554.4 134.1h4.7M556.7 131.8v4.7M566.7 132.5h4.7M569.1 130.2v4.7M575.3 129.5h4.7M577.6 127.2v4.7M534.2 128.3h4.7M536.6 125.9v4.7M536.5 104.3h4.7M538.8 101.9v4.7M546.0 130.5h4.7M548.3 128.2v4.7M561.7 131.3h4.7M564.0 129.0v4.7M571.1 122.3h4.7M573.5 119.9v4.7M540.8 113.9h4.7M543.1 111.5v4.7M549.2 136.2h4.7M551.6 133.8v4.7M546.8 117.4h4.7M549.1 115.0v4.7M551.7 129.6h4.7M554.0 127.3v4.7M558.9 132.5h4.7M561.2 130.1v4.7M558.9 141.9h4.7M561.2 139.5v4.7M571.0 157.7h4.7M573.3 155.3v4.7M576.1 166.8h4.7M578.4 164.4v4.7M543.8 155.9h4.7M546.1 153.5v4.7M552.0 150.6h4.7M554.4 148.3v4.7M542.3 110.3h4.7M544.7 107.9v4.7M546.8 133.0h4.7M549.2 130.6v4.7M539.9 136.7h4.7M542.3 134.3v4.7M553.7 134.6h4.7M556.0 132.3v4.7M558.9 169.6h4.7M561.3 167.3v4.7M557.3 126.9h4.7M559.7 124.6v4.7M572.0 128.6h4.7M574.3 126.3v4.7M533.0 151.6h4.7M535.4 149.2v4.7M533.3 103.5h4.7M535.7 101.2v4.7M569.6 150.9h4.7M571.9 148.5v4.7M534.5 165.6h4.7M536.9 163.3v4.7M557.2 144.9h4.7M559.6 142.5v4.7M561.0 148.6h4.7M563.4 146.3v4.7M567.7 145.1h4.7M570.1 142.8v4.7M545.2 146.4h4.7M547.6 144.0v4.7M571.8 117.2h4.7M574.2 114.9v4.7M532.2 130.4h4.7M534.5 128.1v4.7M562.6 160.6h4.7M565.0 158.3v4.7M536.3 151.3h4.7M538.7 149.0v4.7M567.1 115.7h4.7M569.4 113.3v4.7M573.4 131.8h4.7M575.7 129.4v4.7M575.2 130.0h4.7M577.6 127.7v4.7M537.7 115.8h4.7M540.1 113.5v4.7M565.5 142.5h4.7M567.9 140.2v4.7M572.3 152.9h4.7M574.7 150.6v4.7M575.1 149.5h4.7M577.5 147.1v4.7M532.6 134.5h4.7M534.9 132.2v4.7M561.8 112.8h4.7M564.2 110.5v4.7M569.8 138.8h4.7M572.2 136.4v4.7M543.0 102.6h4.7M545.4 100.2v4.7M545.5 132.5h4.7M547.9 130.2v4.7M560.7 149.4h4.7M563.1 147.1v4.7M566.5 155.5h4.7M568.8 153.2v4.7M546.9 144.0h4.7M549.2 141.6v4.7M571.8 122.9h4.7M574.2 120.6v4.7M554.4 136.8h4.7M556.8 134.5v4.7M556.9 135.6h4.7M559.2 133.2v4.7M561.2 155.6h4.7M563.6 153.2v4.7M566.7 124.2h4.7M569.1 121.9v4.7M599.4 139.1h4.7M601.7 136.8v4.7M605.3 127.3h4.7M607.6 124.9v4.7M606.6 147.6h4.7M608.9 145.3v4.7M583.3 146.9h4.7M585.6 144.6v4.7M592.0 144.6h4.7M594.3 142.2v4.7M605.4 131.9h4.7M607.8 129.6v4.7M590.4 159.2h4.7M592.8 156.8v4.7M591.5 165.2h4.7M593.8 162.9v4.7M596.3 135.1h4.7M598.6 132.7v4.7M595.6 160.1h4.7M598.0 157.7v4.7M602.7 118.8h4.7M605.1 116.4v4.7M604.9 119.4h4.7M607.2 117.0v4.7M594.0 129.5h4.7M596.3 127.1v4.7M594.3 142.1h4.7M596.7 139.7v4.7M598.0 138.6h4.7M600.3 136.3v4.7M606.1 134.6h4.7M608.4 132.2v4.7M588.4 129.2h4.7M590.8 126.9v4.7M587.9 145.6h4.7M590.3 143.3v4.7M601.0 166.9h4.7M603.3 164.6v4.7M592.5 114.6h4.7M594.9 112.3v4.7M601.0 140.2h4.7M603.3 137.8v4.7M605.6 145.4h4.7M608.0 143.0v4.7M610.2 138.0h4.7M612.6 135.6v4.7M589.3 151.1h4.7M591.7 148.8v4.7M591.2 148.9h4.7M593.6 146.5v4.7M607.6 132.7h4.7M610.0 130.4v4.7M591.7 133.0h4.7M594.0 130.6v4.7M586.3 113.9h4.7M588.7 111.6v4.7M595.9 147.7h4.7M598.3 145.4v4.7M607.6 127.5h4.7M609.9 125.2v4.7M593.8 131.5h4.7M596.1 129.2v4.7M601.1 130.9h4.7M603.4 128.5v4.7M583.8 128.0h4.7M586.1 125.6v4.7M596.1 118.3h4.7M598.4 116.0v4.7M593.8 112.9h4.7M596.1 110.5v4.7M606.4 132.5h4.7M608.7 130.1v4.7M610.5 136.0h4.7M612.8 133.7v4.7M594.4 140.6h4.7M596.8 138.3v4.7M602.4 136.1h4.7M604.7 133.8v4.7M604.1 139.9h4.7M606.4 137.5v4.7M605.8 149.0h4.7M608.2 146.6v4.7M585.7 144.4h4.7M588.0 142.1v4.7M591.2 128.8h4.7M593.5 126.5v4.7M596.1 130.4h4.7M598.5 128.1v4.7M589.2 126.3h4.7M591.6 123.9v4.7M594.5 124.1h4.7M596.8 121.8v4.7M597.8 131.2h4.7M600.1 128.9v4.7M604.6 117.4h4.7M607.0 115.0v4.7M607.7 132.7h4.7M610.0 130.3v4.7M608.7 122.4h4.7M611.1 120.0v4.7M597.6 144.3h4.7M600.0 141.9v4.7M601.0 153.1h4.7M603.4 150.7v4.7M609.0 143.2h4.7M611.3 140.8v4.7M589.9 106.3h4.7M592.3 104.0v4.7M587.3 146.6h4.7M589.6 144.3v4.7M608.0 122.7h4.7M610.4 120.4v4.7M580.7 119.1h4.7M583.0 116.8v4.7M587.3 107.3h4.7M589.6 105.0v4.7M601.1 130.1h4.7M603.4 127.8v4.7M606.7 148.1h4.7M609.0 145.8v4.7M611.6 117.6h4.7M613.9 115.3v4.7M609.4 143.5h4.7M611.8 141.2v4.7M596.2 150.0h4.7M598.6 147.6v4.7M588.9 165.5h4.7M591.2 163.2v4.7M607.2 107.6h4.7M609.6 105.3v4.7M600.1 125.4h4.7M602.5 123.0v4.7M607.1 129.6h4.7M609.4 127.2v4.7M610.4 144.8h4.7M612.8 142.4v4.7M579.0 112.8h4.7M581.3 110.4v4.7M580.6 153.0h4.7M582.9 150.7v4.7M601.1 105.0h4.7M603.5 102.6v4.7M605.0 158.5h4.7M607.4 156.1v4.7M608.5 159.3h4.7M610.8 156.9v4.7M598.5 136.6h4.7M600.9 134.2v4.7M601.3 120.7h4.7M603.6 118.4v4.7M578.8 103.3h4.7M581.2 100.9v4.7M589.8 145.1h4.7M592.2 142.7v4.7M593.3 144.0h4.7M595.6 141.6v4.7M595.1 152.3h4.7M597.4 150.0v4.7M604.3 124.5h4.7M606.7 122.1v4.7M589.2 131.9h4.7M591.5 129.6v4.7M584.5 119.5h4.7M586.9 117.1v4.7M588.4 120.8h4.7M590.8 118.4v4.7M598.7 150.1h4.7M601.0 147.8v4.7M603.8 144.2h4.7M606.1 141.9v4.7M610.3 115.4h4.7M612.7 113.1v4.7M603.8 109.4h4.7M606.2 107.1v4.7M602.2 136.0h4.7M604.5 133.6v4.7M580.9 144.0h4.7M583.2 141.7v4.7M579.7 153.2h4.7M582.1 150.9v4.7M596.6 151.2h4.7M599.0 148.8v4.7M596.5 160.6h4.7M598.8 158.2v4.7M610.6 123.1h4.7M612.9 120.7v4.7M580.9 126.8h4.7M583.2 124.5v4.7M597.2 128.5h4.7M599.5 126.2v4.7M602.9 139.4h4.7M605.3 137.0v4.7M605.8 140.9h4.7M608.1 138.5v4.7M584.4 124.9h4.7M586.7 122.6v4.7M588.1 159.3h4.7M590.4 156.9v4.7M598.2 134.4h4.7M600.6 132.1v4.7M605.5 144.6h4.7M607.8 142.3v4.7M598.1 128.3h4.7M600.5 125.9v4.7M595.8 137.9h4.7M598.1 135.6v4.7M584.2 111.7h4.7M586.5 109.3v4.7M582.2 117.4h4.7M584.6 115.1v4.7M574.0 152.6h4.7M576.4 150.2v4.7M604.1 150.3h4.7M606.4 148.0v4.7M610.6 115.9h4.7M613.0 113.5v4.7M575.1 134.2h4.7M577.4 131.9v4.7M597.5 146.5h4.7M599.9 144.1v4.7M600.7 120.0h4.7M603.1 117.7v4.7M603.9 130.2h4.7M606.3 127.8v4.7M607.8 159.0h4.7M610.2 156.6v4.7M611.6 173.3h4.7M614.0 171.0v4.7M580.5 141.5h4.7M582.9 139.1v4.7M586.5 124.2h4.7M588.8 121.9v4.7M586.7 155.3h4.7M589.1 152.9v4.7M601.5 116.6h4.7M603.9 114.3v4.7M582.2 148.6h4.7M584.6 146.3v4.7M578.2 138.0h4.7M580.6 135.7v4.7M583.9 156.0h4.7M586.3 153.6v4.7M580.8 139.8h4.7M583.1 137.4v4.7M602.1 176.0h4.7M604.5 173.6v4.7M582.5 119.9h4.7M584.9 117.6v4.7M581.1 173.0h4.7M583.4 170.6v4.7M598.2 143.6h4.7M600.5 141.2v4.7M608.7 156.9h4.7M611.0 154.6v4.7M610.4 118.7h4.7M612.8 116.3v4.7M595.1 113.1h4.7M597.4 110.7v4.7M595.4 125.8h4.7M597.8 123.5v4.7M604.4 154.1h4.7M606.8 151.8v4.7M596.5 143.3h4.7M598.8 140.9v4.7M609.3 130.7h4.7M611.7 128.4v4.7M589.3 145.2h4.7M591.6 142.8v4.7M594.6 130.6h4.7M596.9 128.3v4.7M607.5 117.7h4.7M609.8 115.3v4.7M606.3 142.3h4.7M608.7 140.0v4.7M583.9 127.9h4.7M586.2 125.5v4.7M606.1 162.2h4.7M608.5 159.9v4.7M597.8 116.5h4.7M600.2 114.1v4.7M595.7 129.1h4.7M598.0 126.7v4.7M609.9 122.9h4.7M612.3 120.5v4.7M599.2 172.2h4.7M601.5 169.9v4.7M605.8 140.8h4.7M608.1 138.5v4.7M601.9 123.7h4.7M604.3 121.4v4.7M590.0 169.7h4.7M592.4 167.4v4.7M590.5 116.8h4.7M592.8 114.5v4.7M592.2 141.0h4.7M594.5 138.7v4.7M612.1 121.5h4.7M614.4 119.2v4.7M599.9 154.5h4.7M602.3 152.1v4.7M606.5 163.2h4.7M608.9 160.9v4.7M583.0 140.5h4.7M585.4 138.1v4.7M581.2 125.8h4.7M583.5 123.5v4.7M607.2 149.0h4.7M609.6 146.6v4.7M610.2 170.8h4.7M612.6 168.5v4.7M594.3 139.8h4.7M596.6 137.4v4.7M598.3 144.4h4.7M600.6 142.1v4.7M611.3 183.6h4.7M613.7 181.2v4.7M599.8 123.9h4.7M602.1 121.5v4.7M608.5 137.9h4.7M610.8 135.5v4.7M590.1 130.0h4.7M592.4 127.6v4.7M595.7 149.8h4.7M598.0 147.5v4.7M592.8 173.6h4.7M595.2 171.3v4.7M603.3 157.4h4.7M605.7 155.1v4.7M585.7 141.4h4.7M588.1 139.1v4.7M605.2 151.3h4.7M607.5 149.0v4.7M604.5 104.6h4.7M606.9 102.2v4.7M594.4 112.8h4.7M596.8 110.4v4.7M612.3 117.7h4.7M614.7 115.4v4.7M599.7 135.2h4.7M602.1 132.9v4.7M583.4 134.2h4.7M585.7 131.8v4.7M596.9 151.7h4.7M599.3 149.4v4.7M603.4 141.9h4.7M605.7 139.6v4.7M585.1 131.4h4.7M587.4 129.1v4.7M610.9 141.8h4.7M613.2 139.4v4.7M604.5 125.9h4.7M606.9 123.5v4.7M608.9 154.8h4.7M611.2 152.4v4.7M587.8 139.3h4.7M590.1 136.9v4.7M600.9 144.8h4.7M603.3 142.4v4.7" stroke="#ff7070" stroke-width="0.78" fill="none"/>
<path d="M450.1 58.0h4.7M452.5 55.6v4.7M448.3 93.6h4.7M450.7 91.2v4.7M455.5 109.2h4.7M457.9 106.9v4.7M465.8 114.6h4.7M468.2 112.2v4.7M520.6 82.8h4.7M523.0 80.5v4.7M511.9 84.2h4.7M514.3 81.9v4.7M509.2 91.4h4.7M511.6 89.1v4.7M492.0 93.3h4.7M494.4 91.0v4.7M489.3 100.5h4.7M491.7 98.2v4.7M476.6 102.3h4.7M479.0 100.0v4.7M480.3 102.3h4.7M482.7 100.0v4.7M492.0 105.0h4.7M494.4 102.7v4.7M502.9 111.3h4.7M505.3 109.0v4.7M511.0 114.0h4.7M513.4 111.7v4.7M484.8 114.0h4.7M487.2 111.7v4.7M495.6 118.6h4.7M498.0 116.2v4.7M522.8 114.9h4.7M525.1 112.6v4.7M527.4 116.7h4.7M529.7 114.4v4.7M464.9 115.0h4.7M467.3 112.7v4.7M474.8 120.5h4.7M477.1 118.2v4.7M495.1 119.9h4.7M497.5 117.6v4.7M497.8 137.4h4.7M500.1 135.1v4.7M500.0 123.8h4.7M502.4 121.5v4.7M505.8 127.7h4.7M508.2 125.4v4.7M515.6 122.8h4.7M518.0 120.5v4.7M523.4 119.9h4.7M525.8 117.6v4.7M526.4 134.5h4.7M528.7 132.2v4.7M518.5 148.1h4.7M520.9 145.8v4.7M503.5 162.7h4.7M505.9 160.3v4.7M532.8 82.3h4.7M535.1 80.0v4.7M528.2 95.9h4.7M530.6 93.6v4.7M533.6 95.9h4.7M536.0 93.6v4.7M530.0 102.2h4.7M532.4 99.9v4.7M547.2 93.7h4.7M549.6 91.4v4.7M559.9 83.2h4.7M562.2 80.9v4.7M567.9 83.2h4.7M570.3 80.9v4.7M568.9 90.8h4.7M571.2 88.5v4.7M579.8 85.4h4.7M582.1 83.1v4.7M523.9 127.3h4.7M526.3 124.9v4.7M503.9 140.4h4.7M506.2 138.0v4.7M508.4 107.9h4.7M510.7 105.6v4.7M514.8 105.6h4.7M517.1 103.2v4.7M512.2 145.2h4.7M514.5 142.9v4.7M517.1 122.4h4.7M519.4 120.0v4.7M551.6 130.6h4.7M554.0 128.2v4.7M552.4 133.4h4.7M554.8 131.1v4.7M550.2 125.7h4.7M552.5 123.3v4.7M539.5 109.8h4.7M541.9 107.5v4.7M548.3 110.0h4.7M550.7 107.6v4.7M551.8 116.9h4.7M554.1 114.6v4.7M555.0 114.5h4.7M557.3 112.1v4.7M530.0 120.9h4.7M532.4 118.5v4.7M535.6 125.1h4.7M537.9 122.8v4.7M540.9 119.8h4.7M543.2 117.4v4.7M543.8 103.2h4.7M546.1 100.9v4.7M545.8 119.5h4.7M548.1 117.1v4.7M559.0 138.4h4.7M561.4 136.0v4.7M563.4 133.1h4.7M565.8 130.7v4.7M565.9 105.5h4.7M568.3 103.2v4.7M532.7 114.3h4.7M535.1 112.0v4.7M532.2 130.9h4.7M534.6 128.6v4.7M552.8 124.8h4.7M555.2 122.5v4.7M558.6 127.8h4.7M560.9 125.5v4.7M561.1 125.3h4.7M563.4 122.9v4.7M546.4 126.4h4.7M548.8 124.0v4.7M534.7 146.5h4.7M537.1 144.2v4.7M548.8 128.1h4.7M551.2 125.7v4.7M557.9 136.8h4.7M560.3 134.5v4.7M561.5 119.0h4.7M563.8 116.7v4.7M542.9 126.3h4.7M545.3 124.0v4.7M553.8 154.3h4.7M556.2 152.0v4.7M567.3 145.7h4.7M569.7 143.3v4.7M575.1 141.3h4.7M577.5 138.9v4.7M534.1 102.1h4.7M536.4 99.8v4.7M537.5 115.9h4.7M539.9 113.5v4.7M547.0 125.0h4.7M549.3 122.6v4.7M560.9 109.4h4.7M563.2 107.1v4.7M571.0 131.7h4.7M573.3 129.3v4.7M541.4 114.6h4.7M543.7 112.2v4.7M549.8 124.6h4.7M552.2 122.3v4.7M539.0 128.9h4.7M541.3 126.6v4.7M548.0 124.4h4.7M550.3 122.1v4.7M551.7 112.1h4.7M554.0 109.8v4.7M557.8 120.8h4.7M560.2 118.4v4.7M558.3 125.2h4.7M560.7 122.9v4.7M569.7 121.7h4.7M572.1 119.4v4.7M576.3 144.3h4.7M578.6 141.9v4.7M543.1 112.4h4.7M545.5 110.0v4.7M552.3 107.6h4.7M554.7 105.3v4.7M533.9 113.4h4.7M536.2 111.0v4.7M542.3 105.8h4.7M544.6 103.4v4.7M547.7 109.1h4.7M550.1 106.7v4.7M540.3 132.1h4.7M542.7 129.8v4.7M543.5 131.4h4.7M545.9 129.1v4.7M553.8 134.7h4.7M556.1 132.4v4.7M559.6 125.4h4.7M561.9 123.0v4.7M557.4 147.6h4.7M559.7 145.2v4.7M571.9 142.1h4.7M574.2 139.7v4.7M533.3 124.4h4.7M535.6 122.0v4.7M570.4 142.9h4.7M572.7 140.5v4.7M557.4 118.8h4.7M559.7 116.4v4.7M561.3 146.5h4.7M563.6 144.1v4.7M545.7 137.2h4.7M548.1 134.8v4.7M571.7 129.2h4.7M574.1 126.9v4.7M531.9 113.7h4.7M534.2 111.3v4.7M561.9 144.4h4.7M564.3 142.0v4.7M536.4 116.5h4.7M538.8 114.1v4.7M566.6 106.6h4.7M569.0 104.2v4.7M573.2 146.7h4.7M575.6 144.3v4.7M574.7 134.6h4.7M577.1 132.2v4.7M538.1 137.4h4.7M540.5 135.1v4.7M565.7 117.9h4.7M568.0 115.5v4.7M571.8 114.9h4.7M574.2 112.6v4.7M575.9 117.5h4.7M578.3 115.1v4.7M534.1 126.6h4.7M536.4 124.3v4.7M562.0 106.4h4.7M564.3 104.1v4.7M569.7 141.2h4.7M572.1 138.9v4.7M542.2 115.6h4.7M544.5 113.2v4.7M545.6 129.0h4.7M547.9 126.7v4.7M560.2 133.4h4.7M562.6 131.1v4.7M566.4 133.1h4.7M568.8 130.8v4.7M571.0 131.3h4.7M573.4 128.9v4.7M538.3 126.6h4.7M540.6 124.3v4.7M546.4 135.7h4.7M548.7 133.3v4.7M572.5 147.5h4.7M574.8 145.2v4.7M553.7 104.5h4.7M556.1 102.1v4.7M556.1 125.2h4.7M558.4 122.8v4.7M561.3 123.1h4.7M563.7 120.8v4.7M566.0 127.7h4.7M568.3 125.4v4.7M599.8 132.2h4.7M602.2 129.8v4.7M605.4 126.7h4.7M607.8 124.4v4.7M606.4 119.8h4.7M608.7 117.4v4.7M584.5 155.6h4.7M586.9 153.2v4.7M591.9 128.2h4.7M594.3 125.9v4.7M605.5 179.8h4.7M607.8 177.5v4.7M589.9 155.0h4.7M592.2 152.7v4.7M591.2 130.4h4.7M593.6 128.0v4.7M596.0 172.3h4.7M598.3 170.0v4.7M594.5 123.6h4.7M596.9 121.2v4.7M602.8 141.6h4.7M605.2 139.3v4.7M605.1 126.0h4.7M607.5 123.6v4.7M594.6 137.5h4.7M597.0 135.1v4.7M595.0 142.2h4.7M597.3 139.8v4.7M598.9 156.0h4.7M601.2 153.7v4.7M606.3 119.9h4.7M608.7 117.5v4.7M587.8 140.8h4.7M590.2 138.5v4.7M588.5 134.9h4.7M590.9 132.5v4.7M600.8 131.9h4.7M603.2 129.5v4.7M592.4 150.8h4.7M594.7 148.5v4.7M601.4 124.0h4.7M603.8 121.6v4.7M606.1 140.9h4.7M608.4 138.5v4.7M609.4 123.8h4.7M611.8 121.5v4.7M589.3 133.1h4.7M591.7 130.8v4.7M591.9 155.9h4.7M594.3 153.6v4.7M591.6 108.6h4.7M593.9 106.2v4.7M586.1 141.4h4.7M588.5 139.0v4.7M596.2 133.8h4.7M598.6 131.4v4.7M607.2 126.8h4.7M609.5 124.4v4.7M594.4 115.9h4.7M596.7 113.6v4.7M601.6 112.8h4.7M604.0 110.5v4.7M583.2 116.6h4.7M585.5 114.3v4.7M595.7 135.7h4.7M598.1 133.3v4.7M593.5 117.5h4.7M595.9 115.1v4.7M606.3 140.7h4.7M608.6 138.4v4.7M610.5 132.2h4.7M612.9 129.9v4.7M594.4 150.6h4.7M596.8 148.2v4.7M602.5 107.8h4.7M604.9 105.5v4.7M603.7 132.3h4.7M606.1 129.9v4.7M590.4 113.8h4.7M592.8 111.4v4.7M606.3 127.8h4.7M608.7 125.5v4.7M586.4 149.4h4.7M588.8 147.1v4.7M590.0 150.5h4.7M592.3 148.1v4.7M595.3 117.0h4.7M597.7 114.6v4.7M582.8 133.5h4.7M585.1 131.2v4.7M590.3 112.8h4.7M592.7 110.5v4.7M594.4 128.8h4.7M596.7 126.4v4.7M598.0 112.5h4.7M600.3 110.1v4.7M604.8 122.1h4.7M607.1 119.7v4.7M607.4 144.1h4.7M609.7 141.7v4.7M608.0 121.5h4.7M610.3 119.1v4.7M597.3 128.0h4.7M599.6 125.7v4.7M600.8 165.4h4.7M603.2 163.1v4.7M608.4 140.8h4.7M610.7 138.4v4.7M590.0 123.1h4.7M592.3 120.8v4.7M588.0 121.5h4.7M590.3 119.1v4.7M608.3 129.2h4.7M610.6 126.8v4.7M581.2 128.5h4.7M583.5 126.2v4.7M586.9 125.8h4.7M589.2 123.5v4.7M601.9 118.2h4.7M604.3 115.8v4.7M607.0 137.7h4.7M609.3 135.4v4.7M610.6 128.9h4.7M613.0 126.5v4.7M609.7 123.9h4.7M612.0 121.6v4.7M596.3 107.3h4.7M598.6 104.9v4.7M588.5 115.4h4.7M590.8 113.1v4.7M606.4 122.9h4.7M608.8 120.5v4.7M600.0 138.1h4.7M602.4 135.7v4.7M607.4 114.6h4.7M609.8 112.3v4.7M610.4 133.4h4.7M612.7 131.0v4.7M578.6 123.5h4.7M581.0 121.2v4.7M595.3 107.0h4.7M597.6 104.7v4.7M581.8 131.1h4.7M584.2 128.8v4.7M601.4 139.8h4.7M603.7 137.4v4.7M605.5 117.7h4.7M607.8 115.4v4.7M609.1 117.1h4.7M611.5 114.8v4.7M596.2 117.7h4.7M598.6 115.3v4.7M588.2 128.2h4.7M590.5 125.9v4.7M597.9 136.5h4.7M600.3 134.1v4.7M601.1 141.9h4.7M603.5 139.6v4.7M579.6 136.8h4.7M582.0 134.4v4.7M589.6 105.5h4.7M592.0 103.2v4.7M593.3 147.1h4.7M595.6 144.7v4.7M595.5 135.9h4.7M597.9 133.6v4.7M605.2 122.5h4.7M607.6 120.2v4.7M588.6 123.9h4.7M591.0 121.5v4.7M583.9 118.3h4.7M586.2 115.9v4.7M588.2 139.2h4.7M590.5 136.9v4.7M599.0 118.2h4.7M601.3 115.9v4.7M603.9 135.2h4.7M606.3 132.9v4.7M610.4 154.1h4.7M612.8 151.7v4.7M604.3 141.0h4.7M606.6 138.7v4.7M601.7 109.0h4.7M604.0 106.7v4.7M580.6 144.0h4.7M583.0 141.6v4.7M578.8 127.5h4.7M581.2 125.1v4.7M597.1 138.2h4.7M599.4 135.9v4.7M596.4 131.5h4.7M598.8 129.1v4.7M610.3 138.7h4.7M612.6 136.4v4.7M581.5 121.4h4.7M583.8 119.1v4.7M597.3 134.4h4.7M599.6 132.0v4.7M605.9 149.8h4.7M608.2 147.5v4.7M585.5 131.7h4.7M587.9 129.4v4.7M588.4 169.3h4.7M590.7 166.9v4.7M598.3 143.0h4.7M600.6 140.7v4.7M605.9 148.7h4.7M608.3 146.3v4.7M598.8 137.4h4.7M601.2 135.0v4.7M595.9 145.0h4.7M598.3 142.7v4.7M583.2 124.7h4.7M585.6 122.3v4.7M582.7 137.3h4.7M585.0 135.0v4.7M573.2 137.0h4.7M575.6 134.6v4.7M603.7 142.2h4.7M606.0 139.9v4.7M611.8 121.2h4.7M614.1 118.8v4.7M574.9 135.7h4.7M577.2 133.4v4.7M596.6 134.8h4.7M598.9 132.4v4.7M600.0 148.7h4.7M602.4 146.4v4.7M604.5 121.2h4.7M606.9 118.8v4.7M611.4 143.2h4.7M613.7 140.9v4.7M581.1 116.5h4.7M583.5 114.1v4.7M586.7 123.4h4.7M589.1 121.1v4.7M586.8 118.1h4.7M589.2 115.8v4.7M582.6 145.4h4.7M585.0 143.1v4.7M577.6 120.4h4.7M579.9 118.0v4.7M584.2 118.4h4.7M586.5 116.0v4.7M581.2 117.5h4.7M583.6 115.2v4.7M602.7 143.0h4.7M605.0 140.7v4.7M583.7 155.4h4.7M586.0 153.0v4.7M582.1 107.9h4.7M584.4 105.6v4.7M599.1 131.1h4.7M601.5 128.7v4.7M608.5 136.2h4.7M610.9 133.8v4.7M611.1 141.4h4.7M613.4 139.0v4.7M595.7 110.1h4.7M598.1 107.7v4.7M595.8 136.1h4.7M598.2 133.7v4.7M604.0 136.9h4.7M606.4 134.5v4.7M595.3 135.0h4.7M597.7 132.6v4.7M608.5 112.1h4.7M610.8 109.7v4.7M588.6 138.5h4.7M590.9 136.1v4.7M595.2 145.5h4.7M597.6 143.1v4.7M606.9 126.4h4.7M609.2 124.0v4.7M586.9 133.2h4.7M589.2 130.9v4.7M606.9 103.9h4.7M609.3 101.5v4.7M584.1 116.0h4.7M586.4 113.7v4.7M605.9 154.6h4.7M608.2 152.2v4.7M598.0 125.0h4.7M600.4 122.6v4.7M595.5 153.9h4.7M597.8 151.5v4.7M609.5 131.3h4.7M611.9 129.0v4.7M599.1 131.9h4.7M601.5 129.5v4.7M606.3 113.1h4.7M608.7 110.8v4.7M602.6 108.8h4.7M605.0 106.5v4.7M590.1 124.9h4.7M592.4 122.5v4.7M590.7 141.2h4.7M593.1 138.9v4.7M592.2 118.5h4.7M594.5 116.1v4.7M611.6 122.8h4.7M614.0 120.4v4.7M600.2 130.0h4.7M602.5 127.7v4.7M606.8 125.0h4.7M609.2 122.7v4.7M583.1 128.8h4.7M585.4 126.5v4.7M581.5 123.0h4.7M583.8 120.7v4.7M606.6 156.8h4.7M609.0 154.5v4.7M610.3 125.8h4.7M612.6 123.5v4.7M594.6 135.8h4.7M596.9 133.5v4.7M597.9 125.8h4.7M600.3 123.4v4.7M611.1 151.7h4.7M613.4 149.3v4.7M599.8 138.1h4.7M602.2 135.8v4.7M607.7 114.0h4.7M610.0 111.7v4.7M591.1 129.7h4.7M593.5 127.4v4.7M595.3 123.4h4.7M597.6 121.0v4.7M592.3 126.1h4.7M594.7 123.7v4.7M602.5 145.3h4.7M604.8 142.9v4.7M586.6 126.3h4.7M589.0 123.9v4.7M604.7 120.7h4.7M607.0 118.3v4.7M605.4 168.5h4.7M607.7 166.1v4.7M595.4 128.3h4.7M597.8 126.0v4.7M612.2 143.8h4.7M614.5 141.4v4.7M599.0 123.3h4.7M601.3 121.0v4.7M583.8 116.8h4.7M586.2 114.4v4.7M596.6 119.4h4.7M598.9 117.0v4.7M603.4 112.7h4.7M605.7 110.3v4.7M585.5 140.0h4.7M587.8 137.6v4.7M610.8 146.9h4.7M613.1 144.5v4.7M603.9 121.8h4.7M606.3 119.4v4.7M588.3 129.4h4.7M590.7 127.1v4.7M599.8 131.5h4.7M602.2 129.2v4.7" stroke="#7474ff" stroke-width="0.78" fill="none"/>
<path d="M449.8 48.4L452.5 43.8L455.2 48.4ZM447.9 83.6L450.7 79.0L453.4 83.6ZM455.1 95.4L457.9 90.8L460.6 95.4ZM465.4 99.9L468.2 95.2L470.9 99.9ZM475.4 95.0L478.1 90.4L480.9 95.0ZM480.4 98.6L483.2 94.0L485.9 98.6ZM488.4 85.4L491.2 80.8L493.9 85.4ZM492.1 90.3L494.8 85.7L497.6 90.3ZM502.6 91.7L505.3 87.0L508.1 91.7ZM511.5 72.8L514.3 68.2L517.0 72.8ZM508.9 78.7L511.6 74.0L514.4 78.7ZM513.0 78.7L515.7 74.0L518.5 78.7ZM520.2 80.5L523.0 75.9L525.8 80.5ZM507.1 99.0L509.8 94.4L512.5 99.0ZM510.0 101.7L512.8 97.0L515.5 101.7ZM516.0 99.9L518.8 95.2L521.5 99.9ZM527.9 91.7L530.6 87.0L533.4 91.7ZM521.5 104.4L524.2 99.8L527.0 104.4ZM524.1 105.3L526.9 100.7L529.6 105.3ZM495.2 99.9L498.0 95.2L500.8 99.9ZM485.4 105.3L488.1 100.7L490.9 105.3ZM474.4 108.0L477.2 103.4L479.9 108.0ZM493.4 109.8L496.2 105.2L498.9 109.8ZM501.6 104.4L504.4 99.8L507.1 104.4ZM500.6 107.6L503.4 103.0L506.1 107.6ZM505.2 109.8L508.0 105.2L510.8 109.8ZM507.9 111.6L510.7 107.0L513.5 111.6ZM513.4 112.5L516.1 107.9L518.9 112.5ZM518.8 113.4L521.5 108.8L524.2 113.4ZM516.0 115.2L518.8 110.5L521.5 115.2ZM524.1 110.7L526.9 106.0L529.6 110.7ZM498.9 118.5L501.6 113.9L504.4 118.5ZM518.8 117.9L521.5 113.2L524.2 117.9ZM497.6 118.1L500.4 113.5L503.1 118.1ZM497.4 131.1L500.1 126.5L502.9 131.1ZM503.1 136.2L505.9 131.5L508.6 136.2ZM517.1 129.8L519.9 125.2L522.6 129.8ZM532.4 77.2L535.1 72.5L537.9 77.2ZM535.5 86.2L538.2 81.5L541.0 86.2ZM528.2 91.6L531.0 87.0L533.8 91.6ZM532.4 90.7L535.1 86.0L537.9 90.7ZM534.1 95.2L536.9 90.5L539.6 95.2ZM536.0 95.8L538.7 91.2L541.5 95.8ZM545.5 84.9L548.3 80.2L551.0 84.9ZM551.0 84.4L553.7 79.8L556.5 84.4ZM547.4 92.5L550.1 87.9L552.9 92.5ZM543.2 97.6L546.0 93.0L548.8 97.6ZM551.4 102.5L554.1 97.9L556.9 102.5ZM559.5 82.6L562.2 78.0L565.0 82.6ZM567.5 83.5L570.3 78.9L573.0 83.5ZM568.5 90.7L571.2 86.0L574.0 90.7ZM579.4 83.1L582.1 78.5L584.9 83.1ZM598.0 79.0L600.7 74.4L603.5 79.0ZM598.2 90.4L601.0 85.8L603.8 90.4ZM581.6 95.2L584.4 90.5L587.1 95.2ZM585.6 95.2L588.4 90.5L591.1 95.2ZM589.0 95.2L591.7 90.5L594.5 95.2ZM595.5 95.2L598.3 90.5L601.0 95.2ZM606.5 91.6L609.2 87.0L612.0 91.6ZM609.5 92.5L612.2 87.9L615.0 92.5ZM570.9 101.6L573.6 97.0L576.4 101.6ZM581.6 101.9L584.4 97.2L587.1 101.9ZM557.6 105.2L560.4 100.5L563.1 105.2ZM542.4 105.2L545.1 100.5L547.9 105.2ZM560.4 108.8L563.1 104.2L565.9 108.8ZM520.6 109.9L523.4 105.3L526.1 109.9ZM508.1 122.7L510.8 118.0L513.6 122.7ZM510.8 111.6L513.6 106.9L516.3 111.6ZM514.1 110.1L516.8 105.4L519.6 110.1ZM510.1 115.4L512.8 110.8L515.6 115.4ZM551.7 112.0L554.5 107.3L557.2 112.0ZM539.4 105.4L542.2 100.7L544.9 105.4ZM535.2 119.0L538.0 114.4L540.7 119.0ZM558.9 130.6L561.6 126.0L564.4 130.6ZM563.1 123.3L565.9 118.7L568.6 123.3ZM565.7 108.4L568.4 103.7L571.2 108.4ZM532.9 127.2L535.6 122.5L538.4 127.2ZM532.3 116.4L535.0 111.8L537.8 116.4ZM557.6 124.1L560.4 119.5L563.1 124.1ZM535.3 106.6L538.1 101.9L540.8 106.6ZM548.8 127.7L551.6 123.1L554.3 127.7ZM557.3 107.6L560.0 102.9L562.8 107.6ZM560.5 133.5L563.2 128.9L566.0 133.5ZM542.7 133.7L545.5 129.0L548.2 133.7ZM554.1 103.4L556.9 98.7L559.6 103.4ZM566.3 127.4L569.1 122.8L571.8 127.4ZM574.5 115.4L577.3 110.8L580.0 115.4ZM533.7 113.0L536.5 108.4L539.2 113.0ZM545.8 105.9L548.5 101.3L551.3 105.9ZM560.6 112.5L563.4 107.9L566.1 112.5ZM549.5 110.8L552.3 106.1L555.0 110.8ZM538.1 111.5L540.9 106.9L543.6 111.5ZM551.3 115.6L554.0 111.0L556.8 115.6ZM557.9 108.4L560.6 103.8L563.4 108.4ZM558.5 103.0L561.2 98.3L564.0 103.0ZM575.1 113.0L577.8 108.4L580.6 113.0ZM542.3 118.7L545.1 114.0L547.8 118.7ZM539.8 104.3L542.5 99.7L545.3 104.3ZM543.0 102.6L545.7 97.9L548.5 102.6ZM552.9 105.1L555.7 100.4L558.4 105.1ZM557.1 117.6L559.8 113.0L562.6 117.6ZM532.9 119.3L535.6 114.6L538.4 119.3ZM570.1 105.8L572.8 101.2L575.6 105.8ZM560.7 106.0L563.5 101.4L566.2 106.0ZM566.8 107.5L569.5 102.9L572.3 107.5ZM571.4 113.7L574.2 109.0L576.9 113.7ZM531.7 102.2L534.5 97.6L537.2 102.2ZM561.9 110.5L564.7 105.8L567.4 110.5ZM573.0 114.8L575.7 110.1L578.5 114.8ZM537.7 112.3L540.4 107.6L543.2 112.3ZM565.1 112.6L567.9 108.0L570.6 112.6ZM571.7 107.0L574.5 102.3L577.2 107.0ZM561.4 112.5L564.1 107.8L566.9 112.5ZM559.9 118.7L562.7 114.0L565.4 118.7ZM566.0 121.0L568.7 116.4L571.5 121.0ZM571.6 108.2L574.4 103.6L577.1 108.2ZM538.1 109.0L540.9 104.4L543.6 109.0ZM546.1 102.5L548.9 97.9L551.6 102.5ZM571.7 121.3L574.5 116.6L577.2 121.3ZM556.3 106.5L559.1 101.8L561.8 106.5ZM565.8 115.9L568.5 111.2L571.3 115.9ZM598.9 114.3L601.6 109.6L604.4 114.3ZM604.6 109.6L607.4 104.9L610.1 109.6ZM606.1 124.3L608.9 119.7L611.6 124.3ZM583.7 93.5L586.4 88.9L589.2 93.5ZM592.4 102.5L595.2 97.8L597.9 102.5ZM605.3 98.6L608.1 94.0L610.8 98.6ZM589.5 106.4L592.2 101.8L595.0 106.4ZM590.8 113.8L593.6 109.1L596.3 113.8ZM595.6 103.4L598.3 98.7L601.1 103.4ZM594.5 109.0L597.2 104.3L600.0 109.0ZM602.3 93.1L605.1 88.4L607.8 93.1ZM593.7 111.3L596.5 106.6L599.2 111.3ZM605.7 120.4L608.4 115.7L611.2 120.4ZM587.8 127.2L590.6 122.6L593.3 127.2ZM587.6 104.6L590.3 100.0L593.1 104.6ZM600.8 121.2L603.6 116.5L606.3 121.2ZM592.1 103.5L594.9 98.8L597.6 103.5ZM601.1 102.6L603.8 97.9L606.6 102.6ZM605.3 127.7L608.0 123.1L610.8 127.7ZM609.3 129.7L612.0 125.1L614.8 129.7ZM588.5 98.5L591.2 93.8L594.0 98.5ZM591.3 101.6L594.1 97.0L596.8 101.6ZM607.6 108.0L610.3 103.4L613.1 108.0ZM591.4 97.8L594.1 93.1L596.9 97.8ZM595.8 93.0L598.5 88.4L601.3 93.0ZM607.4 114.8L610.1 110.2L612.9 114.8ZM593.6 108.4L596.4 103.8L599.1 108.4ZM600.9 97.4L603.7 92.7L606.4 97.4ZM583.0 106.5L585.7 101.8L588.5 106.5ZM595.9 97.2L598.7 92.6L601.4 97.2ZM593.2 93.4L596.0 88.7L598.7 93.4ZM605.9 100.1L608.7 95.5L611.4 100.1ZM594.0 115.0L596.7 110.4L599.5 115.0ZM601.9 130.4L604.6 125.8L607.4 130.4ZM603.9 133.1L606.6 128.4L609.4 133.1ZM589.8 132.3L592.6 127.6L595.3 132.3ZM585.2 113.3L588.0 108.6L590.7 113.3ZM590.7 120.3L593.4 115.7L596.2 120.3ZM595.6 100.5L598.3 95.9L601.1 100.5ZM581.9 107.0L584.7 102.4L587.4 107.0ZM589.3 133.4L592.1 128.7L594.8 133.4ZM593.5 108.3L596.3 103.7L599.0 108.3ZM597.5 109.3L600.2 104.7L603.0 109.3ZM604.5 126.8L607.2 122.2L610.0 126.8ZM606.9 112.7L609.7 108.1L612.4 112.7ZM607.5 113.4L610.2 108.8L613.0 113.4ZM597.1 102.4L599.9 97.8L602.6 102.4ZM600.4 111.6L603.2 107.0L605.9 111.6ZM608.1 127.7L610.9 123.1L613.6 127.7ZM589.6 116.5L592.3 111.8L595.1 116.5ZM607.9 131.6L610.7 127.0L613.4 131.6ZM580.7 115.7L583.4 111.0L586.2 115.7ZM587.0 131.2L589.7 126.5L592.5 131.2ZM601.3 103.7L604.0 99.1L606.8 103.7ZM606.6 117.6L609.4 112.9L612.1 117.6ZM610.9 94.7L613.6 90.1L616.4 94.7ZM609.1 102.0L611.8 97.4L614.6 102.0ZM596.2 124.4L598.9 119.7L601.7 124.4ZM588.3 118.0L591.1 113.3L593.8 118.0ZM599.6 103.9L602.4 99.2L605.1 103.9ZM607.0 114.2L609.7 109.6L612.5 114.2ZM609.7 113.9L612.5 109.2L615.2 113.9ZM578.6 104.5L581.4 99.8L584.1 104.5ZM594.8 102.1L597.5 97.5L600.3 102.1ZM601.2 96.2L603.9 91.6L606.7 96.2ZM604.6 96.4L607.3 91.8L610.1 96.4ZM608.3 118.6L611.0 114.0L613.8 118.6ZM595.8 106.6L598.5 101.9L601.3 106.6ZM588.5 112.5L591.3 107.8L594.0 112.5ZM597.7 118.9L600.4 114.2L603.2 118.9ZM600.9 115.2L603.7 110.5L606.4 115.2ZM578.7 115.4L581.4 110.8L584.2 115.4ZM589.1 117.7L591.8 113.1L594.6 117.7ZM592.9 99.8L595.6 95.1L598.4 99.8ZM594.5 107.7L597.3 103.1L600.0 107.7ZM604.2 121.0L606.9 116.3L609.7 121.0ZM588.7 103.5L591.4 98.9L594.2 103.5ZM584.1 102.6L586.8 98.0L589.6 102.6ZM588.1 107.7L590.8 103.0L593.6 107.7ZM598.5 117.0L601.3 112.3L604.0 117.0ZM603.6 98.7L606.4 94.1L609.1 98.7ZM610.5 98.0L613.2 93.3L616.0 98.0ZM603.6 105.3L606.3 100.6L609.1 105.3ZM601.0 98.4L603.8 93.8L606.5 98.4ZM580.6 102.9L583.3 98.2L586.1 102.9ZM596.5 108.7L599.3 104.1L602.0 108.7ZM596.4 115.7L599.1 111.0L601.9 115.7ZM609.6 134.1L612.3 129.4L615.1 134.1ZM580.9 115.4L583.6 110.8L586.4 115.4ZM596.6 124.8L599.3 120.1L602.1 124.8ZM602.7 115.7L605.5 111.1L608.2 115.7ZM606.1 100.8L608.8 96.1L611.6 100.8ZM584.7 117.7L587.5 113.0L590.2 117.7ZM588.0 138.2L590.8 133.5L593.5 138.2ZM598.3 101.5L601.0 96.8L603.8 101.5ZM605.0 110.0L607.7 105.4L610.5 110.0ZM598.2 100.4L600.9 95.7L603.7 100.4ZM596.0 121.4L598.7 116.8L601.5 121.4ZM581.9 112.9L584.6 108.2L587.4 112.9ZM573.6 116.7L576.3 112.1L579.1 116.7ZM603.9 111.3L606.7 106.6L609.4 111.3ZM610.7 116.1L613.5 111.4L616.2 116.1ZM596.0 113.1L598.8 108.4L601.5 113.1ZM599.8 99.7L602.5 95.1L605.3 99.7ZM604.4 119.6L607.1 115.0L609.9 119.6ZM607.3 101.8L610.1 97.2L612.8 101.8ZM610.6 109.4L613.4 104.8L616.1 109.4ZM586.0 103.1L588.7 98.4L591.5 103.1ZM586.4 107.4L589.1 102.7L591.9 107.4ZM600.8 119.3L603.6 114.7L606.3 119.3ZM581.9 132.0L584.6 127.3L587.4 132.0ZM577.3 106.8L580.1 102.1L582.8 106.8ZM583.7 119.4L586.4 114.8L589.2 119.4ZM580.6 131.5L583.3 126.8L586.1 131.5ZM601.5 110.9L604.3 106.3L607.0 110.9ZM582.8 111.9L585.5 107.3L588.3 111.9ZM597.8 98.2L600.6 93.5L603.3 98.2ZM608.5 109.7L611.3 105.0L614.0 109.7ZM594.9 105.2L597.7 100.5L600.4 105.2ZM594.8 115.9L597.5 111.3L600.3 115.9ZM603.9 139.0L606.6 134.3L609.4 139.0ZM595.7 117.7L598.4 113.1L601.2 117.7ZM608.4 116.5L611.1 111.8L613.9 116.5ZM588.5 97.3L591.3 92.6L594.0 97.3ZM606.8 119.7L609.6 115.1L612.3 119.7ZM586.0 125.8L588.7 121.1L591.5 125.8ZM605.9 120.9L608.6 116.2L611.4 120.9ZM583.4 125.1L586.1 120.4L588.9 125.1ZM605.4 105.7L608.2 101.0L610.9 105.7ZM597.2 123.1L599.9 118.5L602.7 123.1ZM595.1 109.3L597.9 104.7L600.6 109.3ZM598.7 125.2L601.5 120.5L604.2 125.2ZM605.4 126.9L608.1 122.2L610.9 126.9ZM602.2 103.9L605.0 99.3L607.7 103.9ZM589.6 101.5L592.4 96.9L595.1 101.5ZM591.8 114.0L594.5 109.4L597.3 114.0ZM611.1 97.7L613.9 93.1L616.6 97.7ZM599.7 117.9L602.5 113.3L605.2 117.9ZM606.1 142.2L608.9 137.5L611.6 142.2ZM582.9 117.5L585.6 112.8L588.4 117.5ZM580.9 132.9L583.7 128.3L586.4 132.9ZM606.3 95.1L609.1 90.5L611.8 95.1ZM609.5 95.3L612.3 90.6L615.0 95.3ZM593.6 99.2L596.4 94.5L599.1 99.2ZM597.9 126.7L600.7 122.0L603.4 126.7ZM610.5 101.3L613.2 96.7L616.0 101.3ZM599.4 112.1L602.1 107.5L604.9 112.1ZM607.6 126.0L610.4 121.4L613.1 126.0ZM589.9 111.6L592.7 106.9L595.4 111.6ZM595.2 113.0L598.0 108.3L600.7 113.0ZM592.5 128.0L595.2 123.4L598.0 128.0ZM603.0 113.7L605.7 109.1L608.5 113.7ZM585.2 111.3L588.0 106.6L590.7 111.3ZM605.0 106.4L607.7 101.7L610.5 106.4ZM604.9 102.3L607.6 97.7L610.4 102.3ZM594.7 99.7L597.4 95.1L600.2 99.7ZM612.0 106.6L614.8 102.0L617.5 106.6ZM599.3 100.0L602.1 95.4L604.8 100.0ZM596.5 112.1L599.3 107.4L602.0 112.1ZM603.0 106.5L605.7 101.8L608.5 106.5ZM585.5 101.7L588.2 97.0L591.0 101.7ZM610.8 115.9L613.6 111.2L616.3 115.9ZM604.0 108.5L606.7 103.8L609.5 108.5ZM608.1 110.6L610.8 105.9L613.6 110.6ZM587.0 107.0L589.8 102.4L592.5 107.0ZM600.0 100.0L602.8 95.3L605.5 100.0Z" stroke="#222" stroke-width="0.7" fill="none"/>
<path d="M133.2 305.0h4.7M135.5 302.6v4.7M131.3 335.7h4.7M133.7 333.3v4.7M138.6 344.2h4.7M140.9 341.8v4.7M171.8 338.8h4.7M174.2 336.4v4.7M195.8 325.3h4.7M198.2 322.9v4.7M148.0 352.2h4.7M150.3 349.8v4.7M157.6 355.8h4.7M159.9 353.4v4.7M162.3 355.1h4.7M164.7 352.8v4.7M167.8 352.7h4.7M170.2 350.3v4.7M158.8 363.0h4.7M161.1 360.6v4.7M175.2 362.3h4.7M177.5 359.9v4.7M176.8 370.3h4.7M179.1 367.9v4.7M174.3 375.8h4.7M176.7 373.4v4.7M180.3 378.2h4.7M182.7 375.8v4.7M180.8 382.3h4.7M183.2 379.9v4.7M185.7 371.5h4.7M188.0 369.1v4.7M192.5 373.4h4.7M194.8 371.0v4.7M196.1 385.9h4.7M198.4 383.5v4.7M202.1 387.8h4.7M204.4 385.4v4.7M185.7 400.3h4.7M188.0 397.9v4.7M196.1 420.8h4.7M198.4 418.4v4.7M204.5 369.1h4.7M206.8 366.8v4.7M205.7 379.9h4.7M208.0 377.5v4.7M204.5 375.1h4.7M206.8 372.8v4.7M211.7 324.8h4.7M214.0 322.4v4.7M217.7 334.9h4.7M220.0 332.5v4.7M229.1 320.5h4.7M231.4 318.1v4.7M230.2 335.7h4.7M232.5 333.3v4.7M281.2 319.7h4.7M283.6 317.3v4.7M210.8 366.1h4.7M213.2 363.8v4.7M204.6 339.0h4.7M206.9 336.7v4.7M200.1 338.2h4.7M202.4 335.8v4.7M199.2 360.5h4.7M201.6 358.2v4.7M187.0 352.8h4.7M189.4 350.4v4.7M199.0 364.3h4.7M201.3 362.0v4.7M235.0 348.4h4.7M237.4 346.0v4.7M233.8 394.4h4.7M236.2 392.0v4.7M234.2 382.3h4.7M236.6 379.9v4.7M223.7 375.5h4.7M226.1 373.1v4.7M233.1 367.6h4.7M235.5 365.3v4.7M235.0 368.4h4.7M237.4 366.0v4.7M239.3 344.8h4.7M241.7 342.5v4.7M212.9 357.1h4.7M215.2 354.8v4.7M217.8 396.4h4.7M220.1 394.0v4.7M222.2 355.7h4.7M224.5 353.4v4.7M226.7 343.0h4.7M229.1 340.6v4.7M228.7 361.5h4.7M231.0 359.2v4.7M244.4 395.3h4.7M246.8 392.9v4.7M246.3 396.3h4.7M248.6 393.9v4.7M248.5 342.0h4.7M250.9 339.7v4.7M216.1 353.7h4.7M218.4 351.4v4.7M215.7 391.4h4.7M218.0 389.0v4.7M242.7 364.6h4.7M245.1 362.2v4.7M244.7 373.9h4.7M247.1 371.6v4.7M230.8 384.8h4.7M233.2 382.5v4.7M219.9 393.8h4.7M222.3 391.4v4.7M232.4 347.5h4.7M234.7 345.1v4.7M241.6 351.4h4.7M244.0 349.1v4.7M242.8 368.3h4.7M245.1 366.0v4.7M215.5 358.5h4.7M217.8 356.1v4.7M226.1 369.0h4.7M228.5 366.6v4.7M237.8 359.6h4.7M240.2 357.2v4.7M250.0 383.6h4.7M252.3 381.3v4.7M257.4 384.9h4.7M259.7 382.6v4.7M215.9 345.4h4.7M218.3 343.0v4.7M220.4 372.0h4.7M222.8 369.7v4.7M229.0 368.4h4.7M231.3 366.0v4.7M254.3 360.6h4.7M256.6 358.2v4.7M224.4 400.9h4.7M226.8 398.6v4.7M231.8 373.1h4.7M234.1 370.8v4.7M220.9 375.8h4.7M223.3 373.5v4.7M229.6 365.3h4.7M232.0 362.9v4.7M234.9 357.3h4.7M237.2 354.9v4.7M241.1 389.1h4.7M243.5 386.7v4.7M242.9 377.7h4.7M245.3 375.3v4.7M253.1 369.9h4.7M255.4 367.5v4.7M227.1 349.8h4.7M229.5 347.5v4.7M235.0 379.4h4.7M237.4 377.0v4.7M217.2 371.6h4.7M219.6 369.2v4.7M225.3 355.5h4.7M227.7 353.2v4.7M230.7 362.4h4.7M233.0 360.0v4.7M224.1 380.4h4.7M226.4 378.1v4.7M226.3 364.9h4.7M228.7 362.5v4.7M236.5 342.6h4.7M238.8 340.3v4.7M241.3 365.3h4.7M243.6 363.0v4.7M240.5 383.5h4.7M242.9 381.2v4.7M256.3 397.2h4.7M258.7 394.8v4.7M216.0 392.6h4.7M218.3 390.3v4.7M215.4 375.4h4.7M217.7 373.0v4.7M254.5 372.3h4.7M256.8 369.9v4.7M217.9 333.4h4.7M220.2 331.0v4.7M239.7 370.3h4.7M242.0 367.9v4.7M244.0 356.0h4.7M246.3 353.7v4.7M249.9 386.6h4.7M252.3 384.2v4.7M229.0 353.2h4.7M231.3 350.9v4.7M253.5 342.9h4.7M255.8 340.5v4.7M215.0 375.0h4.7M217.4 372.7v4.7M244.5 380.1h4.7M246.9 377.8v4.7M218.9 365.6h4.7M221.2 363.3v4.7M248.6 350.1h4.7M250.9 347.8v4.7M256.4 404.8h4.7M258.8 402.5v4.7M259.3 371.1h4.7M261.6 368.8v4.7M221.7 355.2h4.7M224.1 352.9v4.7M248.5 372.8h4.7M250.9 370.5v4.7M255.6 355.2h4.7M257.9 352.9v4.7M257.0 368.9h4.7M259.3 366.5v4.7M216.4 361.5h4.7M218.8 359.1v4.7M243.4 349.4h4.7M245.7 347.0v4.7M255.1 378.1h4.7M257.4 375.8v4.7M225.2 386.4h4.7M227.5 384.0v4.7M228.6 356.1h4.7M230.9 353.7v4.7M242.5 382.7h4.7M244.9 380.3v4.7M248.6 371.9h4.7M250.9 369.6v4.7M255.5 345.1h4.7M257.9 342.8v4.7M220.7 382.0h4.7M223.0 379.6v4.7M230.4 360.6h4.7M232.8 358.2v4.7M256.8 336.0h4.7M259.2 333.7v4.7M236.0 408.6h4.7M238.4 406.3v4.7M239.5 364.0h4.7M241.8 361.6v4.7M244.9 389.7h4.7M247.3 387.3v4.7M247.4 355.8h4.7M249.8 353.5v4.7M281.5 370.9h4.7M283.9 368.5v4.7M288.9 392.6h4.7M291.2 390.2v4.7M290.0 342.3h4.7M292.4 339.9v4.7M267.0 373.4h4.7M269.3 371.1v4.7M275.3 342.9h4.7M277.6 340.6v4.7M289.3 402.9h4.7M291.6 400.5v4.7M272.8 401.5h4.7M275.1 399.1v4.7M275.1 383.5h4.7M277.5 381.2v4.7M279.0 370.1h4.7M281.4 367.8v4.7M278.2 408.2h4.7M280.6 405.8v4.7M285.3 389.1h4.7M287.6 386.8v4.7M287.2 382.4h4.7M289.6 380.1v4.7M276.6 399.0h4.7M278.9 396.7v4.7M277.6 385.1h4.7M280.0 382.7v4.7M280.7 356.4h4.7M283.0 354.1v4.7M271.1 366.7h4.7M273.5 364.3v4.7M270.6 396.6h4.7M272.9 394.3v4.7M285.1 396.3h4.7M287.4 394.0v4.7M277.6 380.5h4.7M280.0 378.2v4.7M285.3 336.8h4.7M287.7 334.4v4.7M289.6 363.3h4.7M291.9 361.0v4.7M291.7 376.8h4.7M294.1 374.4v4.7M273.5 339.2h4.7M275.9 336.9v4.7M275.7 354.4h4.7M278.1 352.0v4.7M291.6 379.9h4.7M294.0 377.6v4.7M275.8 406.9h4.7M278.1 404.6v4.7M268.9 372.9h4.7M271.3 370.5v4.7M278.8 339.9h4.7M281.1 337.5v4.7M289.5 381.2h4.7M291.9 378.9v4.7M278.3 385.6h4.7M280.6 383.2v4.7M284.2 404.1h4.7M286.5 401.8v4.7M267.1 380.1h4.7M269.5 377.7v4.7M280.2 407.0h4.7M282.5 404.6v4.7M275.6 406.8h4.7M278.0 404.5v4.7M289.7 359.1h4.7M292.1 356.7v4.7M293.3 395.9h4.7M295.7 393.5v4.7M275.8 373.2h4.7M278.2 370.8v4.7M285.0 372.8h4.7M287.3 370.5v4.7M287.8 392.5h4.7M290.2 390.1v4.7M274.7 395.4h4.7M277.0 393.0v4.7M289.9 398.3h4.7M292.3 395.9v4.7M270.2 337.0h4.7M272.5 334.7v4.7M274.4 369.3h4.7M276.8 366.9v4.7M279.5 390.9h4.7M281.8 388.6v4.7M264.2 386.0h4.7M266.6 383.6v4.7M272.0 377.8h4.7M274.4 375.5v4.7M276.1 353.3h4.7M278.4 351.0v4.7M282.3 370.1h4.7M284.6 367.7v4.7M285.9 394.9h4.7M288.2 392.5v4.7M290.1 410.7h4.7M292.4 408.3v4.7M291.6 382.1h4.7M294.0 379.7v4.7M281.6 388.0h4.7M284.0 385.7v4.7M282.7 398.1h4.7M285.1 395.8v4.7M290.6 370.8h4.7M292.9 368.5v4.7M271.5 365.4h4.7M273.8 363.0v4.7M270.4 363.8h4.7M272.8 361.5v4.7M288.9 399.7h4.7M291.3 397.3v4.7M265.2 398.9h4.7M267.5 396.6v4.7M269.5 372.5h4.7M271.9 370.1v4.7M285.4 354.5h4.7M287.8 352.1v4.7M290.2 361.6h4.7M292.5 359.2v4.7M291.8 365.0h4.7M294.2 362.7v4.7M281.0 426.0h4.7M283.3 423.7v4.7M272.1 337.8h4.7M274.4 335.4v4.7M282.8 395.6h4.7M285.2 393.3v4.7M290.0 384.3h4.7M292.4 382.0v4.7M292.7 367.9h4.7M295.1 365.6v4.7M261.9 376.8h4.7M264.2 374.5v4.7M279.5 379.6h4.7M281.9 377.3v4.7M263.2 363.7h4.7M265.6 361.3v4.7M284.6 376.3h4.7M286.9 373.9v4.7M288.4 365.6h4.7M290.7 363.3v4.7M291.9 380.7h4.7M294.2 378.3v4.7M279.5 373.5h4.7M281.9 371.1v4.7M272.4 369.3h4.7M274.8 367.0v4.7M281.3 363.3h4.7M283.7 360.9v4.7M283.8 385.4h4.7M286.2 383.0v4.7M262.4 336.8h4.7M264.7 334.5v4.7M273.2 375.5h4.7M275.5 373.2v4.7M276.0 357.2h4.7M278.4 354.9v4.7M278.0 389.7h4.7M280.3 387.3v4.7M286.0 351.5h4.7M288.3 349.2v4.7M270.6 400.0h4.7M272.9 397.6v4.7M267.2 345.5h4.7M269.6 343.1v4.7M270.6 382.4h4.7M272.9 380.1v4.7M281.6 369.7h4.7M283.9 367.4v4.7M289.4 358.1h4.7M291.8 355.8v4.7M292.8 372.2h4.7M295.2 369.8v4.7M287.1 362.2h4.7M289.4 359.9v4.7M285.1 392.2h4.7M287.4 389.9v4.7M266.9 348.9h4.7M269.2 346.6v4.7M262.6 396.0h4.7M265.0 393.6v4.7M279.7 380.6h4.7M282.0 378.2v4.7M281.7 355.4h4.7M284.1 353.0v4.7M293.1 381.9h4.7M295.5 379.6v4.7M263.5 402.3h4.7M265.9 400.0v4.7M280.6 348.7h4.7M282.9 346.4v4.7M286.9 343.5h4.7M289.3 341.2v4.7M289.9 369.5h4.7M292.2 367.2v4.7M269.6 342.9h4.7M271.9 340.6v4.7M271.1 382.2h4.7M273.5 379.8v4.7M282.4 371.4h4.7M284.8 369.1v4.7M288.5 372.7h4.7M290.9 370.4v4.7M281.9 392.8h4.7M284.3 390.4v4.7M281.4 370.7h4.7M283.8 368.3v4.7M268.5 406.2h4.7M270.9 403.8v4.7M266.9 365.0h4.7M269.2 362.6v4.7M257.5 347.9h4.7M259.8 345.5v4.7M287.0 358.6h4.7M289.3 356.3v4.7M293.9 358.7h4.7M296.3 356.3v4.7M258.0 377.6h4.7M260.3 375.3v4.7M278.3 396.6h4.7M280.7 394.3v4.7M283.2 374.6h4.7M285.5 372.3v4.7M287.4 406.7h4.7M289.7 404.4v4.7M289.5 359.1h4.7M291.9 356.7v4.7M294.2 404.3h4.7M296.5 402.0v4.7M262.4 373.5h4.7M264.8 371.1v4.7M269.6 414.3h4.7M271.9 411.9v4.7M270.2 401.7h4.7M272.5 399.4v4.7M284.2 361.7h4.7M286.5 359.3v4.7M264.5 392.8h4.7M266.8 390.5v4.7M260.8 366.3h4.7M263.2 364.0v4.7M266.8 353.9h4.7M269.1 351.5v4.7M263.9 378.6h4.7M266.2 376.2v4.7M284.6 363.7h4.7M287.0 361.4v4.7M266.6 354.8h4.7M269.0 352.4v4.7M265.5 388.7h4.7M267.9 386.3v4.7M281.3 357.2h4.7M283.7 354.8v4.7M291.7 359.0h4.7M294.1 356.7v4.7M290.2 408.2h4.7M292.5 405.8v4.7M272.0 360.8h4.7M274.3 358.5v4.7M275.0 359.5h4.7M277.3 357.2v4.7M291.3 380.6h4.7M293.6 378.3v4.7M277.4 389.2h4.7M279.7 386.9v4.7M287.6 386.3h4.7M290.0 384.0v4.7M269.3 352.9h4.7M271.7 350.6v4.7M272.5 380.4h4.7M274.8 378.0v4.7M289.6 369.6h4.7M291.9 367.2v4.7M271.0 352.1h4.7M273.3 349.8v4.7M292.1 380.9h4.7M294.5 378.5v4.7M271.4 378.9h4.7M273.7 376.5v4.7M286.3 408.3h4.7M288.7 406.0v4.7M283.1 350.0h4.7M285.5 347.7v4.7M279.1 353.7h4.7M281.5 351.3v4.7M289.9 334.7h4.7M292.3 332.4v4.7M279.6 359.0h4.7M281.9 356.7v4.7M291.8 386.8h4.7M294.2 384.4v4.7M292.1 357.3h4.7M294.4 354.9v4.7M274.0 403.1h4.7M276.4 400.8v4.7M270.8 373.8h4.7M273.1 371.5v4.7M284.1 354.6h4.7M286.5 352.2v4.7M288.6 392.4h4.7M291.0 390.0v4.7M281.4 391.5h4.7M283.7 389.1v4.7M288.6 407.9h4.7M291.0 405.6v4.7M270.4 403.6h4.7M272.7 401.3v4.7M270.3 370.3h4.7M272.7 367.9v4.7M289.1 382.8h4.7M291.5 380.5v4.7M293.1 368.9h4.7M295.4 366.5v4.7M270.3 400.2h4.7M272.6 397.9v4.7M287.9 402.8h4.7M290.2 400.4v4.7M293.8 383.3h4.7M296.2 380.9v4.7M279.3 421.2h4.7M281.7 418.8v4.7M286.1 366.2h4.7M288.5 363.8v4.7M267.5 390.1h4.7M269.8 387.7v4.7M285.3 372.2h4.7M287.6 369.9v4.7M276.9 413.0h4.7M279.2 410.7v4.7M280.8 400.5h4.7M283.2 398.1v4.7M272.2 397.0h4.7M274.6 394.7v4.7M285.9 366.3h4.7M288.3 364.0v4.7M284.8 388.7h4.7M287.2 386.3v4.7M281.5 408.6h4.7M283.9 406.2v4.7M294.2 359.8h4.7M296.6 357.5v4.7M289.0 380.6h4.7M291.4 378.2v4.7M264.5 385.8h4.7M266.9 383.4v4.7M281.8 362.4h4.7M284.2 360.0v4.7M278.8 389.8h4.7M281.1 387.4v4.7M271.2 350.4h4.7M273.6 348.0v4.7M291.0 404.0h4.7M293.3 401.6v4.7M277.8 395.1h4.7M280.1 392.8v4.7M292.1 394.9h4.7M294.5 392.6v4.7M269.4 382.9h4.7M271.8 380.5v4.7M282.3 359.6h4.7M284.7 357.3v4.7" stroke="#6ae86a" stroke-width="0.78" fill="none"/>
<path d="M133.5 280.6h4.7M135.8 278.2v4.7M131.7 323.4h4.7M134.0 321.0v4.7M138.6 350.2h4.7M140.9 347.8v4.7M171.8 319.5h4.7M174.2 317.1v4.7M162.8 331.0h4.7M165.1 328.6v4.7M158.8 344.2h4.7M161.1 341.8v4.7M195.3 313.0h4.7M197.7 310.6v4.7M186.0 330.7h4.7M188.3 328.3v4.7M202.2 330.3h4.7M204.5 327.9v4.7M194.6 334.3h4.7M196.9 331.9v4.7M148.7 376.3h4.7M151.0 373.9v4.7M177.6 366.2h4.7M179.9 363.8v4.7M176.8 371.0h4.7M179.1 368.6v4.7M187.7 366.2h4.7M190.0 363.8v4.7M192.5 383.5h4.7M194.8 381.1v4.7M200.8 389.5h4.7M203.2 387.1v4.7M185.7 402.7h4.7M188.0 400.3v4.7M199.7 370.3h4.7M202.0 367.9v4.7M210.5 381.1h4.7M212.8 378.8v4.7M197.2 375.1h4.7M199.6 372.8v4.7M219.0 312.4h4.7M221.3 310.0v4.7M211.2 330.1h4.7M213.5 327.8v4.7M217.0 330.9h4.7M219.3 328.5v4.7M230.2 326.9h4.7M232.5 324.5v4.7M243.1 339.7h4.7M245.4 337.3v4.7M198.3 345.8h4.7M200.6 343.4v4.7M205.6 366.4h4.7M208.0 364.1v4.7M199.3 372.3h4.7M201.6 369.9v4.7M207.8 358.8h4.7M210.2 356.4v4.7M189.5 347.3h4.7M191.9 345.0v4.7M194.0 344.7h4.7M196.4 342.3v4.7M235.9 365.5h4.7M238.2 363.1v4.7M232.8 372.9h4.7M235.2 370.6v4.7M234.2 382.6h4.7M236.5 380.3v4.7M224.2 363.4h4.7M226.6 361.0v4.7M233.0 383.2h4.7M235.4 380.8v4.7M235.9 383.5h4.7M238.3 381.1v4.7M238.9 393.7h4.7M241.3 391.4v4.7M212.4 340.1h4.7M214.7 337.8v4.7M217.7 355.4h4.7M220.0 353.1v4.7M222.0 361.3h4.7M224.4 358.9v4.7M227.1 352.8h4.7M229.5 350.5v4.7M229.5 381.7h4.7M231.8 379.4v4.7M242.6 371.9h4.7M244.9 369.6v4.7M246.0 390.6h4.7M248.3 388.2v4.7M248.6 379.1h4.7M250.9 376.7v4.7M216.7 341.6h4.7M219.0 339.2v4.7M216.1 348.4h4.7M218.4 346.0v4.7M235.8 346.7h4.7M238.1 344.3v4.7M242.2 347.5h4.7M244.5 345.1v4.7M244.7 365.4h4.7M247.1 363.1v4.7M231.3 374.9h4.7M233.6 372.6v4.7M232.1 348.8h4.7M234.4 346.4v4.7M241.8 367.8h4.7M244.1 365.5v4.7M243.2 362.7h4.7M245.6 360.3v4.7M215.6 406.2h4.7M218.0 403.8v4.7M225.6 398.9h4.7M228.0 396.6v4.7M237.3 357.2h4.7M239.6 354.8v4.7M249.3 354.8h4.7M251.6 352.5v4.7M257.1 400.2h4.7M259.4 397.8v4.7M217.3 372.9h4.7M219.7 370.6v4.7M219.9 390.1h4.7M222.3 387.8v4.7M228.9 399.3h4.7M231.2 397.0v4.7M243.0 382.1h4.7M245.4 379.7v4.7M255.0 395.3h4.7M257.4 392.9v4.7M223.8 382.6h4.7M226.2 380.3v4.7M231.7 381.8h4.7M234.1 379.5v4.7M221.3 358.3h4.7M223.6 355.9v4.7M230.2 353.8h4.7M232.5 351.5v4.7M234.4 367.6h4.7M236.7 365.2v4.7M240.6 369.9h4.7M243.0 367.5v4.7M243.1 384.7h4.7M245.4 382.3v4.7M253.3 392.0h4.7M255.7 389.7v4.7M258.7 382.0h4.7M261.1 379.7v4.7M226.7 397.4h4.7M229.0 395.1v4.7M235.4 373.2h4.7M237.8 370.9v4.7M217.3 375.2h4.7M219.6 372.9v4.7M225.3 364.0h4.7M227.7 361.7v4.7M230.5 390.2h4.7M232.9 387.8v4.7M227.0 364.2h4.7M229.4 361.8v4.7M236.4 376.9h4.7M238.7 374.5v4.7M241.2 387.9h4.7M243.6 385.5v4.7M240.6 363.0h4.7M243.0 360.7v4.7M256.0 366.8h4.7M258.4 364.5v4.7M215.5 379.2h4.7M217.8 376.8v4.7M216.3 364.7h4.7M218.6 362.4v4.7M253.7 377.6h4.7M256.0 375.2v4.7M217.5 350.4h4.7M219.8 348.1v4.7M239.3 379.2h4.7M241.6 376.8v4.7M243.4 364.6h4.7M245.8 362.3v4.7M250.0 347.4h4.7M252.4 345.1v4.7M228.6 371.2h4.7M230.9 368.8v4.7M253.9 378.9h4.7M256.2 376.5v4.7M215.4 363.5h4.7M217.7 361.2v4.7M245.3 352.7h4.7M247.7 350.3v4.7M219.1 375.4h4.7M221.4 373.0v4.7M249.3 375.0h4.7M251.7 372.6v4.7M255.8 381.2h4.7M258.1 378.9v4.7M258.4 383.7h4.7M260.7 381.3v4.7M221.4 388.7h4.7M223.7 386.4v4.7M248.8 386.1h4.7M251.2 383.8v4.7M255.8 364.6h4.7M258.2 362.3v4.7M258.6 342.9h4.7M261.0 340.5v4.7M216.8 356.5h4.7M219.2 354.1v4.7M243.0 391.4h4.7M245.3 389.0v4.7M254.6 367.5h4.7M257.0 365.1v4.7M225.3 349.5h4.7M227.6 347.2v4.7M229.3 349.9h4.7M231.7 347.6v4.7M242.3 370.0h4.7M244.7 367.7v4.7M249.1 383.9h4.7M251.5 381.5v4.7M254.9 402.2h4.7M257.2 399.9v4.7M220.5 361.8h4.7M222.9 359.4v4.7M229.8 383.3h4.7M232.1 380.9v4.7M256.2 332.8h4.7M258.6 330.5v4.7M237.1 361.4h4.7M239.4 359.0v4.7M239.9 381.1h4.7M242.3 378.7v4.7M245.8 350.1h4.7M248.2 347.8v4.7M247.7 416.3h4.7M250.1 413.9v4.7M282.2 365.0h4.7M284.5 362.6v4.7M288.7 357.5h4.7M291.1 355.2v4.7M290.2 377.5h4.7M292.6 375.1v4.7M267.5 374.7h4.7M269.8 372.3v4.7M275.9 357.3h4.7M278.2 355.0v4.7M289.7 380.0h4.7M292.0 377.7v4.7M273.3 364.4h4.7M275.6 362.1v4.7M274.6 397.5h4.7M277.0 395.2v4.7M278.9 347.8h4.7M281.3 345.5v4.7M279.0 399.2h4.7M281.3 396.9v4.7M284.1 359.6h4.7M286.5 357.3v4.7M288.1 346.9h4.7M290.5 344.6v4.7M277.6 373.1h4.7M280.0 370.7v4.7M278.2 334.0h4.7M280.5 331.6v4.7M280.3 346.8h4.7M282.6 344.4v4.7M289.2 344.5h4.7M291.6 342.1v4.7M272.3 344.5h4.7M274.6 342.1v4.7M270.4 361.3h4.7M272.8 358.9v4.7M284.6 349.0h4.7M287.0 346.6v4.7M276.1 403.2h4.7M278.5 400.8v4.7M284.8 385.7h4.7M287.2 383.4v4.7M287.8 358.6h4.7M290.2 356.2v4.7M291.8 362.8h4.7M294.2 360.4v4.7M274.2 408.8h4.7M276.5 406.4v4.7M275.7 391.1h4.7M278.0 388.7v4.7M291.4 359.2h4.7M293.7 356.8v4.7M276.0 362.3h4.7M278.3 359.9v4.7M269.8 335.5h4.7M272.2 333.2v4.7M279.3 382.1h4.7M281.7 379.7v4.7M289.6 396.5h4.7M291.9 394.2v4.7M277.8 375.3h4.7M280.2 372.9v4.7M285.0 411.4h4.7M287.4 409.0v4.7M267.1 367.5h4.7M269.5 365.2v4.7M280.0 375.8h4.7M282.4 373.4v4.7M276.0 380.8h4.7M278.3 378.5v4.7M289.8 369.5h4.7M292.1 367.2v4.7M293.1 350.1h4.7M295.5 347.7v4.7M275.7 408.2h4.7M278.1 405.8v4.7M284.4 365.5h4.7M286.8 363.2v4.7M288.2 362.0h4.7M290.5 359.7v4.7M273.7 370.2h4.7M276.1 367.9v4.7M289.9 362.6h4.7M292.2 360.2v4.7M269.3 372.0h4.7M271.6 369.7v4.7M274.3 345.5h4.7M276.7 343.1v4.7M279.5 339.2h4.7M281.9 336.8v4.7M264.0 388.9h4.7M266.3 386.5v4.7M271.8 371.6h4.7M274.1 369.2v4.7M276.2 344.6h4.7M278.5 342.3v4.7M282.6 360.4h4.7M285.0 358.1v4.7M286.2 380.7h4.7M288.5 378.3v4.7M289.6 345.1h4.7M291.9 342.7v4.7M292.4 403.6h4.7M294.8 401.2v4.7M280.3 351.2h4.7M282.7 348.9v4.7M283.2 378.0h4.7M285.5 375.7v4.7M290.1 376.1h4.7M292.5 373.7v4.7M272.5 389.4h4.7M274.9 387.0v4.7M270.5 385.3h4.7M272.8 383.0v4.7M288.6 383.8h4.7M290.9 381.4v4.7M264.4 367.3h4.7M266.7 364.9v4.7M268.6 353.2h4.7M270.9 350.9v4.7M285.6 397.7h4.7M288.0 395.3v4.7M290.2 384.5h4.7M292.6 382.1v4.7M293.7 403.0h4.7M296.1 400.6v4.7M291.5 365.4h4.7M293.9 363.0v4.7M281.9 400.0h4.7M284.3 397.7v4.7M271.9 369.6h4.7M274.3 367.2v4.7M290.7 349.0h4.7M293.1 346.6v4.7M282.6 344.7h4.7M285.0 342.3v4.7M289.5 370.1h4.7M291.8 367.7v4.7M292.7 391.7h4.7M295.0 389.4v4.7M262.5 384.5h4.7M264.9 382.2v4.7M279.6 392.5h4.7M282.0 390.1v4.7M263.6 368.2h4.7M266.0 365.9v4.7M284.2 339.1h4.7M286.5 336.7v4.7M287.5 397.5h4.7M289.8 395.1v4.7M291.6 365.1h4.7M294.0 362.8v4.7M278.6 378.5h4.7M281.0 376.2v4.7M272.6 359.0h4.7M274.9 356.6v4.7M281.4 357.0h4.7M283.8 354.6v4.7M283.6 373.5h4.7M286.0 371.2v4.7M262.4 341.7h4.7M264.7 339.4v4.7M272.4 367.7h4.7M274.8 365.4v4.7M276.6 353.9h4.7M278.9 351.6v4.7M278.1 396.7h4.7M280.4 394.3v4.7M285.6 386.1h4.7M288.0 383.7v4.7M271.3 382.8h4.7M273.6 380.5v4.7M267.5 350.5h4.7M269.9 348.1v4.7M270.4 356.2h4.7M272.7 353.8v4.7M281.8 354.8h4.7M284.2 352.4v4.7M288.9 378.7h4.7M291.3 376.4v4.7M292.3 347.5h4.7M294.7 345.1v4.7M287.1 365.8h4.7M289.5 363.4v4.7M285.5 366.0h4.7M287.8 363.6v4.7M266.4 378.0h4.7M268.7 375.6v4.7M262.3 345.9h4.7M264.7 343.5v4.7M280.1 365.5h4.7M282.4 363.2v4.7M281.3 366.4h4.7M283.6 364.0v4.7M292.6 408.0h4.7M294.9 405.6v4.7M263.2 370.2h4.7M265.6 367.9v4.7M280.0 418.6h4.7M282.3 416.2v4.7M286.6 371.4h4.7M289.0 369.0v4.7M290.0 377.5h4.7M292.3 375.1v4.7M269.6 385.3h4.7M271.9 382.9v4.7M271.8 359.9h4.7M274.1 357.6v4.7M282.1 354.2h4.7M284.5 351.9v4.7M288.9 376.3h4.7M291.2 374.0v4.7M282.2 377.3h4.7M284.6 374.9v4.7M280.9 371.6h4.7M283.2 369.2v4.7M269.0 369.2h4.7M271.3 366.8v4.7M267.2 367.6h4.7M269.5 365.2v4.7M257.2 403.7h4.7M259.6 401.3v4.7M287.3 378.8h4.7M289.7 376.5v4.7M294.2 394.8h4.7M296.5 392.5v4.7M257.1 358.5h4.7M259.5 356.1v4.7M278.6 383.7h4.7M280.9 381.3v4.7M283.3 384.2h4.7M285.6 381.9v4.7M288.0 341.6h4.7M290.4 339.2v4.7M289.3 387.9h4.7M291.6 385.5v4.7M294.4 384.5h4.7M296.7 382.2v4.7M262.6 376.5h4.7M264.9 374.1v4.7M269.4 375.9h4.7M271.7 373.6v4.7M269.7 389.1h4.7M272.0 386.8v4.7M284.4 377.1h4.7M286.7 374.8v4.7M264.9 363.6h4.7M267.3 361.3v4.7M259.9 372.4h4.7M262.3 370.0v4.7M266.7 407.2h4.7M269.0 404.8v4.7M262.6 387.7h4.7M265.0 385.3v4.7M283.9 355.8h4.7M286.2 353.5v4.7M266.7 371.8h4.7M269.0 369.5v4.7M265.9 394.0h4.7M268.3 391.7v4.7M281.2 358.9h4.7M283.6 356.5v4.7M292.0 396.5h4.7M294.3 394.1v4.7M290.7 375.9h4.7M293.0 373.6v4.7M271.3 373.3h4.7M273.6 370.9v4.7M274.4 410.3h4.7M276.8 407.9v4.7M291.4 365.8h4.7M293.7 363.5v4.7M276.8 375.6h4.7M279.1 373.3v4.7M287.5 361.9h4.7M289.9 359.6v4.7M269.0 355.6h4.7M271.3 353.3v4.7M272.9 368.1h4.7M275.2 365.8v4.7M290.2 369.3h4.7M292.6 367.0v4.7M270.1 385.0h4.7M272.4 382.6v4.7M292.2 337.0h4.7M294.5 334.6v4.7M270.9 361.3h4.7M273.3 359.0v4.7M286.3 367.1h4.7M288.7 364.7v4.7M282.7 387.7h4.7M285.0 385.3v4.7M279.0 382.4h4.7M281.3 380.0v4.7M289.9 407.0h4.7M292.3 404.7v4.7M280.6 399.4h4.7M282.9 397.0v4.7M291.2 380.4h4.7M293.5 378.0v4.7M291.5 352.5h4.7M293.9 350.2v4.7M273.8 352.6h4.7M276.2 350.3v4.7M271.6 384.5h4.7M273.9 382.1v4.7M283.6 358.9h4.7M285.9 356.6v4.7M287.6 359.9h4.7M290.0 357.6v4.7M281.3 405.0h4.7M283.7 402.6v4.7M289.9 353.2h4.7M292.2 350.9v4.7M270.5 348.7h4.7M272.9 346.3v4.7M288.9 370.0h4.7M291.2 367.6v4.7M292.4 376.9h4.7M294.8 374.6v4.7M270.6 393.9h4.7M272.9 391.6v4.7M286.9 378.7h4.7M289.3 376.3v4.7M294.2 403.9h4.7M296.6 401.6v4.7M280.0 387.8h4.7M282.3 385.4v4.7M286.2 412.8h4.7M288.5 410.4v4.7M268.3 378.9h4.7M270.7 376.6v4.7M285.0 347.8h4.7M287.4 345.4v4.7M276.8 383.9h4.7M279.2 381.5v4.7M280.1 373.0h4.7M282.4 370.6v4.7M272.1 380.7h4.7M274.5 378.4v4.7M287.0 375.2h4.7M289.3 372.9v4.7M285.5 337.9h4.7M287.9 335.5v4.7M282.2 337.5h4.7M284.6 335.1v4.7M294.8 401.0h4.7M297.2 398.6v4.7M288.0 378.8h4.7M290.4 376.4v4.7M282.9 391.8h4.7M285.2 389.4v4.7M279.3 346.7h4.7M281.6 344.3v4.7M271.7 377.2h4.7M274.1 374.9v4.7M291.0 353.2h4.7M293.4 350.8v4.7M276.6 367.1h4.7M278.9 364.8v4.7M292.7 373.4h4.7M295.1 371.1v4.7M269.4 355.7h4.7M271.7 353.3v4.7M281.0 366.9h4.7M283.3 364.5v4.7" stroke="#ff7070" stroke-width="0.78" fill="none"/>
<path d="M133.2 280.1h4.7M135.5 277.8v4.7M131.3 323.1h4.7M133.7 320.8v4.7M138.6 337.0h4.7M140.9 334.6v4.7M148.5 349.7h4.7M150.8 347.3v4.7M175.5 321.6h4.7M177.8 319.2v4.7M162.8 334.3h4.7M165.1 331.9v4.7M159.7 336.1h4.7M162.0 333.8v4.7M171.8 331.0h4.7M174.2 328.6v4.7M175.1 341.2h4.7M177.4 338.8v4.7M203.7 310.8h4.7M206.0 308.4v4.7M192.2 315.3h4.7M194.6 312.9v4.7M195.8 316.2h4.7M198.2 313.8v4.7M195.0 319.8h4.7M197.3 317.4v4.7M191.3 329.8h4.7M193.7 327.4v4.7M188.7 337.9h4.7M191.0 335.5v4.7M192.2 340.1h4.7M194.6 337.8v4.7M148.0 350.2h4.7M150.3 347.8v4.7M157.6 359.0h4.7M159.9 356.6v4.7M167.8 361.8h4.7M170.2 359.4v4.7M184.1 360.6h4.7M186.4 358.2v4.7M180.3 368.6h4.7M182.7 366.2v4.7M177.6 376.3h4.7M179.9 373.9v4.7M197.2 382.3h4.7M199.6 379.9v4.7M185.7 393.1h4.7M188.0 390.8v4.7M180.8 403.2h4.7M183.2 400.8v4.7M199.7 367.9h4.7M202.0 365.5v4.7M208.1 358.2h4.7M210.4 355.8v4.7M202.1 378.7h4.7M204.4 376.3v4.7M185.2 353.4h4.7M187.6 351.0v4.7M215.7 308.1h4.7M218.0 305.8v4.7M218.1 316.1h4.7M220.4 313.8v4.7M210.8 321.6h4.7M213.2 319.2v4.7M215.7 326.9h4.7M218.0 324.5v4.7M211.2 333.3h4.7M213.5 330.9v4.7M234.2 328.0h4.7M236.5 325.6v4.7M227.0 332.5h4.7M229.3 330.1v4.7M233.3 335.7h4.7M235.7 333.3v4.7M242.7 311.9h4.7M245.0 309.5v4.7M251.1 314.8h4.7M253.4 312.4v4.7M251.8 320.5h4.7M254.2 318.1v4.7M262.6 314.0h4.7M265.0 311.6v4.7M281.5 321.3h4.7M283.9 318.9v4.7M198.3 376.8h4.7M200.6 374.4v4.7M200.6 370.3h4.7M203.0 367.9v4.7M209.8 340.8h4.7M212.1 338.5v4.7M194.9 363.9h4.7M197.3 361.6v4.7M204.8 358.4h4.7M207.2 356.1v4.7M210.5 375.6h4.7M212.8 373.2v4.7M234.3 365.3h4.7M236.7 362.9v4.7M232.9 336.4h4.7M235.3 334.0v4.7M234.6 359.0h4.7M237.0 356.7v4.7M224.2 346.0h4.7M226.6 343.6v4.7M233.6 344.9h4.7M236.0 342.6v4.7M236.4 340.5h4.7M238.7 338.2v4.7M239.1 378.0h4.7M241.5 375.7v4.7M212.5 384.3h4.7M214.9 382.0v4.7M218.2 361.6h4.7M220.6 359.2v4.7M222.3 372.3h4.7M224.7 370.0v4.7M226.5 373.2h4.7M228.9 370.8v4.7M229.1 381.6h4.7M231.4 379.3v4.7M243.2 389.4h4.7M245.6 387.1v4.7M246.3 361.9h4.7M248.7 359.5v4.7M248.7 379.5h4.7M251.1 377.2v4.7M217.1 349.6h4.7M219.5 347.2v4.7M215.7 347.7h4.7M218.0 345.4v4.7M236.1 333.8h4.7M238.4 331.4v4.7M242.6 403.1h4.7M245.0 400.8v4.7M245.0 355.9h4.7M247.4 353.6v4.7M231.2 361.5h4.7M233.6 359.2v4.7M218.3 342.4h4.7M220.7 340.1v4.7M232.2 388.1h4.7M234.5 385.7v4.7M241.6 378.3h4.7M243.9 375.9v4.7M243.4 376.1h4.7M245.7 373.7v4.7M215.3 372.1h4.7M217.6 369.8v4.7M226.5 343.8h4.7M228.9 341.5v4.7M237.3 347.5h4.7M239.6 345.2v4.7M249.2 347.9h4.7M251.5 345.6v4.7M256.8 348.6h4.7M259.2 346.3v4.7M217.2 364.5h4.7M219.6 362.1v4.7M219.8 375.4h4.7M222.1 373.0v4.7M229.2 339.4h4.7M231.5 337.1v4.7M242.6 380.2h4.7M244.9 377.9v4.7M254.9 430.2h4.7M257.2 427.8v4.7M224.2 367.3h4.7M226.5 365.0v4.7M231.0 382.2h4.7M233.4 379.9v4.7M221.6 353.4h4.7M224.0 351.0v4.7M230.3 380.9h4.7M232.7 378.6v4.7M234.1 375.6h4.7M236.5 373.2v4.7M239.6 366.3h4.7M241.9 363.9v4.7M242.2 352.7h4.7M244.5 350.3v4.7M252.4 396.8h4.7M254.7 394.4v4.7M258.6 366.7h4.7M261.0 364.4v4.7M226.3 376.7h4.7M228.7 374.3v4.7M234.8 379.3h4.7M237.2 377.0v4.7M216.0 366.7h4.7M218.3 364.3v4.7M225.4 362.8h4.7M227.7 360.4v4.7M230.0 367.1h4.7M232.4 364.8v4.7M223.7 337.8h4.7M226.1 335.4v4.7M226.5 383.1h4.7M228.8 380.8v4.7M236.6 362.6h4.7M239.0 360.3v4.7M240.8 359.5h4.7M243.2 357.2v4.7M256.6 356.8h4.7M259.0 354.5v4.7M215.9 392.7h4.7M218.2 390.4v4.7M216.0 339.7h4.7M218.3 337.3v4.7M254.5 363.1h4.7M256.8 360.8v4.7M218.2 345.3h4.7M220.6 342.9v4.7M240.0 349.0h4.7M242.3 346.7v4.7M243.9 384.5h4.7M246.3 382.1v4.7M250.3 361.4h4.7M252.7 359.0v4.7M228.6 393.9h4.7M230.9 391.6v4.7M253.7 366.9h4.7M256.0 364.6v4.7M214.7 387.4h4.7M217.0 385.1v4.7M245.3 346.0h4.7M247.7 343.6v4.7M219.3 375.5h4.7M221.7 373.1v4.7M249.3 377.1h4.7M251.7 374.7v4.7M255.2 385.8h4.7M257.5 383.4v4.7M258.5 403.7h4.7M260.9 401.4v4.7M220.6 366.3h4.7M222.9 363.9v4.7M248.4 404.9h4.7M250.7 402.5v4.7M255.7 350.5h4.7M258.1 348.1v4.7M257.7 376.5h4.7M260.0 374.1v4.7M216.2 353.5h4.7M218.5 351.1v4.7M243.2 388.4h4.7M245.5 386.0v4.7M254.8 380.8h4.7M257.2 378.5v4.7M225.7 364.4h4.7M228.0 362.1v4.7M228.5 353.2h4.7M230.8 350.8v4.7M242.5 364.0h4.7M244.8 361.6v4.7M249.6 389.0h4.7M252.0 386.7v4.7M255.0 367.6h4.7M257.3 365.2v4.7M220.5 338.3h4.7M222.8 336.0v4.7M229.6 375.2h4.7M232.0 372.8v4.7M256.7 373.3h4.7M259.0 371.0v4.7M236.8 380.0h4.7M239.2 377.6v4.7M239.8 396.5h4.7M242.2 394.1v4.7M245.2 393.2h4.7M247.6 390.9v4.7M247.7 345.0h4.7M250.0 342.6v4.7M282.1 380.8h4.7M284.5 378.4v4.7M289.0 367.5h4.7M291.4 365.1v4.7M290.5 342.5h4.7M292.8 340.1v4.7M266.2 370.3h4.7M268.5 368.0v4.7M275.2 389.3h4.7M277.6 386.9v4.7M287.7 358.0h4.7M290.0 355.6v4.7M272.8 342.8h4.7M275.2 340.4v4.7M275.4 369.3h4.7M277.7 366.9v4.7M279.5 393.7h4.7M281.9 391.3v4.7M278.8 377.9h4.7M281.2 375.5v4.7M284.2 351.6h4.7M286.6 349.3v4.7M287.6 410.1h4.7M290.0 407.7v4.7M278.3 358.8h4.7M280.7 356.4v4.7M278.8 335.4h4.7M281.1 333.0v4.7M281.1 362.2h4.7M283.5 359.8v4.7M290.1 377.4h4.7M292.4 375.1v4.7M270.8 362.5h4.7M273.2 360.1v4.7M271.0 368.2h4.7M273.3 365.9v4.7M284.6 358.7h4.7M287.0 356.4v4.7M277.2 388.6h4.7M279.5 386.2v4.7M285.2 385.3h4.7M287.6 383.0v4.7M290.2 390.9h4.7M292.6 388.5v4.7M291.4 354.2h4.7M293.8 351.9v4.7M274.3 379.1h4.7M276.6 376.8v4.7M276.6 368.6h4.7M278.9 366.2v4.7M291.3 379.9h4.7M293.6 377.6v4.7M275.9 376.3h4.7M278.2 373.9v4.7M269.4 386.1h4.7M271.7 383.7v4.7M278.5 366.7h4.7M280.9 364.4v4.7M289.5 342.4h4.7M291.9 340.1v4.7M277.5 370.7h4.7M279.8 368.4v4.7M283.9 343.9h4.7M286.3 341.6v4.7M267.5 389.0h4.7M269.8 386.7v4.7M279.7 370.8h4.7M282.1 368.4v4.7M275.6 376.9h4.7M278.0 374.6v4.7M289.9 348.4h4.7M292.3 346.0v4.7M294.1 414.3h4.7M296.4 411.9v4.7M276.4 378.9h4.7M278.7 376.6v4.7M285.8 420.1h4.7M288.2 417.7v4.7M288.3 355.7h4.7M290.6 353.3v4.7M273.8 386.1h4.7M276.1 383.8v4.7M289.5 404.7h4.7M291.9 402.3v4.7M270.0 368.6h4.7M272.3 366.2v4.7M274.0 367.1h4.7M276.3 364.8v4.7M280.0 357.9h4.7M282.3 355.6v4.7M263.6 347.6h4.7M266.0 345.3v4.7M271.9 389.8h4.7M274.3 387.5v4.7M276.0 370.4h4.7M278.3 368.0v4.7M282.3 345.6h4.7M284.6 343.2v4.7M287.2 350.3h4.7M289.6 348.0v4.7M288.9 355.1h4.7M291.3 352.7v4.7M292.3 380.2h4.7M294.7 377.9v4.7M281.0 380.5h4.7M283.3 378.2v4.7M283.2 379.2h4.7M285.6 376.8v4.7M291.1 368.8h4.7M293.4 366.5v4.7M272.3 343.2h4.7M274.7 340.8v4.7M270.4 387.6h4.7M272.7 385.2v4.7M289.0 334.2h4.7M291.3 331.9v4.7M265.6 369.8h4.7M268.0 367.5v4.7M268.8 365.7h4.7M271.1 363.3v4.7M284.7 355.2h4.7M287.1 352.9v4.7M291.1 365.9h4.7M293.5 363.5v4.7M293.2 354.5h4.7M295.6 352.1v4.7M291.6 367.9h4.7M294.0 365.6v4.7M282.2 348.1h4.7M284.6 345.7v4.7M289.8 368.7h4.7M292.1 366.3v4.7M282.4 334.6h4.7M284.8 332.2v4.7M289.8 368.3h4.7M292.1 365.9v4.7M292.3 387.3h4.7M294.7 384.9v4.7M262.6 384.1h4.7M265.0 381.7v4.7M279.1 351.5h4.7M281.4 349.2v4.7M263.4 358.8h4.7M265.8 356.4v4.7M284.3 360.0h4.7M286.6 357.7v4.7M288.5 364.4h4.7M290.9 362.0v4.7M291.3 368.9h4.7M293.7 366.5v4.7M278.4 375.5h4.7M280.8 373.2v4.7M272.4 362.4h4.7M274.7 360.1v4.7M280.6 372.6h4.7M282.9 370.3v4.7M284.7 398.9h4.7M287.0 396.5v4.7M262.4 342.3h4.7M264.8 339.9v4.7M272.8 338.0h4.7M275.1 335.6v4.7M276.3 390.3h4.7M278.7 388.0v4.7M277.8 332.2h4.7M280.2 329.9v4.7M285.5 387.1h4.7M287.9 384.7v4.7M271.8 388.5h4.7M274.1 386.1v4.7M267.4 410.8h4.7M269.8 408.4v4.7M281.6 338.0h4.7M284.0 335.7v4.7M288.6 350.4h4.7M290.9 348.0v4.7M292.4 393.8h4.7M294.8 391.5v4.7M287.4 378.7h4.7M289.8 376.3v4.7M285.0 392.1h4.7M287.3 389.7v4.7M266.0 365.9h4.7M268.3 363.5v4.7M262.1 383.7h4.7M264.5 381.4v4.7M280.5 374.8h4.7M282.8 372.4v4.7M281.2 403.3h4.7M283.6 400.9v4.7M293.6 368.6h4.7M296.0 366.2v4.7M263.9 367.8h4.7M266.3 365.4v4.7M280.2 334.8h4.7M282.5 332.5v4.7M286.6 375.2h4.7M288.9 372.9v4.7M289.8 381.0h4.7M292.1 378.7v4.7M269.5 359.4h4.7M271.8 357.0v4.7M272.6 353.5h4.7M275.0 351.1v4.7M282.2 370.5h4.7M284.6 368.2v4.7M288.1 392.4h4.7M290.5 390.0v4.7M282.0 344.8h4.7M284.4 342.4v4.7M281.7 373.6h4.7M284.1 371.3v4.7M269.1 333.4h4.7M271.4 331.1v4.7M266.9 345.0h4.7M269.3 342.7v4.7M257.8 383.3h4.7M260.2 380.9v4.7M287.4 376.0h4.7M289.8 373.7v4.7M293.9 348.2h4.7M296.3 345.8v4.7M257.3 356.2h4.7M259.7 353.8v4.7M278.3 368.0h4.7M280.6 365.6v4.7M283.2 385.9h4.7M285.5 383.5v4.7M287.4 392.7h4.7M289.7 390.4v4.7M288.7 372.7h4.7M291.1 370.3v4.7M293.3 343.8h4.7M295.6 341.4v4.7M262.2 374.1h4.7M264.5 371.7v4.7M269.2 398.5h4.7M271.5 396.2v4.7M269.9 380.1h4.7M272.3 377.8v4.7M284.7 383.5h4.7M287.0 381.2v4.7M264.3 385.5h4.7M266.7 383.2v4.7M260.3 383.2h4.7M262.7 380.9v4.7M266.9 342.4h4.7M269.3 340.1v4.7M263.6 345.0h4.7M266.0 342.7v4.7M284.8 377.2h4.7M287.1 374.8v4.7M265.6 354.7h4.7M268.0 352.3v4.7M265.6 394.4h4.7M267.9 392.1v4.7M280.7 365.8h4.7M283.1 363.5v4.7M292.3 354.9h4.7M294.7 352.6v4.7M289.8 375.5h4.7M292.1 373.1v4.7M272.1 404.7h4.7M274.5 402.3v4.7M275.2 358.3h4.7M277.6 355.9v4.7M291.7 346.2h4.7M294.1 343.8v4.7M276.7 395.7h4.7M279.0 393.3v4.7M288.2 381.5h4.7M290.5 379.1v4.7M269.4 377.7h4.7M271.7 375.4v4.7M273.2 391.7h4.7M275.6 389.3v4.7M289.5 391.8h4.7M291.8 389.4v4.7M271.6 348.0h4.7M273.9 345.7v4.7M292.3 358.7h4.7M294.7 356.3v4.7M270.2 371.5h4.7M272.6 369.2v4.7M286.4 358.1h4.7M288.7 355.7v4.7M282.2 391.3h4.7M284.6 389.0v4.7M278.8 360.8h4.7M281.2 358.4v4.7M290.4 370.3h4.7M292.8 368.0v4.7M279.3 369.7h4.7M281.6 367.4v4.7M289.7 391.8h4.7M292.0 389.5v4.7M292.1 395.3h4.7M294.5 392.9v4.7M273.8 349.1h4.7M276.2 346.8v4.7M271.2 353.6h4.7M273.6 351.3v4.7M283.9 380.8h4.7M286.3 378.4v4.7M288.6 395.0h4.7M290.9 392.7v4.7M281.6 357.5h4.7M283.9 355.1v4.7M289.5 357.8h4.7M291.8 355.4v4.7M271.0 410.4h4.7M273.3 408.0v4.7M270.8 382.6h4.7M273.1 380.2v4.7M288.8 381.4h4.7M291.2 379.0v4.7M293.8 364.2h4.7M296.2 361.8v4.7M270.8 371.8h4.7M273.1 369.5v4.7M286.9 359.5h4.7M289.3 357.2v4.7M294.4 355.6h4.7M296.8 353.3v4.7M279.1 392.4h4.7M281.4 390.0v4.7M285.8 392.2h4.7M288.1 389.9v4.7M268.1 361.9h4.7M270.4 359.6v4.7M285.9 382.7h4.7M288.3 380.3v4.7M277.2 405.9h4.7M279.5 403.5v4.7M280.4 414.9h4.7M282.8 412.6v4.7M272.4 385.5h4.7M274.8 383.2v4.7M286.1 378.7h4.7M288.4 376.4v4.7M285.4 364.6h4.7M287.7 362.3v4.7M281.9 336.3h4.7M284.2 334.0v4.7M294.4 370.1h4.7M296.7 367.8v4.7M288.1 367.3h4.7M290.4 365.0v4.7M264.6 346.4h4.7M267.0 344.1v4.7M282.4 361.8h4.7M284.7 359.4v4.7M279.5 369.6h4.7M281.9 367.2v4.7M272.1 390.4h4.7M274.4 388.0v4.7M291.9 382.9h4.7M294.3 380.5v4.7M277.5 382.3h4.7M279.9 380.0v4.7M292.8 367.1h4.7M295.2 364.7v4.7M270.0 357.4h4.7M272.3 355.1v4.7M280.9 403.4h4.7M283.3 401.1v4.7" stroke="#7474ff" stroke-width="0.78" fill="none"/>
<path d="M132.8 267.4L135.5 262.8L138.2 267.4ZM131.2 308.4L134.0 303.8L136.8 308.4ZM138.2 325.5L140.9 320.8L143.7 325.5ZM148.1 338.2L150.8 333.6L153.6 338.2ZM158.3 327.0L161.1 322.3L163.8 327.0ZM162.9 319.2L165.7 314.6L168.4 319.2ZM171.4 310.2L174.2 305.6L176.9 310.2ZM175.1 315.6L177.8 310.9L180.6 315.6ZM174.3 327.0L177.1 322.3L179.8 327.0ZM157.4 340.0L160.2 335.3L162.9 340.0ZM167.8 340.0L170.5 335.3L173.2 340.0ZM178.2 334.2L181.0 329.6L183.8 334.2ZM185.6 323.7L188.3 319.1L191.1 323.7ZM195.4 299.3L198.2 294.6L200.9 299.3ZM191.8 309.3L194.6 304.6L197.3 309.3ZM194.9 307.5L197.7 302.8L200.4 307.5ZM203.2 307.1L206.0 302.4L208.8 307.1ZM210.4 307.5L213.2 302.8L215.9 307.5ZM191.8 321.6L194.6 316.9L197.3 321.6ZM189.4 328.3L192.2 323.6L194.9 328.3ZM192.8 327.4L195.5 322.8L198.2 327.4ZM184.7 336.0L187.4 331.3L190.2 336.0ZM198.2 334.6L200.9 329.9L203.7 334.6ZM201.8 333.7L204.5 329.1L207.2 333.7ZM205.3 335.5L208.1 330.8L210.8 335.5ZM209.1 333.7L211.8 329.1L214.6 333.7ZM210.4 320.1L213.2 315.4L215.9 320.1ZM182.8 342.2L185.5 337.6L188.2 342.2ZM193.7 339.1L196.4 334.4L199.2 339.1ZM196.3 340.9L199.1 336.2L201.8 340.9ZM201.8 340.0L204.5 335.3L207.2 340.0ZM207.2 337.3L209.9 332.6L212.7 337.3ZM185.6 347.2L188.3 342.6L191.1 347.2ZM190.1 347.2L192.8 342.6L195.6 347.2ZM195.9 347.2L198.7 342.6L201.4 347.2ZM199.9 349.0L202.7 344.3L205.4 349.0ZM205.3 345.4L208.1 340.8L210.8 345.4ZM209.9 340.0L212.7 335.3L215.4 340.0ZM210.8 349.9L213.6 345.2L216.3 349.9ZM177.2 352.4L179.9 347.8L182.7 352.4ZM179.9 357.2L182.7 352.6L185.4 357.2ZM181.2 361.5L184.0 356.8L186.8 361.5ZM186.1 380.8L188.8 376.1L191.6 380.8ZM187.2 362.7L190.0 358.1L192.8 362.7ZM193.9 361.1L196.7 356.4L199.4 361.1ZM198.8 365.9L201.5 361.2L204.2 365.9ZM194.4 354.3L197.2 349.6L199.9 354.3ZM200.4 349.5L203.2 344.8L205.9 349.5ZM206.4 354.3L209.2 349.6L211.9 354.3ZM210.8 307.6L213.5 302.9L216.2 307.6ZM215.2 305.4L218.0 300.8L220.8 305.4ZM218.6 307.6L221.3 302.9L224.1 307.6ZM217.2 313.7L220.0 309.1L222.8 313.7ZM210.4 319.3L213.2 314.6L215.9 319.3ZM214.1 321.8L216.8 317.1L219.6 321.8ZM217.2 326.6L220.0 321.9L222.8 326.6ZM228.7 309.7L231.4 305.1L234.2 309.7ZM230.2 315.3L233.0 310.6L235.8 315.3ZM233.8 318.5L236.5 313.8L239.2 318.5ZM225.8 325.8L228.5 321.1L231.2 325.8ZM222.6 330.6L225.3 325.9L228.1 330.6ZM231.3 333.3L234.1 328.6L236.8 333.3ZM234.6 333.3L237.3 328.6L240.1 333.3ZM226.2 336.2L229.0 331.6L231.8 336.2ZM240.2 337.0L243.0 332.3L245.8 337.0ZM242.2 339.8L245.0 335.1L247.8 339.8ZM220.9 339.4L223.7 334.8L226.4 339.4ZM223.3 341.8L226.1 337.1L228.8 341.8ZM242.2 310.5L245.0 305.8L247.8 310.5ZM250.7 313.7L253.4 309.1L256.1 313.7ZM251.4 320.5L254.2 315.8L256.9 320.5ZM262.2 310.5L265.0 305.8L267.8 310.5ZM280.9 306.5L283.6 301.8L286.4 306.5ZM280.9 316.1L283.6 311.4L286.4 316.1ZM253.9 333.8L256.6 329.1L259.4 333.8ZM255.4 337.8L258.2 333.1L260.9 337.8ZM258.6 336.2L261.4 331.6L264.1 336.2ZM264.4 329.5L267.1 324.8L269.9 329.5ZM268.4 326.6L271.1 321.9L273.9 326.6ZM271.6 324.2L274.3 319.6L277.1 324.2ZM273.1 329.8L275.9 325.1L278.6 329.8ZM287.6 320.9L290.4 316.2L293.1 320.9ZM290.1 320.1L292.8 315.4L295.6 320.1ZM291.6 325.0L294.4 320.3L297.1 325.0ZM286.9 325.8L289.6 321.1L292.4 325.8ZM280.4 325.0L283.1 320.3L285.9 325.0ZM263.6 336.2L266.3 331.6L269.1 336.2ZM277.9 328.2L280.7 323.6L283.4 328.2ZM211.3 350.2L214.1 345.5L216.8 350.2ZM190.7 342.0L193.4 337.3L196.2 342.0ZM211.2 340.2L214.0 335.6L216.7 340.2ZM197.4 357.0L200.1 352.3L202.9 357.0ZM234.6 339.7L237.3 335.1L240.1 339.7ZM232.8 333.4L235.5 328.8L238.3 333.4ZM224.0 348.5L226.7 343.8L229.5 348.5ZM232.3 343.2L235.1 338.6L237.8 343.2ZM235.4 337.7L238.2 333.0L240.9 337.7ZM238.4 339.4L241.2 334.8L243.9 339.4ZM212.3 357.9L215.0 353.3L217.8 357.9ZM217.6 337.7L220.4 333.0L223.1 337.7ZM222.3 341.1L225.0 336.5L227.8 341.1ZM225.9 342.8L228.7 338.2L231.4 342.8ZM228.8 346.5L231.6 341.8L234.3 346.5ZM243.3 330.5L246.1 325.8L248.8 330.5ZM245.8 338.0L248.6 333.3L251.3 338.0ZM248.5 346.7L251.2 342.0L254.0 346.7ZM235.5 354.6L238.2 350.0L241.0 354.6ZM241.8 332.8L244.6 328.2L247.3 332.8ZM244.6 342.9L247.3 338.2L250.1 342.9ZM230.8 359.6L233.6 355.0L236.3 359.6ZM241.0 342.1L243.7 337.5L246.5 342.1ZM215.2 333.8L217.9 329.1L220.7 333.8ZM225.9 338.1L228.7 333.5L231.4 338.1ZM249.2 329.4L252.0 324.7L254.7 329.4ZM216.3 329.3L219.0 324.6L221.8 329.3ZM219.7 336.7L222.4 332.0L225.2 336.7ZM228.7 346.6L231.5 342.0L234.2 346.6ZM242.8 337.6L245.5 332.9L248.3 337.6ZM254.0 351.7L256.8 347.1L259.5 351.7ZM230.9 350.5L233.7 345.9L236.4 350.5ZM220.7 330.7L223.5 326.1L226.2 330.7ZM229.6 336.4L232.3 331.8L235.1 336.4ZM233.7 338.3L236.5 333.7L239.2 338.3ZM240.1 344.7L242.9 340.1L245.6 344.7ZM242.2 330.2L244.9 325.5L247.7 330.2ZM252.5 328.3L255.3 323.6L258.0 328.3ZM258.3 349.1L261.1 344.4L263.8 349.1ZM225.8 362.0L228.5 357.4L231.3 362.0ZM225.0 328.6L227.7 324.0L230.5 328.6ZM224.1 330.5L226.9 325.9L229.6 330.5ZM236.3 350.8L239.1 346.1L241.8 350.8ZM239.9 336.4L242.7 331.7L245.4 336.4ZM255.9 351.8L258.6 347.2L261.4 351.8ZM215.4 335.5L218.2 330.8L220.9 335.5ZM215.5 348.6L218.2 343.9L221.0 348.6ZM254.1 342.9L256.8 338.3L259.6 342.9ZM217.3 339.9L220.1 335.2L222.8 339.9ZM239.4 329.1L242.1 324.4L244.9 329.1ZM249.9 378.7L252.6 374.1L255.4 378.7ZM228.0 334.0L230.7 329.3L233.5 334.0ZM253.6 331.7L256.4 327.0L259.1 331.7ZM214.7 351.4L217.4 346.8L220.2 351.4ZM244.5 343.7L247.3 339.1L250.0 343.7ZM249.0 338.6L251.8 334.0L254.5 338.6ZM255.0 357.3L257.7 352.6L260.5 357.3ZM258.1 335.2L260.8 330.6L263.6 335.2ZM221.0 336.0L223.8 331.4L226.5 336.0ZM248.1 339.2L250.9 334.5L253.6 339.2ZM255.2 335.5L257.9 330.8L260.7 335.5ZM257.4 350.2L260.2 345.5L262.9 350.2ZM224.9 342.6L227.7 338.0L230.4 342.6ZM248.6 332.0L251.4 327.3L254.1 332.0ZM254.9 343.8L257.7 339.1L260.4 343.8ZM219.9 332.3L222.7 327.6L225.4 332.3ZM229.2 346.2L231.9 341.6L234.7 346.2ZM239.5 349.0L242.2 344.4L245.0 349.0ZM247.5 352.9L250.3 348.3L253.0 352.9ZM281.3 362.9L284.0 358.3L286.8 362.9ZM288.4 341.3L291.2 336.7L293.9 341.3ZM289.9 329.6L292.6 324.9L295.4 329.6ZM288.6 336.5L291.3 331.8L294.1 336.5ZM272.5 337.8L275.2 333.1L278.0 337.8ZM274.6 356.4L277.3 351.7L280.1 356.4ZM278.9 339.7L281.7 335.0L284.4 339.7ZM278.4 342.4L281.1 337.8L283.9 342.4ZM284.3 346.5L287.0 341.9L289.8 346.5ZM287.0 338.6L289.7 334.0L292.5 338.6ZM277.9 332.0L280.7 327.3L283.4 332.0ZM280.3 362.2L283.1 357.5L285.8 362.2ZM270.9 326.3L273.6 321.7L276.4 326.3ZM270.5 320.9L273.2 316.2L276.0 320.9ZM284.2 338.4L286.9 333.7L289.7 338.4ZM284.7 346.4L287.5 341.8L290.2 346.4ZM288.6 355.3L291.3 350.6L294.1 355.3ZM273.3 360.1L276.0 355.4L278.8 360.1ZM275.5 344.1L278.3 339.4L281.0 344.1ZM291.0 333.4L293.7 328.7L296.5 333.4ZM275.5 331.9L278.3 327.3L281.0 331.9ZM269.2 336.0L271.9 331.4L274.7 336.0ZM278.3 327.1L281.1 322.4L283.8 327.1ZM277.3 340.1L280.0 335.4L282.8 340.1ZM284.1 328.8L286.8 324.2L289.6 328.8ZM267.0 338.3L269.8 333.7L272.5 338.3ZM275.1 333.2L277.8 328.6L280.6 333.2ZM289.1 335.1L291.9 330.5L294.6 335.1ZM293.0 338.8L295.7 334.2L298.5 338.8ZM275.5 364.1L278.3 359.5L281.0 364.1ZM285.0 329.1L287.8 324.4L290.5 329.1ZM287.3 348.4L290.0 343.8L292.8 348.4ZM273.3 321.2L276.1 316.6L278.8 321.2ZM289.4 323.5L292.2 318.8L294.9 323.5ZM269.1 349.8L271.9 345.2L274.6 349.8ZM274.0 347.2L276.7 342.5L279.5 347.2ZM279.3 324.8L282.0 320.1L284.8 324.8ZM263.6 342.4L266.3 337.7L269.1 342.4ZM271.8 338.0L274.5 333.3L277.3 338.0ZM275.9 332.7L278.6 328.1L281.4 332.7ZM281.8 328.6L284.5 324.0L287.3 328.6ZM286.2 330.6L288.9 326.0L291.7 330.6ZM289.4 354.4L292.2 349.7L294.9 354.4ZM291.6 325.8L294.4 321.2L297.1 325.8ZM280.2 339.8L283.0 335.2L285.7 339.8ZM282.5 344.3L285.3 339.7L288.0 344.3ZM290.1 353.8L292.9 349.2L295.6 353.8ZM271.9 353.8L274.6 349.1L277.4 353.8ZM270.1 357.1L272.9 352.4L275.6 357.1ZM288.6 351.7L291.4 347.0L294.1 351.7ZM268.3 329.1L271.1 324.4L273.8 329.1ZM290.3 335.8L293.1 331.1L295.8 335.8ZM293.2 323.6L295.9 319.0L298.7 323.6ZM291.2 346.7L293.9 342.0L296.7 346.7ZM281.3 347.7L284.1 343.1L286.8 347.7ZM271.6 347.8L274.3 343.1L277.1 347.8ZM289.9 342.0L292.6 337.3L295.4 342.0ZM281.8 338.1L284.6 333.4L287.3 338.1ZM289.2 338.2L291.9 333.6L294.7 338.2ZM292.2 340.9L295.0 336.2L297.7 340.9ZM262.1 340.5L264.9 335.9L267.6 340.5ZM278.9 348.2L281.7 343.5L284.4 348.2ZM263.1 354.5L265.8 349.8L268.6 354.5ZM284.3 344.1L287.1 339.5L289.8 344.1ZM287.6 336.7L290.3 332.0L293.1 336.7ZM291.3 350.5L294.0 345.8L296.8 350.5ZM278.2 357.3L280.9 352.7L283.7 357.3ZM272.5 336.5L275.3 331.9L278.0 336.5ZM280.7 345.4L283.5 340.7L286.2 345.4ZM283.7 366.3L286.5 361.7L289.2 366.3ZM261.9 330.8L264.7 326.1L267.4 330.8ZM272.6 334.4L275.4 329.7L278.1 334.4ZM275.8 347.2L278.5 342.5L281.3 347.2ZM277.5 351.3L280.3 346.7L283.0 351.3ZM285.7 339.5L288.5 334.8L291.2 339.5ZM270.9 338.4L273.7 333.7L276.4 338.4ZM270.0 355.5L272.8 350.8L275.5 355.5ZM281.5 329.7L284.3 325.0L287.0 329.7ZM288.4 320.7L291.2 316.1L293.9 320.7ZM292.3 331.2L295.1 326.6L297.8 331.2ZM286.7 372.9L289.4 368.2L292.2 372.9ZM284.8 328.3L287.6 323.6L290.3 328.3ZM265.8 340.2L268.6 335.6L271.3 340.2ZM261.9 348.7L264.6 344.1L267.4 348.7ZM279.7 331.2L282.4 326.6L285.2 331.2ZM280.7 350.7L283.5 346.1L286.2 350.7ZM293.0 324.2L295.7 319.5L298.5 324.2ZM263.3 340.4L266.0 335.7L268.8 340.4ZM279.9 343.0L282.7 338.4L285.4 343.0ZM286.0 339.3L288.7 334.7L291.5 339.3ZM289.4 366.4L292.2 361.7L294.9 366.4ZM271.5 361.7L274.2 357.1L277.0 361.7ZM282.0 344.5L284.7 339.8L287.5 344.5ZM288.0 344.9L290.7 340.3L293.5 344.9ZM281.4 331.7L284.1 327.0L286.9 331.7ZM280.9 341.8L283.6 337.1L286.4 341.8ZM268.5 347.3L271.2 342.6L274.0 347.3ZM266.3 354.9L269.1 350.3L271.8 354.9ZM256.9 356.4L259.6 351.7L262.4 356.4ZM287.1 327.3L289.9 322.6L292.6 327.3ZM257.4 352.6L260.1 348.0L262.9 352.6ZM277.9 334.4L280.7 329.7L283.4 334.4ZM282.7 331.6L285.4 327.0L288.2 331.6ZM287.4 356.9L290.2 352.2L292.9 356.9ZM289.2 350.7L291.9 346.1L294.7 350.7ZM293.2 384.1L295.9 379.4L298.7 384.1ZM261.9 336.3L264.6 331.6L267.4 336.3ZM269.6 329.7L272.3 325.1L275.1 329.7ZM283.9 350.0L286.6 345.4L289.4 350.0ZM264.0 339.2L266.7 334.6L269.5 339.2ZM259.8 334.7L262.5 330.1L265.3 334.7ZM266.9 352.2L269.7 347.6L272.4 352.2ZM263.0 359.5L265.8 354.8L268.5 359.5ZM266.0 329.5L268.8 324.8L271.5 329.5ZM265.1 348.7L267.8 344.1L270.6 348.7ZM280.7 345.0L283.5 340.4L286.2 345.0ZM291.5 361.4L294.2 356.8L297.0 361.4ZM271.4 358.8L274.2 354.2L276.9 358.8ZM274.9 342.6L277.6 338.0L280.4 342.6ZM291.1 345.0L293.8 340.4L296.6 345.0ZM276.2 352.1L279.0 347.5L281.7 352.1ZM287.1 338.6L289.9 334.0L292.6 338.6ZM268.9 349.3L271.6 344.7L274.4 349.3ZM272.7 362.8L275.5 358.1L278.2 362.8ZM289.1 349.0L291.9 344.4L294.6 349.0ZM270.4 334.6L273.2 329.9L275.9 334.6ZM286.2 327.0L288.9 322.3L291.7 327.0ZM282.3 358.8L285.0 354.2L287.8 358.8ZM278.3 332.9L281.1 328.2L283.8 332.9ZM279.8 342.2L282.6 337.5L285.3 342.2ZM273.4 348.4L276.2 343.7L278.9 348.4ZM271.2 331.8L273.9 327.1L276.7 331.8ZM283.4 350.2L286.1 345.6L288.9 350.2ZM287.6 354.9L290.4 350.2L293.1 354.9ZM281.1 342.8L283.9 338.1L286.6 342.8ZM288.9 336.1L291.7 331.4L294.4 336.1ZM270.1 340.7L272.9 336.1L275.6 340.7ZM270.1 329.0L272.8 324.4L275.6 329.0ZM288.1 325.2L290.8 320.6L293.6 325.2ZM292.6 329.1L295.3 324.4L298.1 329.1ZM270.0 340.7L272.8 336.1L275.5 340.7ZM286.9 356.9L289.7 352.2L292.4 356.9ZM293.1 343.6L295.8 339.0L298.6 343.6ZM278.8 354.4L281.6 349.7L284.3 354.4ZM285.1 324.1L287.8 319.5L290.6 324.1ZM267.8 350.3L270.5 345.7L273.3 350.3ZM276.3 327.3L279.1 322.7L281.8 327.3ZM280.1 342.4L282.9 337.8L285.6 342.4ZM271.8 356.9L274.5 352.2L277.3 356.9ZM286.0 329.3L288.8 324.6L291.5 329.3ZM284.4 349.3L287.2 344.7L289.9 349.3ZM281.1 352.3L283.9 347.6L286.6 352.3ZM294.4 338.0L297.1 333.3L299.9 338.0ZM288.1 367.2L290.9 362.6L293.6 367.2ZM282.0 368.0L284.8 363.4L287.5 368.0ZM278.5 322.1L281.3 317.4L284.0 322.1ZM290.8 351.5L293.5 346.8L296.3 351.5ZM276.6 360.1L279.4 355.5L282.1 360.1ZM292.1 336.2L294.9 331.6L297.6 336.2ZM269.1 338.7L271.9 334.1L274.6 338.7ZM281.0 334.7L283.7 330.0L286.5 334.7Z" stroke="#222" stroke-width="0.7" fill="none"/>
<path d="M455.1 353.1h4.7M457.5 350.8v4.7M464.8 358.9h4.7M467.1 356.5v4.7M485.1 341.9h4.7M487.5 339.5v4.7M507.2 348.6h4.7M509.6 346.2v4.7M506.3 353.5h4.7M508.7 351.1v4.7M515.9 350.2h4.7M518.3 347.8v4.7M527.4 362.5h4.7M529.8 360.1v4.7M480.4 371.2h4.7M482.8 368.8v4.7M503.2 368.5h4.7M505.6 366.1v4.7M513.1 371.6h4.7M515.5 369.2v4.7M509.2 385.7h4.7M511.6 383.3v4.7M503.0 387.8h4.7M505.4 385.4v4.7M509.0 391.4h4.7M511.4 389.0v4.7M520.8 386.2h4.7M523.1 383.8v4.7M524.9 388.7h4.7M527.3 386.3v4.7M517.8 390.2h4.7M520.1 387.8v4.7M474.6 395.1h4.7M477.0 392.8v4.7M494.2 394.3h4.7M496.6 391.9v4.7M507.8 397.4h4.7M510.1 395.0v4.7M512.2 395.4h4.7M514.6 393.0v4.7M515.4 395.1h4.7M517.7 392.8v4.7M526.8 397.4h4.7M529.1 395.0v4.7M497.6 399.2h4.7M500.0 396.8v4.7M492.9 402.3h4.7M495.3 399.9v4.7M500.1 403.2h4.7M502.5 400.8v4.7M502.1 403.7h4.7M504.5 401.3v4.7M504.8 406.8h4.7M507.2 404.4v4.7M513.5 406.8h4.7M515.9 404.4v4.7M482.2 408.3h4.7M484.6 405.9v4.7M514.4 411.3h4.7M516.8 408.9v4.7M517.1 414.0h4.7M519.5 411.6v4.7M522.5 414.4h4.7M524.9 412.0v4.7M526.2 412.2h4.7M528.6 409.8v4.7M500.5 414.0h4.7M502.9 411.6v4.7M475.6 417.3h4.7M478.0 414.9v4.7M495.8 417.3h4.7M498.2 414.9v4.7M498.0 318.6h4.7M500.4 316.2v4.7M505.3 320.8h4.7M507.7 318.4v4.7M487.6 423.4h4.7M490.0 421.0v4.7M491.5 420.6h4.7M493.9 418.2v4.7M489.0 430.3h4.7M491.4 427.9v4.7M448.6 430.0h4.7M451.0 427.6v4.7M450.2 448.1h4.7M452.6 445.8v4.7M510.2 453.1h4.7M512.6 450.8v4.7M516.9 421.0h4.7M519.3 418.6v4.7M520.5 422.4h4.7M522.9 420.0v4.7M518.4 426.0h4.7M520.7 423.6v4.7M523.4 426.7h4.7M525.7 424.3v4.7M519.8 432.4h4.7M522.1 430.0v4.7M522.6 436.0h4.7M525.0 433.6v4.7M526.2 432.9h4.7M528.6 430.5v4.7M551.9 286.5h4.7M554.2 284.1v4.7M550.9 297.0h4.7M553.2 294.6v4.7M549.9 310.4h4.7M552.3 308.0v4.7M540.4 319.4h4.7M542.8 317.0v4.7M549.4 323.7h4.7M551.7 321.3v4.7M552.5 328.3h4.7M554.9 325.9v4.7M528.8 327.3h4.7M531.1 324.9v4.7M555.8 332.9h4.7M558.1 330.5v4.7M530.5 335.4h4.7M532.9 333.0v4.7M534.9 353.9h4.7M537.3 351.5v4.7M539.9 354.6h4.7M542.2 352.2v4.7M543.5 352.3h4.7M545.9 349.9v4.7M546.4 356.3h4.7M548.8 353.9v4.7M559.8 355.6h4.7M562.1 353.2v4.7M562.6 359.2h4.7M565.0 356.8v4.7M565.5 359.2h4.7M567.9 356.8v4.7M533.4 361.4h4.7M535.8 359.0v4.7M533.0 364.7h4.7M535.4 362.3v4.7M551.9 362.8h4.7M554.3 360.4v4.7M558.0 361.1h4.7M560.4 358.8v4.7M560.9 365.7h4.7M563.3 363.3v4.7M547.0 368.3h4.7M549.4 365.9v4.7M535.9 372.2h4.7M538.3 369.8v4.7M549.4 377.0h4.7M551.7 374.6v4.7M558.6 376.6h4.7M561.0 374.2v4.7M561.9 376.6h4.7M564.3 374.2v4.7M533.0 379.4h4.7M535.4 377.0v4.7M543.1 382.0h4.7M545.5 379.6v4.7M553.9 382.3h4.7M556.3 379.9v4.7M566.2 382.6h4.7M568.6 380.2v4.7M572.8 379.7h4.7M575.1 377.3v4.7M533.8 391.3h4.7M536.1 388.9v4.7M536.4 392.2h4.7M538.7 389.8v4.7M546.0 391.3h4.7M548.4 388.9v4.7M560.4 390.7h4.7M562.8 388.3v4.7M569.1 391.0h4.7M571.5 388.6v4.7M540.6 394.6h4.7M543.0 392.2v4.7M549.4 393.9h4.7M551.7 391.5v4.7M538.0 396.8h4.7M540.4 394.4v4.7M547.4 395.7h4.7M549.8 393.3v4.7M551.0 396.2h4.7M553.4 393.8v4.7M557.6 399.8h4.7M560.0 397.4v4.7M559.8 400.5h4.7M562.1 398.1v4.7M568.4 399.5h4.7M570.8 397.1v4.7M572.8 400.5h4.7M575.1 398.1v4.7M543.9 405.3h4.7M546.2 402.9v4.7M551.9 403.0h4.7M554.2 400.6v4.7M533.8 408.4h4.7M536.1 406.0v4.7M542.1 409.2h4.7M544.5 406.8v4.7M546.8 408.4h4.7M549.1 406.0v4.7M540.9 413.5h4.7M543.3 411.1v4.7M543.9 415.0h4.7M546.2 412.6v4.7M552.5 412.1h4.7M554.9 409.8v4.7M558.4 412.8h4.7M560.7 410.4v4.7M557.6 415.7h4.7M560.0 413.3v4.7M571.4 411.3h4.7M573.7 408.9v4.7M533.0 415.7h4.7M535.4 413.3v4.7M533.8 417.8h4.7M536.1 415.4v4.7M569.9 415.7h4.7M572.2 413.3v4.7M534.9 420.0h4.7M537.3 417.6v4.7M556.9 420.0h4.7M559.2 417.6v4.7M561.9 420.7h4.7M564.3 418.3v4.7M566.9 419.3h4.7M569.3 416.9v4.7M545.4 423.6h4.7M547.7 421.2v4.7M569.9 422.2h4.7M572.2 419.8v4.7M532.4 425.1h4.7M534.7 422.8v4.7M562.6 425.1h4.7M565.0 422.8v4.7M536.6 427.2h4.7M539.0 424.8v4.7M566.9 428.7h4.7M569.3 426.3v4.7M571.4 428.0h4.7M573.7 425.6v4.7M573.4 428.7h4.7M575.8 426.3v4.7M539.5 430.1h4.7M541.9 427.8v4.7M565.5 432.3h4.7M567.9 429.9v4.7M569.9 432.3h4.7M572.2 429.9v4.7M572.8 430.8h4.7M575.1 428.4v4.7M533.4 433.0h4.7M535.8 430.6v4.7M561.2 435.2h4.7M563.6 432.8v4.7M568.4 435.9h4.7M570.8 433.5v4.7M542.4 436.6h4.7M544.8 434.2v4.7M546.0 435.2h4.7M548.4 432.8v4.7M559.8 438.1h4.7M562.1 435.8v4.7M566.2 438.1h4.7M568.6 435.8v4.7M569.9 438.8h4.7M572.2 436.4v4.7M538.9 440.2h4.7M541.2 437.8v4.7M546.8 441.7h4.7M549.1 439.3v4.7M570.6 441.7h4.7M573.0 439.3v4.7M553.9 445.3h4.7M556.3 442.9v4.7M556.9 445.7h4.7M559.2 443.3v4.7M561.2 444.6h4.7M563.6 442.2v4.7M565.5 443.8h4.7M567.9 441.4v4.7M597.9 269.8h4.7M600.2 267.4v4.7M603.1 270.4h4.7M605.5 268.0v4.7M605.0 276.5h4.7M607.4 274.1v4.7M581.2 278.2h4.7M583.6 275.8v4.7M591.0 284.7h4.7M593.4 282.3v4.7M604.0 293.1h4.7M606.4 290.8v4.7M587.8 296.7h4.7M590.1 294.3v4.7M589.1 300.2h4.7M591.5 297.8v4.7M593.9 301.0h4.7M596.3 298.6v4.7M592.8 306.4h4.7M595.1 304.0v4.7M599.9 308.3h4.7M602.3 305.9v4.7M602.5 311.9h4.7M604.9 309.5v4.7M592.0 313.6h4.7M594.4 311.2v4.7M592.8 315.8h4.7M595.1 313.4v4.7M596.4 317.2h4.7M598.7 314.8v4.7M604.4 316.5h4.7M606.7 314.1v4.7M586.2 318.0h4.7M588.6 315.6v4.7M585.2 321.6h4.7M587.6 319.2v4.7M599.2 320.4h4.7M601.6 318.0v4.7M591.4 324.7h4.7M593.7 322.3v4.7M599.9 325.9h4.7M602.3 323.5v4.7M603.6 324.2h4.7M606.0 321.8v4.7M606.9 324.4h4.7M609.3 322.0v4.7M587.8 328.0h4.7M590.1 325.6v4.7M589.9 328.8h4.7M592.2 326.4v4.7M606.4 327.0h4.7M608.8 324.6v4.7M589.9 331.5h4.7M592.2 329.1v4.7M584.0 334.0h4.7M586.4 331.6v4.7M593.4 333.2h4.7M595.8 330.8v4.7M605.0 335.4h4.7M607.4 333.0v4.7M592.8 336.8h4.7M595.1 334.4v4.7M598.5 337.6h4.7M600.9 335.2v4.7M583.4 339.7h4.7M585.7 337.3v4.7M594.2 340.4h4.7M596.6 338.0v4.7M591.0 344.8h4.7M593.4 342.4v4.7M604.4 345.5h4.7M606.7 343.1v4.7M607.9 344.5h4.7M610.3 342.1v4.7M592.8 349.1h4.7M595.1 346.8v4.7M599.9 349.1h4.7M602.3 346.8v4.7M602.9 347.7h4.7M605.2 345.3v4.7M588.4 352.7h4.7M590.8 350.3v4.7M605.0 354.2h4.7M607.4 351.8v4.7M583.4 355.6h4.7M585.7 353.2v4.7M589.9 357.1h4.7M592.2 354.8v4.7M594.2 357.1h4.7M596.6 354.8v4.7M580.4 360.0h4.7M582.8 357.6v4.7M586.9 360.0h4.7M589.3 357.6v4.7M591.4 359.5h4.7M593.7 357.1v4.7M597.0 359.2h4.7M599.4 356.8v4.7M602.1 359.2h4.7M604.5 356.8v4.7M605.0 360.4h4.7M607.4 358.0v4.7M607.2 360.7h4.7M609.6 358.3v4.7M595.6 364.3h4.7M598.0 361.9v4.7M598.5 363.8h4.7M600.9 361.4v4.7M606.4 365.0h4.7M608.8 362.6v4.7M588.4 367.9h4.7M590.8 365.5v4.7M585.5 368.6h4.7M587.9 366.2v4.7M605.8 368.6h4.7M608.1 366.2v4.7M579.8 373.7h4.7M582.1 371.3v4.7M584.0 373.7h4.7M586.4 371.3v4.7M599.2 372.9h4.7M601.6 370.5v4.7M605.8 372.2h4.7M608.1 369.8v4.7M608.6 372.9h4.7M611.0 370.5v4.7M607.2 375.8h4.7M609.6 373.4v4.7M595.6 375.8h4.7M598.0 373.4v4.7M586.9 379.4h4.7M589.3 377.0v4.7M604.4 378.7h4.7M606.7 376.3v4.7M598.5 380.9h4.7M600.9 378.5v4.7M604.4 381.6h4.7M606.7 379.2v4.7M607.9 382.3h4.7M610.3 379.9v4.7M576.9 385.2h4.7M579.2 382.8v4.7M593.4 385.2h4.7M595.8 382.8v4.7M579.0 387.8h4.7M581.4 385.4v4.7M599.2 386.7h4.7M601.6 384.3v4.7M602.9 391.0h4.7M605.2 388.6v4.7M606.4 391.3h4.7M608.8 388.9v4.7M594.2 391.7h4.7M596.6 389.3v4.7M587.8 393.9h4.7M590.1 391.5v4.7M596.4 394.6h4.7M598.7 392.2v4.7M598.5 396.1h4.7M600.9 393.8v4.7M577.5 403.4h4.7M579.9 401.0v4.7M587.8 401.5h4.7M590.1 399.1v4.7M590.5 400.5h4.7M592.9 398.1v4.7M592.8 402.4h4.7M595.1 400.0v4.7M600.8 403.4h4.7M603.1 401.0v4.7M586.9 405.6h4.7M589.3 403.2v4.7M582.4 407.0h4.7M584.7 404.6v4.7M585.5 408.4h4.7M587.9 406.0v4.7M596.4 408.2h4.7M598.7 405.8v4.7M602.9 407.3h4.7M605.2 404.9v4.7M608.6 411.3h4.7M611.0 408.9v4.7M602.1 412.5h4.7M604.5 410.1v4.7M599.9 414.2h4.7M602.3 411.8v4.7M579.8 414.2h4.7M582.1 411.8v4.7M577.5 416.8h4.7M579.9 414.4v4.7M594.9 415.7h4.7M597.3 413.3v4.7M595.6 417.8h4.7M598.0 415.4v4.7M607.9 419.3h4.7M610.3 416.9v4.7M579.8 420.0h4.7M582.1 417.6v4.7M594.9 420.7h4.7M597.3 418.3v4.7M600.8 420.7h4.7M603.1 418.3v4.7M605.0 420.7h4.7M607.4 418.3v4.7M583.4 423.6h4.7M585.7 421.2v4.7M586.9 425.1h4.7M589.3 422.8v4.7M597.0 425.1h4.7M599.4 422.8v4.7M602.9 426.5h4.7M605.2 424.1v4.7M596.4 428.0h4.7M598.7 425.6v4.7M595.6 430.8h4.7M598.0 428.4v4.7M582.6 430.1h4.7M585.0 427.8v4.7M580.4 433.0h4.7M582.8 430.6v4.7M571.9 433.0h4.7M574.2 430.6v4.7M602.1 435.2h4.7M604.5 432.8v4.7M609.4 435.2h4.7M611.7 432.8v4.7M572.5 437.3h4.7M574.9 434.9v4.7M594.2 439.5h4.7M596.6 437.1v4.7M597.9 439.5h4.7M600.2 437.1v4.7M602.1 437.3h4.7M604.5 434.9v4.7M605.0 441.0h4.7M607.4 438.6v4.7M608.6 438.8h4.7M611.0 436.4v4.7M578.4 440.2h4.7M580.7 437.8v4.7M584.0 441.7h4.7M586.4 439.3v4.7M584.9 446.1h4.7M587.2 443.8v4.7M598.5 446.7h4.7M600.9 444.3v4.7M579.8 448.9h4.7M582.1 446.5v4.7M576.9 451.1h4.7M579.2 448.8v4.7M581.9 450.3h4.7M584.3 447.9v4.7M579.0 453.2h4.7M581.4 450.8v4.7M599.9 452.9h4.7M602.3 450.5v4.7M581.9 456.8h4.7M584.3 454.4v4.7M579.8 459.7h4.7M582.1 457.3v4.7M606.5 378.1h4.7M608.9 375.7v4.7M601.9 345.7h4.7M604.2 343.4v4.7M594.5 351.8h4.7M596.9 349.4v4.7M600.2 330.8h4.7M602.5 328.5v4.7M594.4 389.9h4.7M596.8 387.6v4.7M604.1 342.5h4.7M606.4 340.2v4.7M600.6 388.4h4.7M603.0 386.0v4.7M608.0 380.3h4.7M610.4 378.0v4.7M599.9 358.6h4.7M602.3 356.2v4.7M604.5 331.8h4.7M606.8 329.4v4.7M602.5 344.8h4.7M604.9 342.5v4.7M607.7 332.0h4.7M610.1 329.6v4.7M604.5 381.9h4.7M606.9 379.6v4.7M597.3 383.5h4.7M599.6 381.2v4.7M606.3 395.8h4.7M608.7 393.5v4.7M602.0 395.1h4.7M604.4 392.7v4.7M596.7 414.7h4.7M599.1 412.3v4.7M588.9 409.6h4.7M591.3 407.3v4.7M604.6 409.2h4.7M607.0 406.9v4.7M587.5 426.4h4.7M589.9 424.1v4.7M595.3 431.0h4.7M597.7 428.6v4.7M589.8 409.4h4.7M592.1 407.0v4.7" stroke="#5454ff" stroke-width="0.9" fill="none"/>
<path d="M86.70 14.60L86.78 15.60L86.86 16.60L86.95 17.60L87.03 18.60L87.11 19.60L87.20 20.60L87.28 21.60L87.38 22.59L87.52 23.58L87.70 24.56L87.95 25.52L88.25 26.48L88.59 27.41L88.99 28.31L89.49 29.14L90.09 29.90L90.78 30.62L91.50 31.31L92.23 31.99L92.97 32.67L93.70 33.36L94.42 34.05L95.14 34.75L95.86 35.46L96.57 36.17L97.27 36.88L97.98 37.59L98.68 38.31L99.37 39.03L100.05 39.77L100.73 40.51L101.40 41.26L102.07 42.00L102.74 42.75L103.41 43.49L104.08 44.24L104.75 44.98L105.42 45.73L106.10 46.47L106.78 47.21L107.47 47.93L108.17 48.65L108.88 49.36L109.59 50.06L110.31 50.77L111.02 51.47L111.73 52.18L112.45 52.88L113.16 53.59L113.88 54.29L114.61 54.98L115.35 55.65L116.11 56.30L116.88 56.94L117.66 57.57L118.44 58.20L119.23 58.82L120.01 59.45L120.79 60.07L121.58 60.70L122.37 61.32L123.17 61.92L123.98 62.51L124.80 63.08L125.63 63.65L126.46 64.21L127.29 64.77L128.12 65.33L128.95 65.90L129.78 66.46L130.61 67.02L131.45 67.58L132.28 68.14L133.11 68.70L133.95 69.25L134.78 69.81L135.62 70.36L136.46 70.91L137.29 71.47L138.13 72.02L138.97 72.57L139.81 73.12L140.64 73.67L141.49 74.22L142.33 74.75L143.19 75.28L144.05 75.79L144.92 76.29L145.79 76.79L146.66 77.29L147.52 77.79L148.39 78.29L149.26 78.80L150.13 79.30L151.00 79.80L151.87 80.30L152.74 80.80L153.61 81.30L154.48 81.79L155.36 82.28L156.24 82.76L157.12 83.23L158.01 83.71L158.89 84.18L159.78 84.65L160.66 85.12L161.54 85.60L162.43 86.07L163.31 86.54L164.20 87.01L165.08 87.49L165.97 87.96L166.85 88.43L167.74 88.91L168.62 89.38L169.51 89.85L170.39 90.32L171.27 90.80L172.16 91.27L173.04 91.74L173.93 92.21L174.82 92.67L175.72 93.11L176.63 93.54L177.54 93.96L178.45 94.37L179.37 94.78L180.28 95.19L181.20 95.60L182.11 96.01L183.03 96.42L183.94 96.83L184.86 97.24L185.77 97.66L186.69 98.07L187.60 98.48L188.52 98.89L189.43 99.30L190.35 99.71L191.26 100.12L192.18 100.53L193.09 100.94L194.01 101.35L194.92 101.76L195.84 102.17L196.75 102.58L197.67 102.99L198.58 103.40L199.50 103.80L200.43 104.18L201.37 104.53L202.32 104.85L203.27 105.15L204.23 105.44L205.19 105.73L206.15 106.02L207.11 106.31L208.07 106.60L209.03 106.90L209.99 107.19L210.95 107.48L211.91 107.77L212.87 108.06L213.83 108.35L214.79 108.64L215.75 108.93L216.71 109.22L217.67 109.51L218.63 109.81L219.59 110.10L220.55 110.39L221.51 110.68L222.47 110.97L223.43 111.26L224.39 111.54L225.36 111.81L226.33 112.05L227.31 112.26L228.29 112.45L229.28 112.62L230.27 112.79L231.26 112.96L232.25 113.12L233.23 113.29L234.22 113.46L235.21 113.63L236.20 113.79L237.19 113.96L238.18 114.13L239.17 114.30L240.16 114.46L241.14 114.63L242.13 114.80L243.12 114.96L244.11 115.13L245.10 115.30L246.09 115.47L247.08 115.63L248.07 115.80L249.06 115.97L250.05 116.13L251.04 116.29L252.03 116.43L253.02 116.57L254.02 116.70L255.01 116.82L256.01 116.94L257.00 117.07L258.00 117.19L258.99 117.31L259.99 117.43L260.98 117.56L261.98 117.68L262.97 117.80L263.97 117.92L264.97 118.05L265.96 118.17L266.96 118.29L267.95 118.41L268.95 118.54L269.94 118.65L270.94 118.76L271.94 118.86L272.94 118.94L273.94 119.00L274.94 119.05L275.94 119.10L276.94 119.15L277.94 119.20L278.95 119.25L279.95 119.30L280.95 119.35L281.95 119.40L282.95 119.44L283.95 119.49L284.96 119.54L285.96 119.59L286.96 119.64L287.96 119.69L288.96 119.74L289.96 119.79L290.97 119.84L291.97 119.88L292.97 119.92L293.97 119.96L294.97 120.00L295.98 120.04L296.98 120.07L297.98 120.11L298.98 120.15L299.99 120.18L300.99 120.22L301.99 120.25L302.99 120.29L304.00 120.33L305.00 120.36L306.00 120.40L306.00 120.40" fill="none" stroke="#f00" stroke-width="1.65" stroke-linejoin="round" stroke-linecap="round"/>
<path d="M403.50 36.10L403.62 37.09L403.75 38.09L403.88 39.08L404.01 40.07L404.17 41.05L404.40 42.01L404.73 42.94L405.16 43.82L405.69 44.64L406.31 45.39L407.02 46.06L407.81 46.65L408.64 47.19L409.49 47.72L410.34 48.25L411.19 48.78L412.03 49.32L412.86 49.88L413.68 50.46L414.49 51.05L415.29 51.65L416.10 52.25L416.90 52.85L417.70 53.45L418.50 54.06L419.29 54.68L420.07 55.30L420.85 55.93L421.63 56.56L422.41 57.19L423.19 57.82L423.97 58.45L424.74 59.08L425.52 59.71L426.31 60.34L427.10 60.95L427.91 61.54L428.73 62.12L429.55 62.69L430.37 63.26L431.20 63.83L432.02 64.40L432.85 64.97L433.67 65.54L434.50 66.10L435.33 66.66L436.17 67.21L437.01 67.75L437.86 68.29L438.70 68.83L439.55 69.37L440.39 69.91L441.24 70.45L442.09 70.98L442.94 71.51L443.80 72.02L444.67 72.52L445.54 73.02L446.41 73.51L447.29 74.00L448.16 74.49L449.03 74.98L449.91 75.47L450.78 75.96L451.66 76.45L452.53 76.94L453.41 77.43L454.28 77.91L455.16 78.40L456.04 78.89L456.91 79.37L457.79 79.85L458.68 80.32L459.57 80.78L460.47 81.21L461.38 81.63L462.29 82.05L463.21 82.46L464.12 82.87L465.04 83.28L465.95 83.69L466.86 84.11L467.78 84.52L468.69 84.93L469.60 85.35L470.51 85.76L471.43 86.18L472.34 86.59L473.25 87.00L474.17 87.42L475.08 87.83L476.00 88.23L476.91 88.63L477.83 89.04L478.75 89.44L479.67 89.84L480.59 90.24L481.51 90.64L482.43 91.04L483.34 91.44L484.26 91.84L485.18 92.24L486.10 92.64L487.02 93.04L487.94 93.44L488.86 93.85L489.78 94.25L490.69 94.65L491.61 95.05L492.53 95.45L493.45 95.84L494.38 96.23L495.31 96.59L496.25 96.92L497.21 97.23L498.16 97.52L499.12 97.81L500.08 98.10L501.04 98.39L502.00 98.68L502.96 98.96L503.92 99.25L504.88 99.54L505.84 99.82L506.80 100.11L507.76 100.40L508.72 100.69L509.68 100.97L510.64 101.26L511.61 101.55L512.57 101.84L513.53 102.12L514.49 102.41L515.45 102.70L516.41 102.99L517.37 103.27L518.33 103.56L519.29 103.84L520.25 104.10L521.23 104.35L522.20 104.57L523.18 104.78L524.16 104.98L525.15 105.17L526.13 105.37L527.11 105.57L528.10 105.76L529.08 105.96L530.06 106.16L531.04 106.36L532.03 106.55L533.01 106.75L533.99 106.95L534.97 107.15L535.96 107.34L536.94 107.54L537.92 107.74L538.90 107.94L539.89 108.13L540.87 108.33L541.85 108.53L542.83 108.72L543.82 108.92L544.80 109.11L545.79 109.30L546.77 109.49L547.76 109.66L548.75 109.83L549.73 110.00L550.72 110.17L551.71 110.33L552.70 110.50L553.69 110.67L554.67 110.83L555.66 111.00L556.65 111.17L557.64 111.34L558.63 111.50L559.62 111.67L560.60 111.84L561.59 112.01L562.58 112.17L563.57 112.34L564.56 112.51L565.54 112.67L566.53 112.84L567.52 113.01L568.51 113.18L569.50 113.34L570.49 113.49L571.48 113.63L572.47 113.75L573.47 113.84L574.47 113.92L575.47 114.00L576.47 114.08L577.47 114.16L578.47 114.24L579.47 114.32L580.46 114.40L581.46 114.48L582.46 114.56L583.46 114.63L584.46 114.71L585.46 114.79L586.46 114.87L587.46 114.95L588.46 115.03L589.46 115.11L590.46 115.18L591.46 115.26L592.45 115.34L593.45 115.42L594.45 115.50L595.45 115.57L596.45 115.64L597.45 115.69L598.45 115.73L599.46 115.76L600.46 115.79L601.46 115.82L602.46 115.85L603.46 115.87L604.46 115.90L605.47 115.93L606.47 115.95L607.47 115.98L608.47 116.01L609.47 116.04L610.48 116.06L611.48 116.09L612.48 116.12L613.48 116.14L614.48 116.17L615.49 116.20L616.49 116.22L617.49 116.25L618.49 116.28L619.49 116.31L620.50 116.33L621.50 116.36L622.50 116.39L623.00 116.40" fill="none" stroke="#f00" stroke-width="1.65" stroke-linejoin="round" stroke-linecap="round"/>
<path d="M86.60 306.10L86.63 307.10L86.66 308.11L86.69 309.11L86.72 310.11L86.76 311.12L86.79 312.12L86.82 313.12L86.85 314.13L86.88 315.13L86.91 316.13L86.94 317.14L86.97 318.14L87.01 319.14L87.04 320.15L87.08 321.15L87.13 322.15L87.20 323.15L87.29 324.15L87.39 325.15L87.49 326.15L87.59 327.15L87.68 328.15L87.78 329.15L87.88 330.14L87.99 331.14L88.12 332.13L88.35 333.07L88.73 333.97L89.25 334.81L89.82 335.62L90.44 336.38L91.15 337.03L91.97 337.49L92.89 337.79L93.85 337.94L94.82 337.93L95.79 337.77L96.75 337.53L97.72 337.27L98.70 337.02L99.67 336.78L100.64 336.54L101.62 336.31L102.60 336.08L103.58 335.85L104.55 335.62L105.53 335.39L106.51 335.17L107.49 334.95L108.47 334.75L109.46 334.55L110.44 334.35L111.42 334.16L112.41 333.96L113.39 333.76L114.38 333.57L115.36 333.39L116.35 333.22L117.34 333.05L118.33 332.89L119.33 332.73L120.32 332.57L121.31 332.41L122.30 332.26L123.29 332.13L124.29 332.03L125.29 331.95L126.29 331.87L127.29 331.80L128.29 331.72L129.30 331.65L130.30 331.58L131.30 331.52L132.30 331.48L133.30 331.45L134.31 331.42L135.31 331.40L136.32 331.37L137.32 331.35L138.32 331.33L139.33 331.33L140.33 331.35L141.33 331.38L142.33 331.41L143.34 331.45L144.34 331.49L145.34 331.53L146.35 331.57L147.35 331.63L148.35 331.70L149.35 331.78L150.35 331.86L151.35 331.95L152.35 332.04L153.35 332.12L154.35 332.21L155.35 332.31L156.35 332.41L157.35 332.52L158.34 332.64L159.34 332.75L160.34 332.87L161.33 332.98L162.33 333.09L163.33 333.21L164.33 333.33L165.32 333.46L166.32 333.59L167.31 333.73L168.30 333.88L169.30 334.02L170.29 334.16L171.28 334.31L172.28 334.45L173.27 334.59L174.26 334.74L175.26 334.89L176.25 335.05L177.24 335.21L178.23 335.38L179.22 335.55L180.21 335.71L181.20 335.88L182.19 336.05L183.18 336.22L184.17 336.38L185.15 336.55L186.14 336.72L187.13 336.89L188.12 337.05L189.11 337.22L190.10 337.39L191.09 337.56L192.08 337.72L193.07 337.89L194.06 338.06L195.05 338.23L196.04 338.39L197.03 338.56L198.02 338.73L199.01 338.90L200.00 339.07L200.99 339.25L201.97 339.44L202.96 339.63L203.94 339.83L204.93 340.03L205.91 340.23L206.89 340.42L207.88 340.62L208.86 340.82L209.85 341.02L210.83 341.21L211.81 341.41L212.80 341.61L213.78 341.81L214.77 342.00L215.75 342.20L216.74 342.40L217.72 342.60L218.70 342.79L219.69 342.99L220.67 343.19L221.66 343.39L222.64 343.59L223.62 343.78L224.61 343.98L225.59 344.17L226.58 344.34L227.57 344.50L228.57 344.65L229.56 344.80L230.55 344.95L231.54 345.10L232.54 345.25L233.53 345.40L234.52 345.55L235.52 345.69L236.51 345.84L237.50 345.99L238.49 346.14L239.49 346.29L240.48 346.44L241.47 346.58L242.46 346.73L243.46 346.88L244.45 347.03L245.44 347.18L246.44 347.33L247.43 347.48L248.42 347.62L249.41 347.77L250.41 347.91L251.40 348.04L252.40 348.15L253.40 348.24L254.40 348.32L255.40 348.40L256.40 348.48L257.40 348.56L258.40 348.64L259.40 348.71L260.40 348.79L261.40 348.87L262.41 348.95L263.41 349.03L264.41 349.11L265.41 349.19L266.41 349.27L267.41 349.34L268.41 349.42L269.41 349.50L270.41 349.58L271.41 349.66L272.41 349.74L273.41 349.82L274.41 349.90L275.41 349.97L276.42 350.04L277.42 350.11L278.42 350.16L279.42 350.20L280.43 350.24L281.43 350.28L282.43 350.32L283.43 350.37L284.44 350.41L285.44 350.45L286.44 350.49L287.45 350.53L288.45 350.57L289.45 350.62L290.45 350.66L291.46 350.70L292.46 350.74L293.46 350.78L294.47 350.82L295.47 350.86L296.47 350.91L297.48 350.95L298.48 350.99L299.48 351.03L300.48 351.07L301.49 351.11L302.49 351.15L303.49 351.20L304.50 351.24L305.50 351.28L306.00 351.30" fill="none" stroke="#f00" stroke-width="1.65" stroke-linejoin="round" stroke-linecap="round"/>
<path d="M403.60 363.58L404.60 366.06L405.60 368.48L406.60 370.84L407.60 373.13L408.60 375.37L409.60 377.55L410.60 379.67L411.60 381.74L412.60 383.76L413.60 385.72L414.60 387.64L415.60 389.51L416.60 391.34L417.60 393.12L418.60 394.86L419.60 396.56L420.60 398.22L421.60 399.85L422.60 401.44L423.60 403.00L424.60 404.53L425.60 406.02L426.60 407.49L427.60 408.94L428.60 410.36L429.60 411.75L430.60 413.13L431.60 414.49L432.60 415.83L433.60 417.15L434.60 418.46L435.60 419.75L436.60 421.02L437.60 422.28L438.60 423.52L439.60 424.74L440.60 425.94L441.60 427.13L442.60 428.29L443.60 429.44L444.60 430.57L445.60 431.68L446.60 432.77L447.60 433.84L448.60 434.89L449.60 435.92L450.60 436.94L451.60 437.93L452.60 438.90L453.60 439.85L454.60 440.78L455.60 441.69L456.60 442.57L457.60 443.44L458.60 444.28L459.60 445.11L460.60 445.90L461.60 446.68L462.60 447.44L463.60 448.17L464.60 448.88L465.60 449.57L466.60 450.24L467.60 450.88L468.60 451.50L469.60 452.10L470.60 452.68L471.60 453.23L472.60 453.76L473.60 454.27L474.60 454.76L475.60 455.22L476.60 455.67L477.60 456.09L478.60 456.49L479.60 456.86L480.60 457.21L481.60 457.55L482.60 457.85L483.60 458.14L484.60 458.40L485.60 458.64L486.60 458.86L487.60 459.06L488.60 459.23L489.60 459.39L490.60 459.51L491.60 459.62L492.60 459.71L493.60 459.77L494.60 459.81L495.60 459.82L496.60 459.82L497.60 459.79L498.60 459.74L499.60 459.67L500.60 459.57L501.60 459.45L502.60 459.31L503.60 459.15L504.60 458.96L505.60 458.75L506.60 458.52L507.60 458.27L508.60 457.99L509.60 457.68L510.60 457.34L511.60 456.97L512.60 456.57L513.60 456.12L514.60 455.64L515.60 455.12L516.60 454.56L517.60 453.95L518.60 453.29L519.60 452.58L520.60 451.83L521.60 451.01L522.60 450.15L523.60 449.22L524.60 448.23L525.60 447.18L526.60 446.07L527.60 444.89L528.60 443.64L529.60 442.31L530.60 440.92L531.60 439.45L532.60 437.91L533.60 436.29L534.60 434.62L535.60 432.88L536.60 431.09L537.60 429.24L538.60 427.35L539.60 425.42L540.60 423.45L541.60 421.45L542.60 419.42L543.60 417.37L544.60 415.30L545.60 413.22L546.60 411.12L547.60 409.02L548.60 406.92L549.60 404.83L550.60 402.75L551.60 400.70L552.60 398.67L553.60 396.69L554.60 394.76L555.60 392.88L556.60 391.06L557.60 389.32L558.60 387.65L559.60 386.07L560.60 384.57L561.60 383.15L562.60 381.81L563.60 380.56L564.60 379.38L565.60 378.30L566.60 377.29L567.60 376.36L568.60 375.50L569.60 374.71L570.60 373.99L571.60 373.33L572.60 372.73L573.60 372.18L574.60 371.69L575.60 371.24L576.60 370.83L577.60 370.47L578.60 370.14L579.60 369.84L580.60 369.57L581.60 369.32L582.60 369.09L583.60 368.88L584.60 368.68L585.60 368.49L586.60 368.31L587.60 368.13L588.60 367.95L589.60 367.76L590.60 367.58L591.60 367.39L592.60 367.21L593.60 367.03L594.60 366.85L595.60 366.67L596.60 366.49L597.60 366.32L598.60 366.15L599.60 365.98L600.60 365.82L601.60 365.66L602.60 365.51L603.60 365.36L604.60 365.22L605.60 365.09L606.60 364.96L607.60 364.84L608.60 364.73L609.60 364.62L610.60 364.53L611.60 364.44L612.60 364.36L613.60 364.30L614.60 364.24L615.60 364.19L616.60 364.16L617.60 364.14L618.60 364.13L619.60 364.13L620.60 364.14L621.60 364.17L622.60 364.22" fill="none" stroke="#f00" stroke-width="1.65" stroke-linejoin="round" stroke-linecap="round"/>
<path d="M72.99 210v-1.6M72.99 7v1.6M88.19 210v-1.6M88.19 7v1.6M98.98 210v-1.6M98.98 7v1.6M107.34 210v-1.6M107.34 7v1.6M114.18 210v-1.6M114.18 7v1.6M119.96 210v-1.6M119.96 7v1.6M124.97 210v-1.6M124.97 7v1.6M129.38 210v-1.6M129.38 7v1.6M133.33 210v-2.6M133.33 7v2.6M159.32 210v-1.6M159.32 7v1.6M174.52 210v-1.6M174.52 7v1.6M185.31 210v-1.6M185.31 7v1.6M193.68 210v-1.6M193.68 7v1.6M200.51 210v-1.6M200.51 7v1.6M206.29 210v-1.6M206.29 7v1.6M211.30 210v-1.6M211.30 7v1.6M215.72 210v-1.6M215.72 7v1.6M219.67 210v-2.6M219.67 7v2.6M245.66 210v-1.6M245.66 7v1.6M260.86 210v-1.6M260.86 7v1.6M271.64 210v-1.6M271.64 7v1.6M280.01 210v-1.6M280.01 7v1.6M286.85 210v-1.6M286.85 7v1.6M292.63 210v-1.6M292.63 7v1.6M297.63 210v-1.6M297.63 7v1.6M302.05 210v-1.6M302.05 7v1.6M47 194.72h1.6M306 194.72h-1.6M47 185.79h1.6M306 185.79h-1.6M47 179.45h1.6M306 179.45h-1.6M47 174.53h1.6M306 174.53h-1.6M47 170.51h1.6M306 170.51h-1.6M47 167.11h1.6M306 167.11h-1.6M47 164.17h1.6M306 164.17h-1.6M47 161.57h1.6M306 161.57h-1.6M47 159.25h2.6M306 159.25h-2.6M47 143.97h1.6M306 143.97h-1.6M47 135.04h1.6M306 135.04h-1.6M47 128.70h1.6M306 128.70h-1.6M47 123.78h1.6M306 123.78h-1.6M47 119.76h1.6M306 119.76h-1.6M47 116.36h1.6M306 116.36h-1.6M47 113.42h1.6M306 113.42h-1.6M47 110.82h1.6M306 110.82h-1.6M47 108.50h2.6M306 108.50h-2.6M47 93.22h1.6M306 93.22h-1.6M47 84.29h1.6M306 84.29h-1.6M47 77.95h1.6M306 77.95h-1.6M47 73.03h1.6M306 73.03h-1.6M47 69.01h1.6M306 69.01h-1.6M47 65.61h1.6M306 65.61h-1.6M47 62.67h1.6M306 62.67h-1.6M47 60.07h1.6M306 60.07h-1.6M47 57.75h2.6M306 57.75h-2.6M47 42.47h1.6M306 42.47h-1.6M47 33.54h1.6M306 33.54h-1.6M47 27.20h1.6M306 27.20h-1.6M47 22.28h1.6M306 22.28h-1.6M47 18.26h1.6M306 18.26h-1.6M47 14.86h1.6M306 14.86h-1.6M47 11.92h1.6M306 11.92h-1.6M47 9.32h1.6M306 9.32h-1.6" stroke="#000" stroke-width="0.9" fill="none"/>
<rect x="47" y="7" width="259" height="203" fill="none" stroke="#000" stroke-width="1.6"/>
<text x="47.00" y="226" text-anchor="middle" font-size="9.6">10<tspan font-size="6.6" dy="-5.5">−1</tspan></text>
<text x="133.33" y="226" text-anchor="middle" font-size="9.6">10<tspan font-size="6.6" dy="-5.5">0</tspan></text>
<text x="219.67" y="226" text-anchor="middle" font-size="9.6">10<tspan font-size="6.6" dy="-5.5">1</tspan></text>
<text x="306.00" y="226" text-anchor="middle" font-size="9.6">10<tspan font-size="6.6" dy="-5.5">2</tspan></text>
<text x="42.5" y="213.80" text-anchor="end" font-size="9.6">10<tspan font-size="6.6" dy="-5.5">0</tspan></text>
<text x="42.5" y="163.05" text-anchor="end" font-size="9.6">10<tspan font-size="6.6" dy="-5.5">1</tspan></text>
<text x="42.5" y="112.30" text-anchor="end" font-size="9.6">10<tspan font-size="6.6" dy="-5.5">2</tspan></text>
<text x="42.5" y="61.55" text-anchor="end" font-size="9.6">10<tspan font-size="6.6" dy="-5.5">3</tspan></text>
<text x="42.5" y="10.80" text-anchor="end" font-size="9.6">10<tspan font-size="6.6" dy="-5.5">4</tspan></text>
<text x="177.0" y="239.7" text-anchor="middle" font-size="12.2">R (AU)</text>
<path d="M389.99 210v-1.6M389.99 7v1.6M405.19 210v-1.6M405.19 7v1.6M415.98 210v-1.6M415.98 7v1.6M424.34 210v-1.6M424.34 7v1.6M431.18 210v-1.6M431.18 7v1.6M436.96 210v-1.6M436.96 7v1.6M441.97 210v-1.6M441.97 7v1.6M446.38 210v-1.6M446.38 7v1.6M450.33 210v-2.6M450.33 7v2.6M476.32 210v-1.6M476.32 7v1.6M491.52 210v-1.6M491.52 7v1.6M502.31 210v-1.6M502.31 7v1.6M510.68 210v-1.6M510.68 7v1.6M517.51 210v-1.6M517.51 7v1.6M523.29 210v-1.6M523.29 7v1.6M528.30 210v-1.6M528.30 7v1.6M532.72 210v-1.6M532.72 7v1.6M536.67 210v-2.6M536.67 7v2.6M562.66 210v-1.6M562.66 7v1.6M577.86 210v-1.6M577.86 7v1.6M588.64 210v-1.6M588.64 7v1.6M597.01 210v-1.6M597.01 7v1.6M603.85 210v-1.6M603.85 7v1.6M609.63 210v-1.6M609.63 7v1.6M614.63 210v-1.6M614.63 7v1.6M619.05 210v-1.6M619.05 7v1.6M364 199.82h1.6M623 199.82h-1.6M364 193.86h1.6M623 193.86h-1.6M364 189.63h1.6M623 189.63h-1.6M364 186.35h1.6M623 186.35h-1.6M364 183.67h1.6M623 183.67h-1.6M364 181.41h1.6M623 181.41h-1.6M364 179.45h1.6M623 179.45h-1.6M364 177.71h1.6M623 177.71h-1.6M364 176.17h2.6M623 176.17h-2.6M364 165.98h1.6M623 165.98h-1.6M364 160.02h1.6M623 160.02h-1.6M364 155.80h1.6M623 155.80h-1.6M364 152.52h1.6M623 152.52h-1.6M364 149.84h1.6M623 149.84h-1.6M364 147.57h1.6M623 147.57h-1.6M364 145.61h1.6M623 145.61h-1.6M364 143.88h1.6M623 143.88h-1.6M364 142.33h2.6M623 142.33h-2.6M364 132.15h1.6M623 132.15h-1.6M364 126.19h1.6M623 126.19h-1.6M364 121.96h1.6M623 121.96h-1.6M364 118.68h1.6M623 118.68h-1.6M364 116.01h1.6M623 116.01h-1.6M364 113.74h1.6M623 113.74h-1.6M364 111.78h1.6M623 111.78h-1.6M364 110.05h1.6M623 110.05h-1.6M364 108.50h2.6M623 108.50h-2.6M364 98.32h1.6M623 98.32h-1.6M364 92.36h1.6M623 92.36h-1.6M364 88.13h1.6M623 88.13h-1.6M364 84.85h1.6M623 84.85h-1.6M364 82.17h1.6M623 82.17h-1.6M364 79.91h1.6M623 79.91h-1.6M364 77.95h1.6M623 77.95h-1.6M364 76.21h1.6M623 76.21h-1.6M364 74.67h2.6M623 74.67h-2.6M364 64.48h1.6M623 64.48h-1.6M364 58.52h1.6M623 58.52h-1.6M364 54.30h1.6M623 54.30h-1.6M364 51.02h1.6M623 51.02h-1.6M364 48.34h1.6M623 48.34h-1.6M364 46.07h1.6M623 46.07h-1.6M364 44.11h1.6M623 44.11h-1.6M364 42.38h1.6M623 42.38h-1.6M364 40.83h2.6M623 40.83h-2.6M364 30.65h1.6M623 30.65h-1.6M364 24.69h1.6M623 24.69h-1.6M364 20.46h1.6M623 20.46h-1.6M364 17.18h1.6M623 17.18h-1.6M364 14.51h1.6M623 14.51h-1.6M364 12.24h1.6M623 12.24h-1.6M364 10.28h1.6M623 10.28h-1.6M364 8.55h1.6M623 8.55h-1.6" stroke="#000" stroke-width="0.9" fill="none"/>
<rect x="364" y="7" width="259" height="203" fill="none" stroke="#000" stroke-width="1.6"/>
<text x="364.00" y="226" text-anchor="middle" font-size="9.6">10<tspan font-size="6.6" dy="-5.5">−1</tspan></text>
<text x="450.33" y="226" text-anchor="middle" font-size="9.6">10<tspan font-size="6.6" dy="-5.5">0</tspan></text>
<text x="536.67" y="226" text-anchor="middle" font-size="9.6">10<tspan font-size="6.6" dy="-5.5">1</tspan></text>
<text x="623.00" y="226" text-anchor="middle" font-size="9.6">10<tspan font-size="6.6" dy="-5.5">2</tspan></text>
<text x="359.5" y="213.80" text-anchor="end" font-size="9.6">10<tspan font-size="6.6" dy="-5.5">−1</tspan></text>
<text x="359.5" y="179.97" text-anchor="end" font-size="9.6">10<tspan font-size="6.6" dy="-5.5">0</tspan></text>
<text x="359.5" y="146.13" text-anchor="end" font-size="9.6">10<tspan font-size="6.6" dy="-5.5">1</tspan></text>
<text x="359.5" y="112.30" text-anchor="end" font-size="9.6">10<tspan font-size="6.6" dy="-5.5">2</tspan></text>
<text x="359.5" y="78.47" text-anchor="end" font-size="9.6">10<tspan font-size="6.6" dy="-5.5">3</tspan></text>
<text x="359.5" y="44.63" text-anchor="end" font-size="9.6">10<tspan font-size="6.6" dy="-5.5">4</tspan></text>
<text x="359.5" y="10.80" text-anchor="end" font-size="9.6">10<tspan font-size="6.6" dy="-5.5">5</tspan></text>
<text x="494.0" y="239.7" text-anchor="middle" font-size="12.2">R (AU)</text>
<path d="M72.99 464v-1.6M72.99 261v1.6M88.19 464v-1.6M88.19 261v1.6M98.98 464v-1.6M98.98 261v1.6M107.34 464v-1.6M107.34 261v1.6M114.18 464v-1.6M114.18 261v1.6M119.96 464v-1.6M119.96 261v1.6M124.97 464v-1.6M124.97 261v1.6M129.38 464v-1.6M129.38 261v1.6M133.33 464v-2.6M133.33 261v2.6M159.32 464v-1.6M159.32 261v1.6M174.52 464v-1.6M174.52 261v1.6M185.31 464v-1.6M185.31 261v1.6M193.68 464v-1.6M193.68 261v1.6M200.51 464v-1.6M200.51 261v1.6M206.29 464v-1.6M206.29 261v1.6M211.30 464v-1.6M211.30 261v1.6M215.72 464v-1.6M215.72 261v1.6M219.67 464v-2.6M219.67 261v2.6M245.66 464v-1.6M245.66 261v1.6M260.86 464v-1.6M260.86 261v1.6M271.64 464v-1.6M271.64 261v1.6M280.01 464v-1.6M280.01 261v1.6M286.85 464v-1.6M286.85 261v1.6M292.63 464v-1.6M292.63 261v1.6M297.63 464v-1.6M297.63 261v1.6M302.05 464v-1.6M302.05 261v1.6M47 451.78h1.6M306 451.78h-1.6M47 444.63h1.6M306 444.63h-1.6M47 439.56h1.6M306 439.56h-1.6M47 435.62h1.6M306 435.62h-1.6M47 432.41h1.6M306 432.41h-1.6M47 429.69h1.6M306 429.69h-1.6M47 427.33h1.6M306 427.33h-1.6M47 425.26h1.6M306 425.26h-1.6M47 423.40h2.6M306 423.40h-2.6M47 411.18h1.6M306 411.18h-1.6M47 404.03h1.6M306 404.03h-1.6M47 398.96h1.6M306 398.96h-1.6M47 395.02h1.6M306 395.02h-1.6M47 391.81h1.6M306 391.81h-1.6M47 389.09h1.6M306 389.09h-1.6M47 386.73h1.6M306 386.73h-1.6M47 384.66h1.6M306 384.66h-1.6M47 382.80h2.6M306 382.80h-2.6M47 370.58h1.6M306 370.58h-1.6M47 363.43h1.6M306 363.43h-1.6M47 358.36h1.6M306 358.36h-1.6M47 354.42h1.6M306 354.42h-1.6M47 351.21h1.6M306 351.21h-1.6M47 348.49h1.6M306 348.49h-1.6M47 346.13h1.6M306 346.13h-1.6M47 344.06h1.6M306 344.06h-1.6M47 342.20h2.6M306 342.20h-2.6M47 329.98h1.6M306 329.98h-1.6M47 322.83h1.6M306 322.83h-1.6M47 317.76h1.6M306 317.76h-1.6M47 313.82h1.6M306 313.82h-1.6M47 310.61h1.6M306 310.61h-1.6M47 307.89h1.6M306 307.89h-1.6M47 305.53h1.6M306 305.53h-1.6M47 303.46h1.6M306 303.46h-1.6M47 301.60h2.6M306 301.60h-2.6M47 289.38h1.6M306 289.38h-1.6M47 282.23h1.6M306 282.23h-1.6M47 277.16h1.6M306 277.16h-1.6M47 273.22h1.6M306 273.22h-1.6M47 270.01h1.6M306 270.01h-1.6M47 267.29h1.6M306 267.29h-1.6M47 264.93h1.6M306 264.93h-1.6M47 262.86h1.6M306 262.86h-1.6" stroke="#000" stroke-width="0.9" fill="none"/>
<rect x="47" y="261" width="259" height="203" fill="none" stroke="#000" stroke-width="1.6"/>
<text x="47.00" y="480" text-anchor="middle" font-size="9.6">10<tspan font-size="6.6" dy="-5.5">−1</tspan></text>
<text x="133.33" y="480" text-anchor="middle" font-size="9.6">10<tspan font-size="6.6" dy="-5.5">0</tspan></text>
<text x="219.67" y="480" text-anchor="middle" font-size="9.6">10<tspan font-size="6.6" dy="-5.5">1</tspan></text>
<text x="306.00" y="480" text-anchor="middle" font-size="9.6">10<tspan font-size="6.6" dy="-5.5">2</tspan></text>
<text x="42.5" y="467.80" text-anchor="end" font-size="9.6">10<tspan font-size="6.6" dy="-5.5">−1</tspan></text>
<text x="42.5" y="427.20" text-anchor="end" font-size="9.6">10<tspan font-size="6.6" dy="-5.5">0</tspan></text>
<text x="42.5" y="386.60" text-anchor="end" font-size="9.6">10<tspan font-size="6.6" dy="-5.5">1</tspan></text>
<text x="42.5" y="346.00" text-anchor="end" font-size="9.6">10<tspan font-size="6.6" dy="-5.5">2</tspan></text>
<text x="42.5" y="305.40" text-anchor="end" font-size="9.6">10<tspan font-size="6.6" dy="-5.5">3</tspan></text>
<text x="42.5" y="264.80" text-anchor="end" font-size="9.6">10<tspan font-size="6.6" dy="-5.5">4</tspan></text>
<text x="177.0" y="493.7" text-anchor="middle" font-size="12.2">R (AU)</text>
<path d="M389.99 464v-1.6M389.99 261v1.6M405.19 464v-1.6M405.19 261v1.6M415.98 464v-1.6M415.98 261v1.6M424.34 464v-1.6M424.34 261v1.6M431.18 464v-1.6M431.18 261v1.6M436.96 464v-1.6M436.96 261v1.6M441.97 464v-1.6M441.97 261v1.6M446.38 464v-1.6M446.38 261v1.6M450.33 464v-2.6M450.33 261v2.6M476.32 464v-1.6M476.32 261v1.6M491.52 464v-1.6M491.52 261v1.6M502.31 464v-1.6M502.31 261v1.6M510.68 464v-1.6M510.68 261v1.6M517.51 464v-1.6M517.51 261v1.6M523.29 464v-1.6M523.29 261v1.6M528.30 464v-1.6M528.30 261v1.6M532.72 464v-1.6M532.72 261v1.6M536.67 464v-2.6M536.67 261v2.6M562.66 464v-1.6M562.66 261v1.6M577.86 464v-1.6M577.86 261v1.6M588.64 464v-1.6M588.64 261v1.6M597.01 464v-1.6M597.01 261v1.6M603.85 464v-1.6M603.85 261v1.6M609.63 464v-1.6M609.63 261v1.6M614.63 464v-1.6M614.63 261v1.6M619.05 464v-1.6M619.05 261v1.6M364 443.70h2.6M623 443.70h-2.6M364 423.40h2.6M623 423.40h-2.6M364 403.10h2.6M623 403.10h-2.6M364 382.80h2.6M623 382.80h-2.6M364 362.50h2.6M623 362.50h-2.6M364 342.20h2.6M623 342.20h-2.6M364 321.90h2.6M623 321.90h-2.6M364 301.60h2.6M623 301.60h-2.6M364 281.30h2.6M623 281.30h-2.6" stroke="#000" stroke-width="0.9" fill="none"/>
<rect x="364" y="261" width="259" height="203" fill="none" stroke="#000" stroke-width="1.6"/>
<text x="364.00" y="480" text-anchor="middle" font-size="9.6">10<tspan font-size="6.6" dy="-5.5">−1</tspan></text>
<text x="450.33" y="480" text-anchor="middle" font-size="9.6">10<tspan font-size="6.6" dy="-5.5">0</tspan></text>
<text x="536.67" y="480" text-anchor="middle" font-size="9.6">10<tspan font-size="6.6" dy="-5.5">1</tspan></text>
<text x="623.00" y="480" text-anchor="middle" font-size="9.6">10<tspan font-size="6.6" dy="-5.5">2</tspan></text>
<text x="359.5" y="467.30" text-anchor="end" font-size="9.6">−1</text>
<text x="359.5" y="447.00" text-anchor="end" font-size="9.6">−0.8</text>
<text x="359.5" y="426.70" text-anchor="end" font-size="9.6">−0.6</text>
<text x="359.5" y="406.40" text-anchor="end" font-size="9.6">−0.4</text>
<text x="359.5" y="386.10" text-anchor="end" font-size="9.6">−0.2</text>
<text x="359.5" y="365.80" text-anchor="end" font-size="9.6">0</text>
<text x="359.5" y="345.50" text-anchor="end" font-size="9.6">0.2</text>
<text x="359.5" y="325.20" text-anchor="end" font-size="9.6">0.4</text>
<text x="359.5" y="304.90" text-anchor="end" font-size="9.6">0.6</text>
<text x="359.5" y="284.60" text-anchor="end" font-size="9.6">0.8</text>
<text x="359.5" y="264.30" text-anchor="end" font-size="9.6">1</text>
<text x="494.0" y="493.7" text-anchor="middle" font-size="12.2">R (AU)</text>
<text transform="translate(13,107.9) rotate(-90)" text-anchor="middle" font-size="12.4">E<tspan font-size="9.5" dy="5.8">T</tspan><tspan dy="-5.8">,</tspan> (km/s)<tspan font-size="10" dy="-6.6">2</tspan></text>
<text transform="translate(337.5,108.2) rotate(-90)" text-anchor="middle" font-size="12.4">g, (km/s)<tspan font-size="10" dy="-6.6">2</tspan></text>
<text transform="translate(18.7,363.0) rotate(-90)" text-anchor="middle" font-size="12.4">f, (km/s)<tspan font-size="10" dy="-6.6">2</tspan></text>
<text transform="translate(332.4,363) rotate(-90)" text-anchor="middle" font-size="13" style="font-family:'Liberation Serif',serif;font-style:italic">σ<tspan font-size="8.6" dy="1.9" style="font-style:italic">D</tspan></text>
<rect x="51.6" y="123.6" width="58.4" height="80.4" fill="#fff" stroke="#000" stroke-width="1.4"/>
<path d="M56.0 130.4H79.3" stroke="#f00" stroke-width="1.7"/>
<text x="82.1" y="133.7" font-size="9.7">Model</text>
<path d="M65.2 144.5h5M67.7 142.0v5" stroke="#5e5" stroke-width="0.9"/>
<path d="M65.2 160.9h5M67.7 158.4v5" stroke="#f66" stroke-width="0.9"/>
<path d="M65.2 177.3h5M67.7 174.8v5" stroke="#66f" stroke-width="0.9"/>
<text x="82.1" y="144" font-size="9.8">E<tspan font-size="7.6" dy="4.5">TR</tspan></text>
<text x="82.1" y="160.5" font-size="9.8">E<tspan font-size="7.6" dy="4.5">TT</tspan></text>
<text x="82.1" y="176.7" font-size="9.8">E<tspan font-size="7.6" dy="4.5">TN</tspan></text>
<text x="82.1" y="192.9" font-size="9.8">E<tspan font-size="7.6" dy="4.5">T</tspan></text>
<path d="M64.7 195.7L67.7 190.7L70.7 195.7Z" fill="none" stroke="#333" stroke-width="0.7"/>
<rect x="369.4" y="128" width="57.8" height="76.0" fill="#fff" stroke="#000" stroke-width="1.4"/>
<path d="M373.8 135.4H397.1" stroke="#f00" stroke-width="1.7"/>
<text x="399.9" y="138.5" font-size="9.7">Model</text>
<path d="M383.0 149.5h5M385.5 147.0v5" stroke="#5e5" stroke-width="0.9"/>
<path d="M383.0 166.1h5M385.5 163.6v5" stroke="#f66" stroke-width="0.9"/>
<path d="M383.0 182.2h5M385.5 179.7v5" stroke="#66f" stroke-width="0.9"/>
<text x="399.9" y="149.2" font-size="9.8">g<tspan font-size="7.6" dy="4.5">R</tspan></text>
<text x="399.9" y="165.9" font-size="9.8">g<tspan font-size="7.6" dy="4.5">T</tspan></text>
<text x="399.9" y="182.5" font-size="9.8">g<tspan font-size="7.6" dy="4.5">N</tspan></text>
<text x="399.9" y="200.1" font-size="9.8">g</text>
<path d="M382.5 198.4L385.5 193.4L388.5 198.4Z" fill="none" stroke="#333" stroke-width="0.7"/>
<rect x="51.3" y="381.8" width="59.0" height="75.4" fill="#fff" stroke="#000" stroke-width="1.4"/>
<path d="M55.7 389.1H79.0" stroke="#f00" stroke-width="1.7"/>
<text x="81.8" y="392.4" font-size="9.7">Model</text>
<path d="M64.9 403.4h5M67.4 400.9v5" stroke="#5e5" stroke-width="0.9"/>
<path d="M64.9 420h5M67.4 417.5v5" stroke="#f66" stroke-width="0.9"/>
<path d="M64.9 436.4h5M67.4 433.9v5" stroke="#66f" stroke-width="0.9"/>
<text x="81.8" y="403" font-size="9.8">f<tspan font-size="7.6" dy="4.5">R</tspan></text>
<text x="81.8" y="419.2" font-size="9.8">f<tspan font-size="7.6" dy="4.5">T</tspan></text>
<text x="81.8" y="435.3" font-size="9.8">f<tspan font-size="7.6" dy="4.5">N</tspan></text>
<text x="81.8" y="453" font-size="9.8">f</text>
<path d="M64.4 452.5L67.4 447.5L70.4 452.5Z" fill="none" stroke="#333" stroke-width="0.7"/>
</svg></body></html>
